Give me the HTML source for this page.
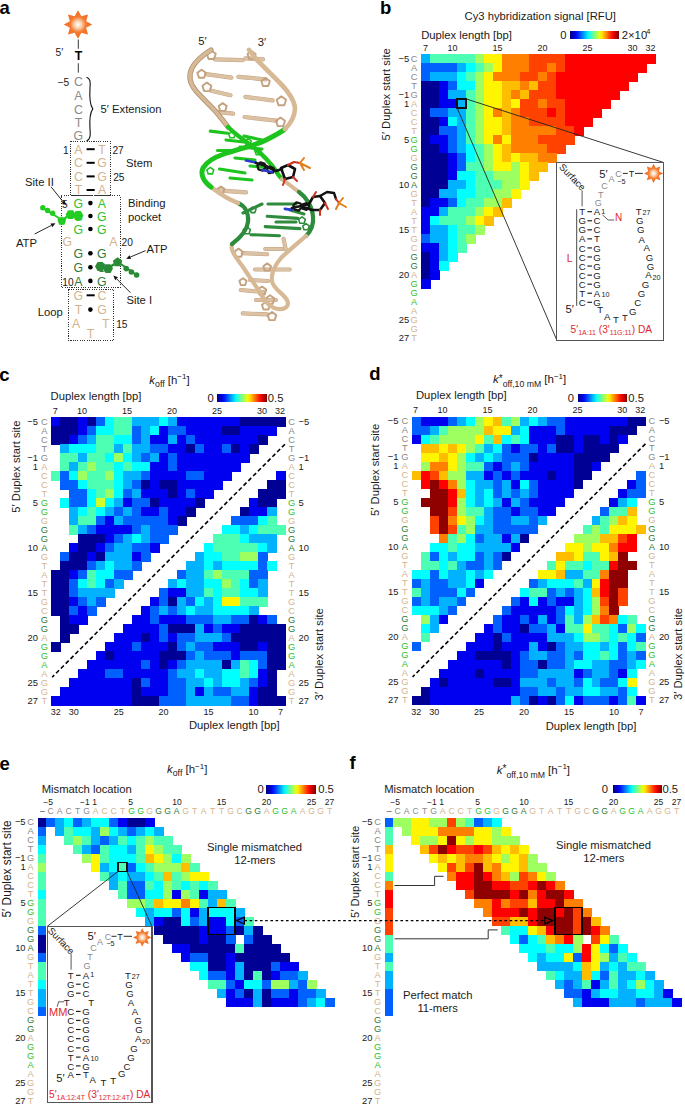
<!DOCTYPE html><html><head><meta charset="utf-8"><style>html,body{margin:0;padding:0;background:#fff;}svg{display:block;} svg rect{shape-rendering:crispEdges;}</style></head><body><svg width="685" height="1105" viewBox="0 0 685 1105" font-family='"Liberation Sans", sans-serif'>
<defs><linearGradient id="jetg" x1="0" x2="1" y1="0" y2="0"><stop offset="0.00" stop-color="#000080"/><stop offset="0.05" stop-color="#0000b2"/><stop offset="0.10" stop-color="#0000e6"/><stop offset="0.15" stop-color="#001aff"/><stop offset="0.20" stop-color="#004dff"/><stop offset="0.25" stop-color="#0080ff"/><stop offset="0.30" stop-color="#00b2ff"/><stop offset="0.35" stop-color="#00e5ff"/><stop offset="0.40" stop-color="#1affe5"/><stop offset="0.45" stop-color="#4dffb2"/><stop offset="0.50" stop-color="#80ff80"/><stop offset="0.55" stop-color="#b3ff4c"/><stop offset="0.60" stop-color="#e5ff1a"/><stop offset="0.65" stop-color="#ffe500"/><stop offset="0.70" stop-color="#ffb300"/><stop offset="0.75" stop-color="#ff8000"/><stop offset="0.80" stop-color="#ff4c00"/><stop offset="0.85" stop-color="#ff1a00"/><stop offset="0.90" stop-color="#e50000"/><stop offset="0.95" stop-color="#b30000"/><stop offset="1.00" stop-color="#800000"/></linearGradient><radialGradient id="starg" cx="0.5" cy="0.5" r="0.5"><stop offset="0" stop-color="#ffffff"/><stop offset="0.25" stop-color="#fbd3b0"/><stop offset="0.55" stop-color="#f47a30"/><stop offset="1" stop-color="#f26a1b"/></radialGradient></defs>
<rect width="685" height="1105" fill="#ffffff"/>
<text x="-0.60" y="14.00" font-size="18.5" fill="#000" text-anchor="start" font-weight="bold" font-style="normal" >a</text>
<text x="380.00" y="14.40" font-size="18.5" fill="#000" text-anchor="start" font-weight="bold" font-style="normal" >b</text>
<text x="-0.80" y="380.50" font-size="18.5" fill="#000" text-anchor="start" font-weight="bold" font-style="normal" >c</text>
<text x="369.20" y="380.40" font-size="18.5" fill="#000" text-anchor="start" font-weight="bold" font-style="normal" >d</text>
<text x="-0.60" y="770.00" font-size="18.5" fill="#000" text-anchor="start" font-weight="bold" font-style="normal" >e</text>
<text x="349.60" y="768.90" font-size="18.5" fill="#000" text-anchor="start" font-weight="bold" font-style="normal" >f</text>
<rect x="421.10" y="53.90" width="9.60" height="9.60" fill="#00b2ff" />
<rect x="430.10" y="53.90" width="9.60" height="9.60" fill="#4dffb2" />
<rect x="439.10" y="53.90" width="9.60" height="9.60" fill="#4dffb2" />
<rect x="448.10" y="53.90" width="9.60" height="9.60" fill="#4dffb2" />
<rect x="457.10" y="53.90" width="9.60" height="9.60" fill="#4dffb2" />
<rect x="466.10" y="53.90" width="9.60" height="9.60" fill="#4dffb2" />
<rect x="475.10" y="53.90" width="9.60" height="9.60" fill="#9eff61" />
<rect x="484.10" y="53.90" width="9.60" height="9.60" fill="#fff500" />
<rect x="493.10" y="53.90" width="9.60" height="9.60" fill="#fff500" />
<rect x="502.10" y="53.90" width="9.60" height="9.60" fill="#ff8000" />
<rect x="511.10" y="53.90" width="9.60" height="9.60" fill="#ff8000" />
<rect x="520.10" y="53.90" width="9.60" height="9.60" fill="#ff8000" />
<rect x="529.10" y="53.90" width="9.60" height="9.60" fill="#ff4200" />
<rect x="538.10" y="53.90" width="9.60" height="9.60" fill="#ff4200" />
<rect x="547.10" y="53.90" width="9.60" height="9.60" fill="#ff4200" />
<rect x="556.10" y="53.90" width="9.60" height="9.60" fill="#ff4200" />
<rect x="565.10" y="53.90" width="9.60" height="9.60" fill="#ff0000" />
<rect x="574.10" y="53.90" width="9.60" height="9.60" fill="#ff0000" />
<rect x="583.10" y="53.90" width="9.60" height="9.60" fill="#ff0000" />
<rect x="592.10" y="53.90" width="9.60" height="9.60" fill="#ff0000" />
<rect x="601.10" y="53.90" width="9.60" height="9.60" fill="#ff0000" />
<rect x="610.10" y="53.90" width="9.60" height="9.60" fill="#ff0000" />
<rect x="619.10" y="53.90" width="9.60" height="9.60" fill="#ff0000" />
<rect x="628.10" y="53.90" width="9.60" height="9.60" fill="#ff0000" />
<rect x="637.10" y="53.90" width="9.60" height="9.60" fill="#ff0000" />
<rect x="646.10" y="53.90" width="9.60" height="9.60" fill="#ff0000" />
<rect x="421.10" y="62.90" width="9.60" height="9.60" fill="#0061ff" />
<rect x="430.10" y="62.90" width="9.60" height="9.60" fill="#0061ff" />
<rect x="439.10" y="62.90" width="9.60" height="9.60" fill="#0061ff" />
<rect x="448.10" y="62.90" width="9.60" height="9.60" fill="#0061ff" />
<rect x="457.10" y="62.90" width="9.60" height="9.60" fill="#00b2ff" />
<rect x="466.10" y="62.90" width="9.60" height="9.60" fill="#00ffff" />
<rect x="475.10" y="62.90" width="9.60" height="9.60" fill="#4dffb2" />
<rect x="484.10" y="62.90" width="9.60" height="9.60" fill="#9eff61" />
<rect x="493.10" y="62.90" width="9.60" height="9.60" fill="#fff500" />
<rect x="502.10" y="62.90" width="9.60" height="9.60" fill="#ff8000" />
<rect x="511.10" y="62.90" width="9.60" height="9.60" fill="#ff8000" />
<rect x="520.10" y="62.90" width="9.60" height="9.60" fill="#ff8000" />
<rect x="529.10" y="62.90" width="9.60" height="9.60" fill="#ff4200" />
<rect x="538.10" y="62.90" width="9.60" height="9.60" fill="#ff4200" />
<rect x="547.10" y="62.90" width="9.60" height="9.60" fill="#ff8000" />
<rect x="556.10" y="62.90" width="9.60" height="9.60" fill="#ff4200" />
<rect x="565.10" y="62.90" width="9.60" height="9.60" fill="#ff0000" />
<rect x="574.10" y="62.90" width="9.60" height="9.60" fill="#ff0000" />
<rect x="583.10" y="62.90" width="9.60" height="9.60" fill="#ff0000" />
<rect x="592.10" y="62.90" width="9.60" height="9.60" fill="#ff0000" />
<rect x="601.10" y="62.90" width="9.60" height="9.60" fill="#ff0000" />
<rect x="610.10" y="62.90" width="9.60" height="9.60" fill="#ff0000" />
<rect x="619.10" y="62.90" width="9.60" height="9.60" fill="#ff0000" />
<rect x="628.10" y="62.90" width="9.60" height="9.60" fill="#ff0000" />
<rect x="637.10" y="62.90" width="9.60" height="9.60" fill="#ff0000" />
<rect x="421.10" y="71.90" width="9.60" height="9.60" fill="#0061ff" />
<rect x="430.10" y="71.90" width="9.60" height="9.60" fill="#00b2ff" />
<rect x="439.10" y="71.90" width="9.60" height="9.60" fill="#00b2ff" />
<rect x="448.10" y="71.90" width="9.60" height="9.60" fill="#00b2ff" />
<rect x="457.10" y="71.90" width="9.60" height="9.60" fill="#00ffff" />
<rect x="466.10" y="71.90" width="9.60" height="9.60" fill="#4dffb2" />
<rect x="475.10" y="71.90" width="9.60" height="9.60" fill="#9eff61" />
<rect x="484.10" y="71.90" width="9.60" height="9.60" fill="#fff500" />
<rect x="493.10" y="71.90" width="9.60" height="9.60" fill="#ff8000" />
<rect x="502.10" y="71.90" width="9.60" height="9.60" fill="#ff8000" />
<rect x="511.10" y="71.90" width="9.60" height="9.60" fill="#ff8000" />
<rect x="520.10" y="71.90" width="9.60" height="9.60" fill="#ff4200" />
<rect x="529.10" y="71.90" width="9.60" height="9.60" fill="#ff4200" />
<rect x="538.10" y="71.90" width="9.60" height="9.60" fill="#ff8000" />
<rect x="547.10" y="71.90" width="9.60" height="9.60" fill="#ff4200" />
<rect x="556.10" y="71.90" width="9.60" height="9.60" fill="#ff0000" />
<rect x="565.10" y="71.90" width="9.60" height="9.60" fill="#ff0000" />
<rect x="574.10" y="71.90" width="9.60" height="9.60" fill="#ff0000" />
<rect x="583.10" y="71.90" width="9.60" height="9.60" fill="#ff0000" />
<rect x="592.10" y="71.90" width="9.60" height="9.60" fill="#ff0000" />
<rect x="601.10" y="71.90" width="9.60" height="9.60" fill="#ff0000" />
<rect x="610.10" y="71.90" width="9.60" height="9.60" fill="#ff0000" />
<rect x="619.10" y="71.90" width="9.60" height="9.60" fill="#ff0000" />
<rect x="628.10" y="71.90" width="9.60" height="9.60" fill="#ff0000" />
<rect x="421.10" y="80.90" width="9.60" height="9.60" fill="#000094" />
<rect x="430.10" y="80.90" width="9.60" height="9.60" fill="#000094" />
<rect x="439.10" y="80.90" width="9.60" height="9.60" fill="#0000f0" />
<rect x="448.10" y="80.90" width="9.60" height="9.60" fill="#0061ff" />
<rect x="457.10" y="80.90" width="9.60" height="9.60" fill="#00ffff" />
<rect x="466.10" y="80.90" width="9.60" height="9.60" fill="#00ffff" />
<rect x="475.10" y="80.90" width="9.60" height="9.60" fill="#9eff61" />
<rect x="484.10" y="80.90" width="9.60" height="9.60" fill="#fff500" />
<rect x="493.10" y="80.90" width="9.60" height="9.60" fill="#fff500" />
<rect x="502.10" y="80.90" width="9.60" height="9.60" fill="#ffbd00" />
<rect x="511.10" y="80.90" width="9.60" height="9.60" fill="#ffbd00" />
<rect x="520.10" y="80.90" width="9.60" height="9.60" fill="#ff8000" />
<rect x="529.10" y="80.90" width="9.60" height="9.60" fill="#ffbd00" />
<rect x="538.10" y="80.90" width="9.60" height="9.60" fill="#ff4200" />
<rect x="547.10" y="80.90" width="9.60" height="9.60" fill="#ff4200" />
<rect x="556.10" y="80.90" width="9.60" height="9.60" fill="#ff0000" />
<rect x="565.10" y="80.90" width="9.60" height="9.60" fill="#ff0000" />
<rect x="574.10" y="80.90" width="9.60" height="9.60" fill="#ff0000" />
<rect x="583.10" y="80.90" width="9.60" height="9.60" fill="#ff0000" />
<rect x="592.10" y="80.90" width="9.60" height="9.60" fill="#ff0000" />
<rect x="601.10" y="80.90" width="9.60" height="9.60" fill="#ff0000" />
<rect x="610.10" y="80.90" width="9.60" height="9.60" fill="#ff0000" />
<rect x="619.10" y="80.90" width="9.60" height="9.60" fill="#ff0000" />
<rect x="421.10" y="89.90" width="9.60" height="9.60" fill="#000094" />
<rect x="430.10" y="89.90" width="9.60" height="9.60" fill="#000094" />
<rect x="439.10" y="89.90" width="9.60" height="9.60" fill="#0000f0" />
<rect x="448.10" y="89.90" width="9.60" height="9.60" fill="#00b2ff" />
<rect x="457.10" y="89.90" width="9.60" height="9.60" fill="#00b2ff" />
<rect x="466.10" y="89.90" width="9.60" height="9.60" fill="#4dffb2" />
<rect x="475.10" y="89.90" width="9.60" height="9.60" fill="#9eff61" />
<rect x="484.10" y="89.90" width="9.60" height="9.60" fill="#fff500" />
<rect x="493.10" y="89.90" width="9.60" height="9.60" fill="#fff500" />
<rect x="502.10" y="89.90" width="9.60" height="9.60" fill="#ffbd00" />
<rect x="511.10" y="89.90" width="9.60" height="9.60" fill="#ff8000" />
<rect x="520.10" y="89.90" width="9.60" height="9.60" fill="#ffbd00" />
<rect x="529.10" y="89.90" width="9.60" height="9.60" fill="#ff4200" />
<rect x="538.10" y="89.90" width="9.60" height="9.60" fill="#ff4200" />
<rect x="547.10" y="89.90" width="9.60" height="9.60" fill="#ff4200" />
<rect x="556.10" y="89.90" width="9.60" height="9.60" fill="#ff0000" />
<rect x="565.10" y="89.90" width="9.60" height="9.60" fill="#ff0000" />
<rect x="574.10" y="89.90" width="9.60" height="9.60" fill="#ff0000" />
<rect x="583.10" y="89.90" width="9.60" height="9.60" fill="#ff0000" />
<rect x="592.10" y="89.90" width="9.60" height="9.60" fill="#ff0000" />
<rect x="601.10" y="89.90" width="9.60" height="9.60" fill="#ff0000" />
<rect x="610.10" y="89.90" width="9.60" height="9.60" fill="#ff0000" />
<rect x="421.10" y="98.90" width="9.60" height="9.60" fill="#000094" />
<rect x="430.10" y="98.90" width="9.60" height="9.60" fill="#000094" />
<rect x="439.10" y="98.90" width="9.60" height="9.60" fill="#0000f0" />
<rect x="448.10" y="98.90" width="9.60" height="9.60" fill="#0000f0" />
<rect x="457.10" y="98.90" width="9.60" height="9.60" fill="#00b2ff" />
<rect x="466.10" y="98.90" width="9.60" height="9.60" fill="#4dffb2" />
<rect x="475.10" y="98.90" width="9.60" height="9.60" fill="#9eff61" />
<rect x="484.10" y="98.90" width="9.60" height="9.60" fill="#fff500" />
<rect x="493.10" y="98.90" width="9.60" height="9.60" fill="#fff500" />
<rect x="502.10" y="98.90" width="9.60" height="9.60" fill="#ffbd00" />
<rect x="511.10" y="98.90" width="9.60" height="9.60" fill="#fff500" />
<rect x="520.10" y="98.90" width="9.60" height="9.60" fill="#ff4200" />
<rect x="529.10" y="98.90" width="9.60" height="9.60" fill="#ff4200" />
<rect x="538.10" y="98.90" width="9.60" height="9.60" fill="#ff8000" />
<rect x="547.10" y="98.90" width="9.60" height="9.60" fill="#ff4200" />
<rect x="556.10" y="98.90" width="9.60" height="9.60" fill="#ff4200" />
<rect x="565.10" y="98.90" width="9.60" height="9.60" fill="#ff0000" />
<rect x="574.10" y="98.90" width="9.60" height="9.60" fill="#ff0000" />
<rect x="583.10" y="98.90" width="9.60" height="9.60" fill="#ff0000" />
<rect x="592.10" y="98.90" width="9.60" height="9.60" fill="#ff0000" />
<rect x="601.10" y="98.90" width="9.60" height="9.60" fill="#ff0000" />
<rect x="421.10" y="107.90" width="9.60" height="9.60" fill="#000094" />
<rect x="430.10" y="107.90" width="9.60" height="9.60" fill="#0061ff" />
<rect x="439.10" y="107.90" width="9.60" height="9.60" fill="#0061ff" />
<rect x="448.10" y="107.90" width="9.60" height="9.60" fill="#00b2ff" />
<rect x="457.10" y="107.90" width="9.60" height="9.60" fill="#00b2ff" />
<rect x="466.10" y="107.90" width="9.60" height="9.60" fill="#4dffb2" />
<rect x="475.10" y="107.90" width="9.60" height="9.60" fill="#9eff61" />
<rect x="484.10" y="107.90" width="9.60" height="9.60" fill="#fff500" />
<rect x="493.10" y="107.90" width="9.60" height="9.60" fill="#ff8000" />
<rect x="502.10" y="107.90" width="9.60" height="9.60" fill="#ffbd00" />
<rect x="511.10" y="107.90" width="9.60" height="9.60" fill="#ff8000" />
<rect x="520.10" y="107.90" width="9.60" height="9.60" fill="#ff4200" />
<rect x="529.10" y="107.90" width="9.60" height="9.60" fill="#ff4200" />
<rect x="538.10" y="107.90" width="9.60" height="9.60" fill="#ff4200" />
<rect x="547.10" y="107.90" width="9.60" height="9.60" fill="#ff0000" />
<rect x="556.10" y="107.90" width="9.60" height="9.60" fill="#ff4200" />
<rect x="565.10" y="107.90" width="9.60" height="9.60" fill="#ff0000" />
<rect x="574.10" y="107.90" width="9.60" height="9.60" fill="#ff0000" />
<rect x="583.10" y="107.90" width="9.60" height="9.60" fill="#ff0000" />
<rect x="592.10" y="107.90" width="9.60" height="9.60" fill="#ff0000" />
<rect x="421.10" y="116.90" width="9.60" height="9.60" fill="#000094" />
<rect x="430.10" y="116.90" width="9.60" height="9.60" fill="#000094" />
<rect x="439.10" y="116.90" width="9.60" height="9.60" fill="#0000f0" />
<rect x="448.10" y="116.90" width="9.60" height="9.60" fill="#00ffff" />
<rect x="457.10" y="116.90" width="9.60" height="9.60" fill="#00b2ff" />
<rect x="466.10" y="116.90" width="9.60" height="9.60" fill="#4dffb2" />
<rect x="475.10" y="116.90" width="9.60" height="9.60" fill="#9eff61" />
<rect x="484.10" y="116.90" width="9.60" height="9.60" fill="#fff500" />
<rect x="493.10" y="116.90" width="9.60" height="9.60" fill="#fff500" />
<rect x="502.10" y="116.90" width="9.60" height="9.60" fill="#ffbd00" />
<rect x="511.10" y="116.90" width="9.60" height="9.60" fill="#ff8000" />
<rect x="520.10" y="116.90" width="9.60" height="9.60" fill="#ff8000" />
<rect x="529.10" y="116.90" width="9.60" height="9.60" fill="#ff4200" />
<rect x="538.10" y="116.90" width="9.60" height="9.60" fill="#ff4200" />
<rect x="547.10" y="116.90" width="9.60" height="9.60" fill="#ff4200" />
<rect x="556.10" y="116.90" width="9.60" height="9.60" fill="#ff4200" />
<rect x="565.10" y="116.90" width="9.60" height="9.60" fill="#ff0000" />
<rect x="574.10" y="116.90" width="9.60" height="9.60" fill="#ff0000" />
<rect x="583.10" y="116.90" width="9.60" height="9.60" fill="#ff0000" />
<rect x="421.10" y="125.90" width="9.60" height="9.60" fill="#000094" />
<rect x="430.10" y="125.90" width="9.60" height="9.60" fill="#000094" />
<rect x="439.10" y="125.90" width="9.60" height="9.60" fill="#0061ff" />
<rect x="448.10" y="125.90" width="9.60" height="9.60" fill="#0061ff" />
<rect x="457.10" y="125.90" width="9.60" height="9.60" fill="#00b2ff" />
<rect x="466.10" y="125.90" width="9.60" height="9.60" fill="#4dffb2" />
<rect x="475.10" y="125.90" width="9.60" height="9.60" fill="#9eff61" />
<rect x="484.10" y="125.90" width="9.60" height="9.60" fill="#fff500" />
<rect x="493.10" y="125.90" width="9.60" height="9.60" fill="#fff500" />
<rect x="502.10" y="125.90" width="9.60" height="9.60" fill="#ffbd00" />
<rect x="511.10" y="125.90" width="9.60" height="9.60" fill="#ff8000" />
<rect x="520.10" y="125.90" width="9.60" height="9.60" fill="#ff8000" />
<rect x="529.10" y="125.90" width="9.60" height="9.60" fill="#ff8000" />
<rect x="538.10" y="125.90" width="9.60" height="9.60" fill="#ff8000" />
<rect x="547.10" y="125.90" width="9.60" height="9.60" fill="#ff8000" />
<rect x="556.10" y="125.90" width="9.60" height="9.60" fill="#ff4200" />
<rect x="565.10" y="125.90" width="9.60" height="9.60" fill="#ff4200" />
<rect x="574.10" y="125.90" width="9.60" height="9.60" fill="#ff0000" />
<rect x="421.10" y="134.90" width="9.60" height="9.60" fill="#000094" />
<rect x="430.10" y="134.90" width="9.60" height="9.60" fill="#0000f0" />
<rect x="439.10" y="134.90" width="9.60" height="9.60" fill="#0000f0" />
<rect x="448.10" y="134.90" width="9.60" height="9.60" fill="#0061ff" />
<rect x="457.10" y="134.90" width="9.60" height="9.60" fill="#00b2ff" />
<rect x="466.10" y="134.90" width="9.60" height="9.60" fill="#4dffb2" />
<rect x="475.10" y="134.90" width="9.60" height="9.60" fill="#9eff61" />
<rect x="484.10" y="134.90" width="9.60" height="9.60" fill="#fff500" />
<rect x="493.10" y="134.90" width="9.60" height="9.60" fill="#ff8000" />
<rect x="502.10" y="134.90" width="9.60" height="9.60" fill="#fff500" />
<rect x="511.10" y="134.90" width="9.60" height="9.60" fill="#ff8000" />
<rect x="520.10" y="134.90" width="9.60" height="9.60" fill="#ff8000" />
<rect x="529.10" y="134.90" width="9.60" height="9.60" fill="#ff8000" />
<rect x="538.10" y="134.90" width="9.60" height="9.60" fill="#ff4200" />
<rect x="547.10" y="134.90" width="9.60" height="9.60" fill="#ff4200" />
<rect x="556.10" y="134.90" width="9.60" height="9.60" fill="#ff4200" />
<rect x="565.10" y="134.90" width="9.60" height="9.60" fill="#ff4200" />
<rect x="421.10" y="143.90" width="9.60" height="9.60" fill="#000094" />
<rect x="430.10" y="143.90" width="9.60" height="9.60" fill="#000094" />
<rect x="439.10" y="143.90" width="9.60" height="9.60" fill="#0000f0" />
<rect x="448.10" y="143.90" width="9.60" height="9.60" fill="#0061ff" />
<rect x="457.10" y="143.90" width="9.60" height="9.60" fill="#00b2ff" />
<rect x="466.10" y="143.90" width="9.60" height="9.60" fill="#00ffff" />
<rect x="475.10" y="143.90" width="9.60" height="9.60" fill="#4dffb2" />
<rect x="484.10" y="143.90" width="9.60" height="9.60" fill="#9eff61" />
<rect x="493.10" y="143.90" width="9.60" height="9.60" fill="#fff500" />
<rect x="502.10" y="143.90" width="9.60" height="9.60" fill="#ffbd00" />
<rect x="511.10" y="143.90" width="9.60" height="9.60" fill="#ff8000" />
<rect x="520.10" y="143.90" width="9.60" height="9.60" fill="#ff8000" />
<rect x="529.10" y="143.90" width="9.60" height="9.60" fill="#ff8000" />
<rect x="538.10" y="143.90" width="9.60" height="9.60" fill="#ff8000" />
<rect x="547.10" y="143.90" width="9.60" height="9.60" fill="#ff4200" />
<rect x="556.10" y="143.90" width="9.60" height="9.60" fill="#ff4200" />
<rect x="421.10" y="152.90" width="9.60" height="9.60" fill="#000094" />
<rect x="430.10" y="152.90" width="9.60" height="9.60" fill="#000094" />
<rect x="439.10" y="152.90" width="9.60" height="9.60" fill="#000094" />
<rect x="448.10" y="152.90" width="9.60" height="9.60" fill="#0000f0" />
<rect x="457.10" y="152.90" width="9.60" height="9.60" fill="#0061ff" />
<rect x="466.10" y="152.90" width="9.60" height="9.60" fill="#00ffff" />
<rect x="475.10" y="152.90" width="9.60" height="9.60" fill="#4dffb2" />
<rect x="484.10" y="152.90" width="9.60" height="9.60" fill="#9eff61" />
<rect x="493.10" y="152.90" width="9.60" height="9.60" fill="#fff500" />
<rect x="502.10" y="152.90" width="9.60" height="9.60" fill="#ffbd00" />
<rect x="511.10" y="152.90" width="9.60" height="9.60" fill="#fff500" />
<rect x="520.10" y="152.90" width="9.60" height="9.60" fill="#ffbd00" />
<rect x="529.10" y="152.90" width="9.60" height="9.60" fill="#ffbd00" />
<rect x="538.10" y="152.90" width="9.60" height="9.60" fill="#ff8000" />
<rect x="547.10" y="152.90" width="9.60" height="9.60" fill="#ff8000" />
<rect x="421.10" y="161.90" width="9.60" height="9.60" fill="#000094" />
<rect x="430.10" y="161.90" width="9.60" height="9.60" fill="#000094" />
<rect x="439.10" y="161.90" width="9.60" height="9.60" fill="#000094" />
<rect x="448.10" y="161.90" width="9.60" height="9.60" fill="#0000f0" />
<rect x="457.10" y="161.90" width="9.60" height="9.60" fill="#0061ff" />
<rect x="466.10" y="161.90" width="9.60" height="9.60" fill="#4dffb2" />
<rect x="475.10" y="161.90" width="9.60" height="9.60" fill="#4dffb2" />
<rect x="484.10" y="161.90" width="9.60" height="9.60" fill="#9eff61" />
<rect x="493.10" y="161.90" width="9.60" height="9.60" fill="#fff500" />
<rect x="502.10" y="161.90" width="9.60" height="9.60" fill="#fff500" />
<rect x="511.10" y="161.90" width="9.60" height="9.60" fill="#9eff61" />
<rect x="520.10" y="161.90" width="9.60" height="9.60" fill="#fff500" />
<rect x="529.10" y="161.90" width="9.60" height="9.60" fill="#ffbd00" />
<rect x="538.10" y="161.90" width="9.60" height="9.60" fill="#ffbd00" />
<rect x="421.10" y="170.90" width="9.60" height="9.60" fill="#000094" />
<rect x="430.10" y="170.90" width="9.60" height="9.60" fill="#000094" />
<rect x="439.10" y="170.90" width="9.60" height="9.60" fill="#000094" />
<rect x="448.10" y="170.90" width="9.60" height="9.60" fill="#0000f0" />
<rect x="457.10" y="170.90" width="9.60" height="9.60" fill="#00ffff" />
<rect x="466.10" y="170.90" width="9.60" height="9.60" fill="#00ffff" />
<rect x="475.10" y="170.90" width="9.60" height="9.60" fill="#4dffb2" />
<rect x="484.10" y="170.90" width="9.60" height="9.60" fill="#4dffb2" />
<rect x="493.10" y="170.90" width="9.60" height="9.60" fill="#9eff61" />
<rect x="502.10" y="170.90" width="9.60" height="9.60" fill="#9eff61" />
<rect x="511.10" y="170.90" width="9.60" height="9.60" fill="#9eff61" />
<rect x="520.10" y="170.90" width="9.60" height="9.60" fill="#fff500" />
<rect x="529.10" y="170.90" width="9.60" height="9.60" fill="#ffbd00" />
<rect x="421.10" y="179.90" width="9.60" height="9.60" fill="#000094" />
<rect x="430.10" y="179.90" width="9.60" height="9.60" fill="#000094" />
<rect x="439.10" y="179.90" width="9.60" height="9.60" fill="#000094" />
<rect x="448.10" y="179.90" width="9.60" height="9.60" fill="#00b2ff" />
<rect x="457.10" y="179.90" width="9.60" height="9.60" fill="#00b2ff" />
<rect x="466.10" y="179.90" width="9.60" height="9.60" fill="#00ffff" />
<rect x="475.10" y="179.90" width="9.60" height="9.60" fill="#4dffb2" />
<rect x="484.10" y="179.90" width="9.60" height="9.60" fill="#4dffb2" />
<rect x="493.10" y="179.90" width="9.60" height="9.60" fill="#4dffb2" />
<rect x="502.10" y="179.90" width="9.60" height="9.60" fill="#9eff61" />
<rect x="511.10" y="179.90" width="9.60" height="9.60" fill="#9eff61" />
<rect x="520.10" y="179.90" width="9.60" height="9.60" fill="#fff500" />
<rect x="421.10" y="188.90" width="9.60" height="9.60" fill="#000094" />
<rect x="430.10" y="188.90" width="9.60" height="9.60" fill="#000094" />
<rect x="439.10" y="188.90" width="9.60" height="9.60" fill="#00b2ff" />
<rect x="448.10" y="188.90" width="9.60" height="9.60" fill="#00b2ff" />
<rect x="457.10" y="188.90" width="9.60" height="9.60" fill="#00ffff" />
<rect x="466.10" y="188.90" width="9.60" height="9.60" fill="#00ffff" />
<rect x="475.10" y="188.90" width="9.60" height="9.60" fill="#4dffb2" />
<rect x="484.10" y="188.90" width="9.60" height="9.60" fill="#4dffb2" />
<rect x="493.10" y="188.90" width="9.60" height="9.60" fill="#9eff61" />
<rect x="502.10" y="188.90" width="9.60" height="9.60" fill="#9eff61" />
<rect x="511.10" y="188.90" width="9.60" height="9.60" fill="#fff500" />
<rect x="421.10" y="197.90" width="9.60" height="9.60" fill="#000094" />
<rect x="430.10" y="197.90" width="9.60" height="9.60" fill="#0000f0" />
<rect x="439.10" y="197.90" width="9.60" height="9.60" fill="#0000f0" />
<rect x="448.10" y="197.90" width="9.60" height="9.60" fill="#0061ff" />
<rect x="457.10" y="197.90" width="9.60" height="9.60" fill="#00ffff" />
<rect x="466.10" y="197.90" width="9.60" height="9.60" fill="#4dffb2" />
<rect x="475.10" y="197.90" width="9.60" height="9.60" fill="#4dffb2" />
<rect x="484.10" y="197.90" width="9.60" height="9.60" fill="#9eff61" />
<rect x="493.10" y="197.90" width="9.60" height="9.60" fill="#9eff61" />
<rect x="502.10" y="197.90" width="9.60" height="9.60" fill="#ffbd00" />
<rect x="421.10" y="206.90" width="9.60" height="9.60" fill="#0000f0" />
<rect x="430.10" y="206.90" width="9.60" height="9.60" fill="#0000f0" />
<rect x="439.10" y="206.90" width="9.60" height="9.60" fill="#00b2ff" />
<rect x="448.10" y="206.90" width="9.60" height="9.60" fill="#4dffb2" />
<rect x="457.10" y="206.90" width="9.60" height="9.60" fill="#4dffb2" />
<rect x="466.10" y="206.90" width="9.60" height="9.60" fill="#4dffb2" />
<rect x="475.10" y="206.90" width="9.60" height="9.60" fill="#9eff61" />
<rect x="484.10" y="206.90" width="9.60" height="9.60" fill="#fff500" />
<rect x="493.10" y="206.90" width="9.60" height="9.60" fill="#ffbd00" />
<rect x="421.10" y="215.90" width="9.60" height="9.60" fill="#0000f0" />
<rect x="430.10" y="215.90" width="9.60" height="9.60" fill="#00ffff" />
<rect x="439.10" y="215.90" width="9.60" height="9.60" fill="#4dffb2" />
<rect x="448.10" y="215.90" width="9.60" height="9.60" fill="#4dffb2" />
<rect x="457.10" y="215.90" width="9.60" height="9.60" fill="#4dffb2" />
<rect x="466.10" y="215.90" width="9.60" height="9.60" fill="#9eff61" />
<rect x="475.10" y="215.90" width="9.60" height="9.60" fill="#fff500" />
<rect x="484.10" y="215.90" width="9.60" height="9.60" fill="#ffbd00" />
<rect x="421.10" y="224.90" width="9.60" height="9.60" fill="#0000f0" />
<rect x="430.10" y="224.90" width="9.60" height="9.60" fill="#00b2ff" />
<rect x="439.10" y="224.90" width="9.60" height="9.60" fill="#00b2ff" />
<rect x="448.10" y="224.90" width="9.60" height="9.60" fill="#00ffff" />
<rect x="457.10" y="224.90" width="9.60" height="9.60" fill="#4dffb2" />
<rect x="466.10" y="224.90" width="9.60" height="9.60" fill="#4dffb2" />
<rect x="475.10" y="224.90" width="9.60" height="9.60" fill="#9eff61" />
<rect x="421.10" y="233.90" width="9.60" height="9.60" fill="#0061ff" />
<rect x="430.10" y="233.90" width="9.60" height="9.60" fill="#00b2ff" />
<rect x="439.10" y="233.90" width="9.60" height="9.60" fill="#00b2ff" />
<rect x="448.10" y="233.90" width="9.60" height="9.60" fill="#00ffff" />
<rect x="457.10" y="233.90" width="9.60" height="9.60" fill="#4dffb2" />
<rect x="466.10" y="233.90" width="9.60" height="9.60" fill="#9eff61" />
<rect x="421.10" y="242.90" width="9.60" height="9.60" fill="#0000f0" />
<rect x="430.10" y="242.90" width="9.60" height="9.60" fill="#0000f0" />
<rect x="439.10" y="242.90" width="9.60" height="9.60" fill="#00b2ff" />
<rect x="448.10" y="242.90" width="9.60" height="9.60" fill="#00ffff" />
<rect x="457.10" y="242.90" width="9.60" height="9.60" fill="#4dffb2" />
<rect x="421.10" y="251.90" width="9.60" height="9.60" fill="#000094" />
<rect x="430.10" y="251.90" width="9.60" height="9.60" fill="#0000f0" />
<rect x="439.10" y="251.90" width="9.60" height="9.60" fill="#00b2ff" />
<rect x="448.10" y="251.90" width="9.60" height="9.60" fill="#00ffff" />
<rect x="421.10" y="260.90" width="9.60" height="9.60" fill="#000094" />
<rect x="430.10" y="260.90" width="9.60" height="9.60" fill="#0000f0" />
<rect x="439.10" y="260.90" width="9.60" height="9.60" fill="#00ffff" />
<rect x="421.10" y="269.90" width="9.60" height="9.60" fill="#000094" />
<rect x="430.10" y="269.90" width="9.60" height="9.60" fill="#0000f0" />
<rect x="421.10" y="278.90" width="9.60" height="9.60" fill="#0000f0" />
<text x="464.60" y="20.00" font-size="11.25" fill="#1a1a1a" text-anchor="start" font-weight="normal" font-style="normal" >Cy3 hybridization signal [RFU]</text>
<text x="421.20" y="38.50" font-size="11.25" fill="#1a1a1a" text-anchor="start" font-weight="normal" font-style="normal" >Duplex length [bp]</text>
<rect x="570.20" y="31.00" width="48.60" height="8.20" fill="url(#jetg)" />
<text x="566.40" y="39.20" font-size="11.25" fill="#1a1a1a" text-anchor="end" font-weight="normal" font-style="normal" >0</text>
<text x="621.80" y="39.20" font-size="11.25" fill="#1a1a1a" text-anchor="start" font-weight="normal" font-style="normal" >2×10</text>
<text x="646.20" y="34.00" font-size="7.5" fill="#1a1a1a" text-anchor="start" font-weight="normal" font-style="normal" >4</text>
<text x="425.60" y="51.30" font-size="9.0" fill="#1a1a1a" text-anchor="middle" font-weight="normal" font-style="normal" >7</text>
<text x="452.60" y="51.30" font-size="9.0" fill="#1a1a1a" text-anchor="middle" font-weight="normal" font-style="normal" >10</text>
<text x="497.60" y="51.30" font-size="9.0" fill="#1a1a1a" text-anchor="middle" font-weight="normal" font-style="normal" >15</text>
<text x="542.60" y="51.30" font-size="9.0" fill="#1a1a1a" text-anchor="middle" font-weight="normal" font-style="normal" >20</text>
<text x="587.60" y="51.30" font-size="9.0" fill="#1a1a1a" text-anchor="middle" font-weight="normal" font-style="normal" >25</text>
<text x="632.60" y="51.30" font-size="9.0" fill="#1a1a1a" text-anchor="middle" font-weight="normal" font-style="normal" >30</text>
<text x="650.60" y="51.30" font-size="9.0" fill="#1a1a1a" text-anchor="middle" font-weight="normal" font-style="normal" >32</text>
<text x="414.00" y="61.70" font-size="9.3" fill="#8a8a8a" text-anchor="middle" font-weight="normal" font-style="normal" >C</text>
<text x="409.20" y="61.70" font-size="9.4" fill="#1a1a1a" text-anchor="end" font-weight="normal" font-style="normal" >−5</text>
<text x="414.00" y="70.70" font-size="9.3" fill="#8a8a8a" text-anchor="middle" font-weight="normal" font-style="normal" >A</text>
<text x="414.00" y="79.70" font-size="9.3" fill="#8a8a8a" text-anchor="middle" font-weight="normal" font-style="normal" >C</text>
<text x="414.00" y="88.70" font-size="9.3" fill="#8a8a8a" text-anchor="middle" font-weight="normal" font-style="normal" >T</text>
<text x="414.00" y="97.70" font-size="9.3" fill="#8a8a8a" text-anchor="middle" font-weight="normal" font-style="normal" >G</text>
<text x="409.20" y="97.70" font-size="9.4" fill="#1a1a1a" text-anchor="end" font-weight="normal" font-style="normal" >−1</text>
<text x="414.00" y="106.70" font-size="9.3" fill="#d2b48f" text-anchor="middle" font-weight="normal" font-style="normal" >A</text>
<text x="409.20" y="106.70" font-size="9.4" fill="#1a1a1a" text-anchor="end" font-weight="normal" font-style="normal" >1</text>
<text x="414.00" y="115.70" font-size="9.3" fill="#d2b48f" text-anchor="middle" font-weight="normal" font-style="normal" >C</text>
<text x="414.00" y="124.70" font-size="9.3" fill="#d2b48f" text-anchor="middle" font-weight="normal" font-style="normal" >C</text>
<text x="414.00" y="133.70" font-size="9.3" fill="#d2b48f" text-anchor="middle" font-weight="normal" font-style="normal" >T</text>
<text x="414.00" y="142.70" font-size="9.3" fill="#2ebf2e" text-anchor="middle" font-weight="normal" font-style="normal" >G</text>
<text x="409.20" y="142.70" font-size="9.4" fill="#1a1a1a" text-anchor="end" font-weight="normal" font-style="normal" >5</text>
<text x="414.00" y="151.70" font-size="9.3" fill="#2ebf2e" text-anchor="middle" font-weight="normal" font-style="normal" >G</text>
<text x="414.00" y="160.70" font-size="9.3" fill="#d2b48f" text-anchor="middle" font-weight="normal" font-style="normal" >G</text>
<text x="414.00" y="169.70" font-size="9.3" fill="#2e7a38" text-anchor="middle" font-weight="normal" font-style="normal" >G</text>
<text x="414.00" y="178.70" font-size="9.3" fill="#2e7a38" text-anchor="middle" font-weight="normal" font-style="normal" >G</text>
<text x="414.00" y="187.70" font-size="9.3" fill="#2e7a38" text-anchor="middle" font-weight="normal" font-style="normal" >A</text>
<text x="409.20" y="187.70" font-size="9.4" fill="#1a1a1a" text-anchor="end" font-weight="normal" font-style="normal" >10</text>
<text x="414.00" y="196.70" font-size="9.3" fill="#d2b48f" text-anchor="middle" font-weight="normal" font-style="normal" >G</text>
<text x="414.00" y="205.70" font-size="9.3" fill="#d2b48f" text-anchor="middle" font-weight="normal" font-style="normal" >T</text>
<text x="414.00" y="214.70" font-size="9.3" fill="#d2b48f" text-anchor="middle" font-weight="normal" font-style="normal" >A</text>
<text x="414.00" y="223.70" font-size="9.3" fill="#d2b48f" text-anchor="middle" font-weight="normal" font-style="normal" >T</text>
<text x="414.00" y="232.70" font-size="9.3" fill="#d2b48f" text-anchor="middle" font-weight="normal" font-style="normal" >T</text>
<text x="409.20" y="232.70" font-size="9.4" fill="#1a1a1a" text-anchor="end" font-weight="normal" font-style="normal" >15</text>
<text x="414.00" y="241.70" font-size="9.3" fill="#d2b48f" text-anchor="middle" font-weight="normal" font-style="normal" >G</text>
<text x="414.00" y="250.70" font-size="9.3" fill="#d2b48f" text-anchor="middle" font-weight="normal" font-style="normal" >C</text>
<text x="414.00" y="259.70" font-size="9.3" fill="#2e7a38" text-anchor="middle" font-weight="normal" font-style="normal" >G</text>
<text x="414.00" y="268.70" font-size="9.3" fill="#2e7a38" text-anchor="middle" font-weight="normal" font-style="normal" >G</text>
<text x="414.00" y="277.70" font-size="9.3" fill="#d2b48f" text-anchor="middle" font-weight="normal" font-style="normal" >A</text>
<text x="409.20" y="277.70" font-size="9.4" fill="#1a1a1a" text-anchor="end" font-weight="normal" font-style="normal" >20</text>
<text x="414.00" y="286.70" font-size="9.3" fill="#2ebf2e" text-anchor="middle" font-weight="normal" font-style="normal" >G</text>
<text x="414.00" y="295.70" font-size="9.3" fill="#2ebf2e" text-anchor="middle" font-weight="normal" font-style="normal" >G</text>
<text x="414.00" y="304.70" font-size="9.3" fill="#2ebf2e" text-anchor="middle" font-weight="normal" font-style="normal" >A</text>
<text x="414.00" y="313.70" font-size="9.3" fill="#d2b48f" text-anchor="middle" font-weight="normal" font-style="normal" >A</text>
<text x="414.00" y="322.70" font-size="9.3" fill="#d2b48f" text-anchor="middle" font-weight="normal" font-style="normal" >G</text>
<text x="409.20" y="322.70" font-size="9.4" fill="#1a1a1a" text-anchor="end" font-weight="normal" font-style="normal" >25</text>
<text x="414.00" y="331.70" font-size="9.3" fill="#d2b48f" text-anchor="middle" font-weight="normal" font-style="normal" >G</text>
<text x="414.00" y="340.70" font-size="9.3" fill="#d2b48f" text-anchor="middle" font-weight="normal" font-style="normal" >T</text>
<text x="409.20" y="340.70" font-size="9.4" fill="#1a1a1a" text-anchor="end" font-weight="normal" font-style="normal" >27</text>
<text x="0" y="0" font-size="11.25" fill="#1a1a1a" text-anchor="middle" transform="translate(386.30,94.30) rotate(-90)" dominant-baseline="central">5′ Duplex start site</text>
<rect x="51.25" y="416.90" width="9.59" height="9.60" fill="#0000f0" />
<rect x="60.24" y="416.90" width="9.59" height="9.60" fill="#000094" />
<rect x="69.23" y="416.90" width="9.59" height="9.60" fill="#000094" />
<rect x="78.22" y="416.90" width="9.59" height="9.60" fill="#0000f0" />
<rect x="87.21" y="416.90" width="9.59" height="9.60" fill="#000094" />
<rect x="96.20" y="416.90" width="9.59" height="9.60" fill="#0061ff" />
<rect x="105.19" y="416.90" width="9.59" height="9.60" fill="#00ffff" />
<rect x="114.18" y="416.90" width="9.59" height="9.60" fill="#4dffb2" />
<rect x="123.17" y="416.90" width="9.59" height="9.60" fill="#4dffb2" />
<rect x="132.16" y="416.90" width="9.59" height="9.60" fill="#00b2ff" />
<rect x="141.15" y="416.90" width="9.59" height="9.60" fill="#00b2ff" />
<rect x="150.14" y="416.90" width="9.59" height="9.60" fill="#00b2ff" />
<rect x="159.13" y="416.90" width="9.59" height="9.60" fill="#00ffff" />
<rect x="168.12" y="416.90" width="9.59" height="9.60" fill="#00b2ff" />
<rect x="177.11" y="416.90" width="9.59" height="9.60" fill="#0000f0" />
<rect x="186.10" y="416.90" width="9.59" height="9.60" fill="#0000f0" />
<rect x="195.09" y="416.90" width="9.59" height="9.60" fill="#0000f0" />
<rect x="204.08" y="416.90" width="9.59" height="9.60" fill="#0000f0" />
<rect x="213.07" y="416.90" width="9.59" height="9.60" fill="#0000f0" />
<rect x="222.06" y="416.90" width="9.59" height="9.60" fill="#0000f0" />
<rect x="231.05" y="416.90" width="9.59" height="9.60" fill="#0000f0" />
<rect x="240.04" y="416.90" width="9.59" height="9.60" fill="#000094" />
<rect x="249.03" y="416.90" width="9.59" height="9.60" fill="#000094" />
<rect x="258.02" y="416.90" width="9.59" height="9.60" fill="#000094" />
<rect x="267.01" y="416.90" width="9.59" height="9.60" fill="#000094" />
<rect x="276.00" y="416.90" width="9.59" height="9.60" fill="#000094" />
<rect x="51.25" y="425.90" width="9.59" height="9.60" fill="#000094" />
<rect x="60.24" y="425.90" width="9.59" height="9.60" fill="#000094" />
<rect x="69.23" y="425.90" width="9.59" height="9.60" fill="#000094" />
<rect x="78.22" y="425.90" width="9.59" height="9.60" fill="#0000f0" />
<rect x="87.21" y="425.90" width="9.59" height="9.60" fill="#0061ff" />
<rect x="96.20" y="425.90" width="9.59" height="9.60" fill="#00ffff" />
<rect x="105.19" y="425.90" width="9.59" height="9.60" fill="#00ffff" />
<rect x="114.18" y="425.90" width="9.59" height="9.60" fill="#4dffb2" />
<rect x="123.17" y="425.90" width="9.59" height="9.60" fill="#4dffb2" />
<rect x="132.16" y="425.90" width="9.59" height="9.60" fill="#0061ff" />
<rect x="141.15" y="425.90" width="9.59" height="9.60" fill="#00b2ff" />
<rect x="150.14" y="425.90" width="9.59" height="9.60" fill="#00ffff" />
<rect x="159.13" y="425.90" width="9.59" height="9.60" fill="#0000f0" />
<rect x="168.12" y="425.90" width="9.59" height="9.60" fill="#0061ff" />
<rect x="177.11" y="425.90" width="9.59" height="9.60" fill="#0061ff" />
<rect x="186.10" y="425.90" width="9.59" height="9.60" fill="#0000f0" />
<rect x="195.09" y="425.90" width="9.59" height="9.60" fill="#0000f0" />
<rect x="204.08" y="425.90" width="9.59" height="9.60" fill="#0000f0" />
<rect x="213.07" y="425.90" width="9.59" height="9.60" fill="#0000f0" />
<rect x="222.06" y="425.90" width="9.59" height="9.60" fill="#000094" />
<rect x="231.05" y="425.90" width="9.59" height="9.60" fill="#000094" />
<rect x="240.04" y="425.90" width="9.59" height="9.60" fill="#0000f0" />
<rect x="249.03" y="425.90" width="9.59" height="9.60" fill="#0000f0" />
<rect x="258.02" y="425.90" width="9.59" height="9.60" fill="#0000f0" />
<rect x="267.01" y="425.90" width="9.59" height="9.60" fill="#0000f0" />
<rect x="51.25" y="434.90" width="9.59" height="9.60" fill="#000094" />
<rect x="60.24" y="434.90" width="9.59" height="9.60" fill="#000094" />
<rect x="69.23" y="434.90" width="9.59" height="9.60" fill="#0000f0" />
<rect x="78.22" y="434.90" width="9.59" height="9.60" fill="#0061ff" />
<rect x="87.21" y="434.90" width="9.59" height="9.60" fill="#00b2ff" />
<rect x="96.20" y="434.90" width="9.59" height="9.60" fill="#4dffb2" />
<rect x="105.19" y="434.90" width="9.59" height="9.60" fill="#4dffb2" />
<rect x="114.18" y="434.90" width="9.59" height="9.60" fill="#00ffff" />
<rect x="123.17" y="434.90" width="9.59" height="9.60" fill="#00ffff" />
<rect x="132.16" y="434.90" width="9.59" height="9.60" fill="#0061ff" />
<rect x="141.15" y="434.90" width="9.59" height="9.60" fill="#00b2ff" />
<rect x="150.14" y="434.90" width="9.59" height="9.60" fill="#0000f0" />
<rect x="159.13" y="434.90" width="9.59" height="9.60" fill="#0000f0" />
<rect x="168.12" y="434.90" width="9.59" height="9.60" fill="#00b2ff" />
<rect x="177.11" y="434.90" width="9.59" height="9.60" fill="#0000f0" />
<rect x="186.10" y="434.90" width="9.59" height="9.60" fill="#0061ff" />
<rect x="195.09" y="434.90" width="9.59" height="9.60" fill="#0000f0" />
<rect x="204.08" y="434.90" width="9.59" height="9.60" fill="#0000f0" />
<rect x="213.07" y="434.90" width="9.59" height="9.60" fill="#0000f0" />
<rect x="222.06" y="434.90" width="9.59" height="9.60" fill="#0000f0" />
<rect x="231.05" y="434.90" width="9.59" height="9.60" fill="#0000f0" />
<rect x="240.04" y="434.90" width="9.59" height="9.60" fill="#0000f0" />
<rect x="249.03" y="434.90" width="9.59" height="9.60" fill="#0000f0" />
<rect x="258.02" y="434.90" width="9.59" height="9.60" fill="#000094" />
<rect x="60.24" y="443.90" width="9.59" height="9.60" fill="#00b2ff" />
<rect x="69.23" y="443.90" width="9.59" height="9.60" fill="#00ffff" />
<rect x="78.22" y="443.90" width="9.59" height="9.60" fill="#00ffff" />
<rect x="87.21" y="443.90" width="9.59" height="9.60" fill="#00ffff" />
<rect x="96.20" y="443.90" width="9.59" height="9.60" fill="#4dffb2" />
<rect x="105.19" y="443.90" width="9.59" height="9.60" fill="#4dffb2" />
<rect x="114.18" y="443.90" width="9.59" height="9.60" fill="#00b2ff" />
<rect x="123.17" y="443.90" width="9.59" height="9.60" fill="#4dffb2" />
<rect x="132.16" y="443.90" width="9.59" height="9.60" fill="#00b2ff" />
<rect x="141.15" y="443.90" width="9.59" height="9.60" fill="#00b2ff" />
<rect x="150.14" y="443.90" width="9.59" height="9.60" fill="#0061ff" />
<rect x="159.13" y="443.90" width="9.59" height="9.60" fill="#0061ff" />
<rect x="168.12" y="443.90" width="9.59" height="9.60" fill="#0000f0" />
<rect x="177.11" y="443.90" width="9.59" height="9.60" fill="#0000f0" />
<rect x="186.10" y="443.90" width="9.59" height="9.60" fill="#000094" />
<rect x="195.09" y="443.90" width="9.59" height="9.60" fill="#0061ff" />
<rect x="204.08" y="443.90" width="9.59" height="9.60" fill="#0000f0" />
<rect x="213.07" y="443.90" width="9.59" height="9.60" fill="#0000f0" />
<rect x="222.06" y="443.90" width="9.59" height="9.60" fill="#0061ff" />
<rect x="231.05" y="443.90" width="9.59" height="9.60" fill="#000094" />
<rect x="240.04" y="443.90" width="9.59" height="9.60" fill="#0000f0" />
<rect x="249.03" y="443.90" width="9.59" height="9.60" fill="#000094" />
<rect x="60.24" y="452.90" width="9.59" height="9.60" fill="#4dffb2" />
<rect x="69.23" y="452.90" width="9.59" height="9.60" fill="#4dffb2" />
<rect x="78.22" y="452.90" width="9.59" height="9.60" fill="#00b2ff" />
<rect x="87.21" y="452.90" width="9.59" height="9.60" fill="#4dffb2" />
<rect x="96.20" y="452.90" width="9.59" height="9.60" fill="#4dffb2" />
<rect x="105.19" y="452.90" width="9.59" height="9.60" fill="#00ffff" />
<rect x="114.18" y="452.90" width="9.59" height="9.60" fill="#9eff61" />
<rect x="123.17" y="452.90" width="9.59" height="9.60" fill="#00ffff" />
<rect x="132.16" y="452.90" width="9.59" height="9.60" fill="#00b2ff" />
<rect x="141.15" y="452.90" width="9.59" height="9.60" fill="#0061ff" />
<rect x="150.14" y="452.90" width="9.59" height="9.60" fill="#00b2ff" />
<rect x="159.13" y="452.90" width="9.59" height="9.60" fill="#0000f0" />
<rect x="168.12" y="452.90" width="9.59" height="9.60" fill="#0061ff" />
<rect x="177.11" y="452.90" width="9.59" height="9.60" fill="#0000f0" />
<rect x="186.10" y="452.90" width="9.59" height="9.60" fill="#0000f0" />
<rect x="195.09" y="452.90" width="9.59" height="9.60" fill="#0000f0" />
<rect x="204.08" y="452.90" width="9.59" height="9.60" fill="#0000f0" />
<rect x="213.07" y="452.90" width="9.59" height="9.60" fill="#0000f0" />
<rect x="222.06" y="452.90" width="9.59" height="9.60" fill="#0000f0" />
<rect x="231.05" y="452.90" width="9.59" height="9.60" fill="#0000f0" />
<rect x="240.04" y="452.90" width="9.59" height="9.60" fill="#0000f0" />
<rect x="60.24" y="461.90" width="9.59" height="9.60" fill="#4dffb2" />
<rect x="69.23" y="461.90" width="9.59" height="9.60" fill="#00b2ff" />
<rect x="78.22" y="461.90" width="9.59" height="9.60" fill="#4dffb2" />
<rect x="87.21" y="461.90" width="9.59" height="9.60" fill="#9eff61" />
<rect x="96.20" y="461.90" width="9.59" height="9.60" fill="#4dffb2" />
<rect x="105.19" y="461.90" width="9.59" height="9.60" fill="#4dffb2" />
<rect x="114.18" y="461.90" width="9.59" height="9.60" fill="#00ffff" />
<rect x="123.17" y="461.90" width="9.59" height="9.60" fill="#4dffb2" />
<rect x="132.16" y="461.90" width="9.59" height="9.60" fill="#00ffff" />
<rect x="141.15" y="461.90" width="9.59" height="9.60" fill="#00ffff" />
<rect x="150.14" y="461.90" width="9.59" height="9.60" fill="#0000f0" />
<rect x="159.13" y="461.90" width="9.59" height="9.60" fill="#0000f0" />
<rect x="168.12" y="461.90" width="9.59" height="9.60" fill="#0061ff" />
<rect x="177.11" y="461.90" width="9.59" height="9.60" fill="#0000f0" />
<rect x="186.10" y="461.90" width="9.59" height="9.60" fill="#0000f0" />
<rect x="195.09" y="461.90" width="9.59" height="9.60" fill="#0000f0" />
<rect x="204.08" y="461.90" width="9.59" height="9.60" fill="#0000f0" />
<rect x="213.07" y="461.90" width="9.59" height="9.60" fill="#0000f0" />
<rect x="222.06" y="461.90" width="9.59" height="9.60" fill="#0000f0" />
<rect x="231.05" y="461.90" width="9.59" height="9.60" fill="#0000f0" />
<rect x="51.25" y="470.90" width="9.59" height="9.60" fill="#4dffb2" />
<rect x="60.24" y="470.90" width="9.59" height="9.60" fill="#0061ff" />
<rect x="69.23" y="470.90" width="9.59" height="9.60" fill="#00ffff" />
<rect x="78.22" y="470.90" width="9.59" height="9.60" fill="#9eff61" />
<rect x="87.21" y="470.90" width="9.59" height="9.60" fill="#4dffb2" />
<rect x="96.20" y="470.90" width="9.59" height="9.60" fill="#4dffb2" />
<rect x="105.19" y="470.90" width="9.59" height="9.60" fill="#9eff61" />
<rect x="114.18" y="470.90" width="9.59" height="9.60" fill="#00ffff" />
<rect x="123.17" y="470.90" width="9.59" height="9.60" fill="#00b2ff" />
<rect x="132.16" y="470.90" width="9.59" height="9.60" fill="#00b2ff" />
<rect x="141.15" y="470.90" width="9.59" height="9.60" fill="#0061ff" />
<rect x="150.14" y="470.90" width="9.59" height="9.60" fill="#0000f0" />
<rect x="159.13" y="470.90" width="9.59" height="9.60" fill="#0000f0" />
<rect x="168.12" y="470.90" width="9.59" height="9.60" fill="#0000f0" />
<rect x="177.11" y="470.90" width="9.59" height="9.60" fill="#0000f0" />
<rect x="186.10" y="470.90" width="9.59" height="9.60" fill="#0061ff" />
<rect x="195.09" y="470.90" width="9.59" height="9.60" fill="#0061ff" />
<rect x="204.08" y="470.90" width="9.59" height="9.60" fill="#0000f0" />
<rect x="213.07" y="470.90" width="9.59" height="9.60" fill="#0000f0" />
<rect x="222.06" y="470.90" width="9.59" height="9.60" fill="#0000f0" />
<rect x="276.00" y="470.90" width="9.59" height="9.60" fill="#0000f0" />
<rect x="60.24" y="479.90" width="9.59" height="9.60" fill="#0061ff" />
<rect x="69.23" y="479.90" width="9.59" height="9.60" fill="#0061ff" />
<rect x="78.22" y="479.90" width="9.59" height="9.60" fill="#00ffff" />
<rect x="87.21" y="479.90" width="9.59" height="9.60" fill="#4dffb2" />
<rect x="96.20" y="479.90" width="9.59" height="9.60" fill="#4dffb2" />
<rect x="105.19" y="479.90" width="9.59" height="9.60" fill="#4dffb2" />
<rect x="114.18" y="479.90" width="9.59" height="9.60" fill="#00ffff" />
<rect x="123.17" y="479.90" width="9.59" height="9.60" fill="#00b2ff" />
<rect x="132.16" y="479.90" width="9.59" height="9.60" fill="#0061ff" />
<rect x="141.15" y="479.90" width="9.59" height="9.60" fill="#000094" />
<rect x="150.14" y="479.90" width="9.59" height="9.60" fill="#0000f0" />
<rect x="159.13" y="479.90" width="9.59" height="9.60" fill="#000094" />
<rect x="168.12" y="479.90" width="9.59" height="9.60" fill="#000094" />
<rect x="177.11" y="479.90" width="9.59" height="9.60" fill="#0000f0" />
<rect x="186.10" y="479.90" width="9.59" height="9.60" fill="#0000f0" />
<rect x="195.09" y="479.90" width="9.59" height="9.60" fill="#0000f0" />
<rect x="204.08" y="479.90" width="9.59" height="9.60" fill="#0000f0" />
<rect x="213.07" y="479.90" width="9.59" height="9.60" fill="#0000f0" />
<rect x="267.01" y="479.90" width="9.59" height="9.60" fill="#000094" />
<rect x="276.00" y="479.90" width="9.59" height="9.60" fill="#000094" />
<rect x="69.23" y="488.90" width="9.59" height="9.60" fill="#0061ff" />
<rect x="78.22" y="488.90" width="9.59" height="9.60" fill="#0061ff" />
<rect x="87.21" y="488.90" width="9.59" height="9.60" fill="#00ffff" />
<rect x="96.20" y="488.90" width="9.59" height="9.60" fill="#4dffb2" />
<rect x="105.19" y="488.90" width="9.59" height="9.60" fill="#9eff61" />
<rect x="114.18" y="488.90" width="9.59" height="9.60" fill="#00ffff" />
<rect x="123.17" y="488.90" width="9.59" height="9.60" fill="#0061ff" />
<rect x="132.16" y="488.90" width="9.59" height="9.60" fill="#00b2ff" />
<rect x="141.15" y="488.90" width="9.59" height="9.60" fill="#0000f0" />
<rect x="150.14" y="488.90" width="9.59" height="9.60" fill="#0000f0" />
<rect x="159.13" y="488.90" width="9.59" height="9.60" fill="#0000f0" />
<rect x="168.12" y="488.90" width="9.59" height="9.60" fill="#000094" />
<rect x="177.11" y="488.90" width="9.59" height="9.60" fill="#0000f0" />
<rect x="186.10" y="488.90" width="9.59" height="9.60" fill="#0061ff" />
<rect x="195.09" y="488.90" width="9.59" height="9.60" fill="#0000f0" />
<rect x="204.08" y="488.90" width="9.59" height="9.60" fill="#0000f0" />
<rect x="258.02" y="488.90" width="9.59" height="9.60" fill="#000094" />
<rect x="267.01" y="488.90" width="9.59" height="9.60" fill="#000094" />
<rect x="276.00" y="488.90" width="9.59" height="9.60" fill="#000094" />
<rect x="60.24" y="497.90" width="9.59" height="9.60" fill="#00ffff" />
<rect x="69.23" y="497.90" width="9.59" height="9.60" fill="#0061ff" />
<rect x="78.22" y="497.90" width="9.59" height="9.60" fill="#0061ff" />
<rect x="87.21" y="497.90" width="9.59" height="9.60" fill="#00ffff" />
<rect x="96.20" y="497.90" width="9.59" height="9.60" fill="#d1ff2e" />
<rect x="105.19" y="497.90" width="9.59" height="9.60" fill="#00ffff" />
<rect x="114.18" y="497.90" width="9.59" height="9.60" fill="#00b2ff" />
<rect x="123.17" y="497.90" width="9.59" height="9.60" fill="#0000f0" />
<rect x="132.16" y="497.90" width="9.59" height="9.60" fill="#0061ff" />
<rect x="141.15" y="497.90" width="9.59" height="9.60" fill="#0061ff" />
<rect x="150.14" y="497.90" width="9.59" height="9.60" fill="#000094" />
<rect x="159.13" y="497.90" width="9.59" height="9.60" fill="#0000f0" />
<rect x="168.12" y="497.90" width="9.59" height="9.60" fill="#0000f0" />
<rect x="177.11" y="497.90" width="9.59" height="9.60" fill="#0000f0" />
<rect x="186.10" y="497.90" width="9.59" height="9.60" fill="#0000f0" />
<rect x="195.09" y="497.90" width="9.59" height="9.60" fill="#000094" />
<rect x="249.03" y="497.90" width="9.59" height="9.60" fill="#0000f0" />
<rect x="258.02" y="497.90" width="9.59" height="9.60" fill="#000094" />
<rect x="267.01" y="497.90" width="9.59" height="9.60" fill="#000094" />
<rect x="69.23" y="506.90" width="9.59" height="9.60" fill="#00b2ff" />
<rect x="78.22" y="506.90" width="9.59" height="9.60" fill="#00ffff" />
<rect x="87.21" y="506.90" width="9.59" height="9.60" fill="#4dffb2" />
<rect x="96.20" y="506.90" width="9.59" height="9.60" fill="#00ffff" />
<rect x="105.19" y="506.90" width="9.59" height="9.60" fill="#00b2ff" />
<rect x="114.18" y="506.90" width="9.59" height="9.60" fill="#0061ff" />
<rect x="123.17" y="506.90" width="9.59" height="9.60" fill="#00b2ff" />
<rect x="132.16" y="506.90" width="9.59" height="9.60" fill="#0061ff" />
<rect x="141.15" y="506.90" width="9.59" height="9.60" fill="#0000f0" />
<rect x="150.14" y="506.90" width="9.59" height="9.60" fill="#0000f0" />
<rect x="159.13" y="506.90" width="9.59" height="9.60" fill="#0061ff" />
<rect x="168.12" y="506.90" width="9.59" height="9.60" fill="#0000f0" />
<rect x="177.11" y="506.90" width="9.59" height="9.60" fill="#0000f0" />
<rect x="186.10" y="506.90" width="9.59" height="9.60" fill="#000094" />
<rect x="240.04" y="506.90" width="9.59" height="9.60" fill="#000094" />
<rect x="249.03" y="506.90" width="9.59" height="9.60" fill="#0000f0" />
<rect x="258.02" y="506.90" width="9.59" height="9.60" fill="#0000f0" />
<rect x="267.01" y="506.90" width="9.59" height="9.60" fill="#00b2ff" />
<rect x="69.23" y="515.90" width="9.59" height="9.60" fill="#00b2ff" />
<rect x="78.22" y="515.90" width="9.59" height="9.60" fill="#4dffb2" />
<rect x="87.21" y="515.90" width="9.59" height="9.60" fill="#4dffb2" />
<rect x="96.20" y="515.90" width="9.59" height="9.60" fill="#0061ff" />
<rect x="105.19" y="515.90" width="9.59" height="9.60" fill="#0000f0" />
<rect x="114.18" y="515.90" width="9.59" height="9.60" fill="#00b2ff" />
<rect x="123.17" y="515.90" width="9.59" height="9.60" fill="#0061ff" />
<rect x="132.16" y="515.90" width="9.59" height="9.60" fill="#0061ff" />
<rect x="141.15" y="515.90" width="9.59" height="9.60" fill="#0061ff" />
<rect x="150.14" y="515.90" width="9.59" height="9.60" fill="#0061ff" />
<rect x="159.13" y="515.90" width="9.59" height="9.60" fill="#0061ff" />
<rect x="168.12" y="515.90" width="9.59" height="9.60" fill="#0000f0" />
<rect x="177.11" y="515.90" width="9.59" height="9.60" fill="#000094" />
<rect x="231.05" y="515.90" width="9.59" height="9.60" fill="#0061ff" />
<rect x="240.04" y="515.90" width="9.59" height="9.60" fill="#0061ff" />
<rect x="249.03" y="515.90" width="9.59" height="9.60" fill="#0061ff" />
<rect x="258.02" y="515.90" width="9.59" height="9.60" fill="#00ffff" />
<rect x="267.01" y="515.90" width="9.59" height="9.60" fill="#4dffb2" />
<rect x="69.23" y="524.90" width="9.59" height="9.60" fill="#4dffb2" />
<rect x="78.22" y="524.90" width="9.59" height="9.60" fill="#00b2ff" />
<rect x="87.21" y="524.90" width="9.59" height="9.60" fill="#0061ff" />
<rect x="96.20" y="524.90" width="9.59" height="9.60" fill="#0000f0" />
<rect x="105.19" y="524.90" width="9.59" height="9.60" fill="#0000f0" />
<rect x="114.18" y="524.90" width="9.59" height="9.60" fill="#0000f0" />
<rect x="123.17" y="524.90" width="9.59" height="9.60" fill="#0000f0" />
<rect x="132.16" y="524.90" width="9.59" height="9.60" fill="#0061ff" />
<rect x="141.15" y="524.90" width="9.59" height="9.60" fill="#00b2ff" />
<rect x="150.14" y="524.90" width="9.59" height="9.60" fill="#0061ff" />
<rect x="159.13" y="524.90" width="9.59" height="9.60" fill="#0061ff" />
<rect x="168.12" y="524.90" width="9.59" height="9.60" fill="#0061ff" />
<rect x="222.06" y="524.90" width="9.59" height="9.60" fill="#00ffff" />
<rect x="231.05" y="524.90" width="9.59" height="9.60" fill="#00ffff" />
<rect x="240.04" y="524.90" width="9.59" height="9.60" fill="#00b2ff" />
<rect x="249.03" y="524.90" width="9.59" height="9.60" fill="#00ffff" />
<rect x="258.02" y="524.90" width="9.59" height="9.60" fill="#4dffb2" />
<rect x="267.01" y="524.90" width="9.59" height="9.60" fill="#4dffb2" />
<rect x="276.00" y="524.90" width="9.59" height="9.60" fill="#4dffb2" />
<rect x="78.22" y="533.90" width="9.59" height="9.60" fill="#000094" />
<rect x="87.21" y="533.90" width="9.59" height="9.60" fill="#000094" />
<rect x="96.20" y="533.90" width="9.59" height="9.60" fill="#000094" />
<rect x="105.19" y="533.90" width="9.59" height="9.60" fill="#0000f0" />
<rect x="114.18" y="533.90" width="9.59" height="9.60" fill="#0061ff" />
<rect x="123.17" y="533.90" width="9.59" height="9.60" fill="#00b2ff" />
<rect x="132.16" y="533.90" width="9.59" height="9.60" fill="#00ffff" />
<rect x="141.15" y="533.90" width="9.59" height="9.60" fill="#00b2ff" />
<rect x="150.14" y="533.90" width="9.59" height="9.60" fill="#0061ff" />
<rect x="159.13" y="533.90" width="9.59" height="9.60" fill="#0061ff" />
<rect x="213.07" y="533.90" width="9.59" height="9.60" fill="#4dffb2" />
<rect x="222.06" y="533.90" width="9.59" height="9.60" fill="#4dffb2" />
<rect x="231.05" y="533.90" width="9.59" height="9.60" fill="#4dffb2" />
<rect x="240.04" y="533.90" width="9.59" height="9.60" fill="#00ffff" />
<rect x="249.03" y="533.90" width="9.59" height="9.60" fill="#00b2ff" />
<rect x="258.02" y="533.90" width="9.59" height="9.60" fill="#00b2ff" />
<rect x="267.01" y="533.90" width="9.59" height="9.60" fill="#00b2ff" />
<rect x="69.23" y="542.90" width="9.59" height="9.60" fill="#0000f0" />
<rect x="78.22" y="542.90" width="9.59" height="9.60" fill="#000094" />
<rect x="87.21" y="542.90" width="9.59" height="9.60" fill="#000094" />
<rect x="96.20" y="542.90" width="9.59" height="9.60" fill="#0000f0" />
<rect x="105.19" y="542.90" width="9.59" height="9.60" fill="#0061ff" />
<rect x="114.18" y="542.90" width="9.59" height="9.60" fill="#00b2ff" />
<rect x="123.17" y="542.90" width="9.59" height="9.60" fill="#00b2ff" />
<rect x="132.16" y="542.90" width="9.59" height="9.60" fill="#0061ff" />
<rect x="141.15" y="542.90" width="9.59" height="9.60" fill="#0061ff" />
<rect x="150.14" y="542.90" width="9.59" height="9.60" fill="#0000f0" />
<rect x="204.08" y="542.90" width="9.59" height="9.60" fill="#00ffff" />
<rect x="213.07" y="542.90" width="9.59" height="9.60" fill="#4dffb2" />
<rect x="222.06" y="542.90" width="9.59" height="9.60" fill="#4dffb2" />
<rect x="231.05" y="542.90" width="9.59" height="9.60" fill="#4dffb2" />
<rect x="240.04" y="542.90" width="9.59" height="9.60" fill="#4dffb2" />
<rect x="249.03" y="542.90" width="9.59" height="9.60" fill="#4dffb2" />
<rect x="258.02" y="542.90" width="9.59" height="9.60" fill="#00ffff" />
<rect x="267.01" y="542.90" width="9.59" height="9.60" fill="#00b2ff" />
<rect x="60.24" y="551.90" width="9.59" height="9.60" fill="#0061ff" />
<rect x="69.23" y="551.90" width="9.59" height="9.60" fill="#000094" />
<rect x="78.22" y="551.90" width="9.59" height="9.60" fill="#000094" />
<rect x="87.21" y="551.90" width="9.59" height="9.60" fill="#0000f0" />
<rect x="96.20" y="551.90" width="9.59" height="9.60" fill="#000094" />
<rect x="105.19" y="551.90" width="9.59" height="9.60" fill="#00b2ff" />
<rect x="114.18" y="551.90" width="9.59" height="9.60" fill="#00b2ff" />
<rect x="123.17" y="551.90" width="9.59" height="9.60" fill="#00b2ff" />
<rect x="132.16" y="551.90" width="9.59" height="9.60" fill="#0000f0" />
<rect x="141.15" y="551.90" width="9.59" height="9.60" fill="#0061ff" />
<rect x="195.09" y="551.90" width="9.59" height="9.60" fill="#00b2ff" />
<rect x="204.08" y="551.90" width="9.59" height="9.60" fill="#00ffff" />
<rect x="213.07" y="551.90" width="9.59" height="9.60" fill="#00ffff" />
<rect x="222.06" y="551.90" width="9.59" height="9.60" fill="#4dffb2" />
<rect x="231.05" y="551.90" width="9.59" height="9.60" fill="#4dffb2" />
<rect x="240.04" y="551.90" width="9.59" height="9.60" fill="#9eff61" />
<rect x="249.03" y="551.90" width="9.59" height="9.60" fill="#9eff61" />
<rect x="258.02" y="551.90" width="9.59" height="9.60" fill="#0061ff" />
<rect x="60.24" y="560.90" width="9.59" height="9.60" fill="#000094" />
<rect x="69.23" y="560.90" width="9.59" height="9.60" fill="#000094" />
<rect x="78.22" y="560.90" width="9.59" height="9.60" fill="#000094" />
<rect x="87.21" y="560.90" width="9.59" height="9.60" fill="#0061ff" />
<rect x="96.20" y="560.90" width="9.59" height="9.60" fill="#00b2ff" />
<rect x="105.19" y="560.90" width="9.59" height="9.60" fill="#00ffff" />
<rect x="114.18" y="560.90" width="9.59" height="9.60" fill="#00b2ff" />
<rect x="123.17" y="560.90" width="9.59" height="9.60" fill="#00b2ff" />
<rect x="132.16" y="560.90" width="9.59" height="9.60" fill="#0061ff" />
<rect x="186.10" y="560.90" width="9.59" height="9.60" fill="#00b2ff" />
<rect x="195.09" y="560.90" width="9.59" height="9.60" fill="#00b2ff" />
<rect x="204.08" y="560.90" width="9.59" height="9.60" fill="#00ffff" />
<rect x="213.07" y="560.90" width="9.59" height="9.60" fill="#00b2ff" />
<rect x="222.06" y="560.90" width="9.59" height="9.60" fill="#00ffff" />
<rect x="231.05" y="560.90" width="9.59" height="9.60" fill="#00ffff" />
<rect x="240.04" y="560.90" width="9.59" height="9.60" fill="#00ffff" />
<rect x="249.03" y="560.90" width="9.59" height="9.60" fill="#00ffff" />
<rect x="258.02" y="560.90" width="9.59" height="9.60" fill="#0061ff" />
<rect x="267.01" y="560.90" width="9.59" height="9.60" fill="#00ffff" />
<rect x="51.25" y="569.90" width="9.59" height="9.60" fill="#000094" />
<rect x="60.24" y="569.90" width="9.59" height="9.60" fill="#000094" />
<rect x="69.23" y="569.90" width="9.59" height="9.60" fill="#0000f0" />
<rect x="78.22" y="569.90" width="9.59" height="9.60" fill="#0061ff" />
<rect x="87.21" y="569.90" width="9.59" height="9.60" fill="#4dffb2" />
<rect x="96.20" y="569.90" width="9.59" height="9.60" fill="#00ffff" />
<rect x="105.19" y="569.90" width="9.59" height="9.60" fill="#00ffff" />
<rect x="114.18" y="569.90" width="9.59" height="9.60" fill="#0061ff" />
<rect x="123.17" y="569.90" width="9.59" height="9.60" fill="#0061ff" />
<rect x="177.11" y="569.90" width="9.59" height="9.60" fill="#0061ff" />
<rect x="186.10" y="569.90" width="9.59" height="9.60" fill="#00b2ff" />
<rect x="195.09" y="569.90" width="9.59" height="9.60" fill="#00b2ff" />
<rect x="204.08" y="569.90" width="9.59" height="9.60" fill="#4dffb2" />
<rect x="213.07" y="569.90" width="9.59" height="9.60" fill="#9eff61" />
<rect x="222.06" y="569.90" width="9.59" height="9.60" fill="#4dffb2" />
<rect x="231.05" y="569.90" width="9.59" height="9.60" fill="#4dffb2" />
<rect x="240.04" y="569.90" width="9.59" height="9.60" fill="#4dffb2" />
<rect x="249.03" y="569.90" width="9.59" height="9.60" fill="#0061ff" />
<rect x="258.02" y="569.90" width="9.59" height="9.60" fill="#0061ff" />
<rect x="51.25" y="578.90" width="9.59" height="9.60" fill="#000094" />
<rect x="60.24" y="578.90" width="9.59" height="9.60" fill="#000094" />
<rect x="69.23" y="578.90" width="9.59" height="9.60" fill="#0061ff" />
<rect x="78.22" y="578.90" width="9.59" height="9.60" fill="#00ffff" />
<rect x="87.21" y="578.90" width="9.59" height="9.60" fill="#4dffb2" />
<rect x="96.20" y="578.90" width="9.59" height="9.60" fill="#00ffff" />
<rect x="105.19" y="578.90" width="9.59" height="9.60" fill="#0061ff" />
<rect x="114.18" y="578.90" width="9.59" height="9.60" fill="#00b2ff" />
<rect x="168.12" y="578.90" width="9.59" height="9.60" fill="#00b2ff" />
<rect x="177.11" y="578.90" width="9.59" height="9.60" fill="#00ffff" />
<rect x="186.10" y="578.90" width="9.59" height="9.60" fill="#00b2ff" />
<rect x="195.09" y="578.90" width="9.59" height="9.60" fill="#00b2ff" />
<rect x="204.08" y="578.90" width="9.59" height="9.60" fill="#00ffff" />
<rect x="213.07" y="578.90" width="9.59" height="9.60" fill="#00ffff" />
<rect x="222.06" y="578.90" width="9.59" height="9.60" fill="#9eff61" />
<rect x="231.05" y="578.90" width="9.59" height="9.60" fill="#4dffb2" />
<rect x="240.04" y="578.90" width="9.59" height="9.60" fill="#00ffff" />
<rect x="249.03" y="578.90" width="9.59" height="9.60" fill="#0061ff" />
<rect x="258.02" y="578.90" width="9.59" height="9.60" fill="#00b2ff" />
<rect x="51.25" y="587.90" width="9.59" height="9.60" fill="#000094" />
<rect x="60.24" y="587.90" width="9.59" height="9.60" fill="#000094" />
<rect x="69.23" y="587.90" width="9.59" height="9.60" fill="#0061ff" />
<rect x="78.22" y="587.90" width="9.59" height="9.60" fill="#00b2ff" />
<rect x="87.21" y="587.90" width="9.59" height="9.60" fill="#00b2ff" />
<rect x="96.20" y="587.90" width="9.59" height="9.60" fill="#00b2ff" />
<rect x="105.19" y="587.90" width="9.59" height="9.60" fill="#00b2ff" />
<rect x="159.13" y="587.90" width="9.59" height="9.60" fill="#0061ff" />
<rect x="168.12" y="587.90" width="9.59" height="9.60" fill="#0000f0" />
<rect x="177.11" y="587.90" width="9.59" height="9.60" fill="#0000f0" />
<rect x="186.10" y="587.90" width="9.59" height="9.60" fill="#00b2ff" />
<rect x="195.09" y="587.90" width="9.59" height="9.60" fill="#00b2ff" />
<rect x="204.08" y="587.90" width="9.59" height="9.60" fill="#4dffb2" />
<rect x="213.07" y="587.90" width="9.59" height="9.60" fill="#00ffff" />
<rect x="222.06" y="587.90" width="9.59" height="9.60" fill="#4dffb2" />
<rect x="231.05" y="587.90" width="9.59" height="9.60" fill="#4dffb2" />
<rect x="240.04" y="587.90" width="9.59" height="9.60" fill="#00ffff" />
<rect x="249.03" y="587.90" width="9.59" height="9.60" fill="#00ffff" />
<rect x="258.02" y="587.90" width="9.59" height="9.60" fill="#00b2ff" />
<rect x="51.25" y="596.90" width="9.59" height="9.60" fill="#000094" />
<rect x="60.24" y="596.90" width="9.59" height="9.60" fill="#000094" />
<rect x="69.23" y="596.90" width="9.59" height="9.60" fill="#0000f0" />
<rect x="78.22" y="596.90" width="9.59" height="9.60" fill="#0061ff" />
<rect x="87.21" y="596.90" width="9.59" height="9.60" fill="#00b2ff" />
<rect x="96.20" y="596.90" width="9.59" height="9.60" fill="#0061ff" />
<rect x="150.14" y="596.90" width="9.59" height="9.60" fill="#0000f0" />
<rect x="159.13" y="596.90" width="9.59" height="9.60" fill="#0061ff" />
<rect x="168.12" y="596.90" width="9.59" height="9.60" fill="#000094" />
<rect x="177.11" y="596.90" width="9.59" height="9.60" fill="#00b2ff" />
<rect x="186.10" y="596.90" width="9.59" height="9.60" fill="#0061ff" />
<rect x="195.09" y="596.90" width="9.59" height="9.60" fill="#00ffff" />
<rect x="204.08" y="596.90" width="9.59" height="9.60" fill="#00b2ff" />
<rect x="213.07" y="596.90" width="9.59" height="9.60" fill="#00ffff" />
<rect x="222.06" y="596.90" width="9.59" height="9.60" fill="#fff500" />
<rect x="231.05" y="596.90" width="9.59" height="9.60" fill="#fff500" />
<rect x="240.04" y="596.90" width="9.59" height="9.60" fill="#4dffb2" />
<rect x="249.03" y="596.90" width="9.59" height="9.60" fill="#4dffb2" />
<rect x="258.02" y="596.90" width="9.59" height="9.60" fill="#4dffb2" />
<rect x="51.25" y="605.90" width="9.59" height="9.60" fill="#000094" />
<rect x="60.24" y="605.90" width="9.59" height="9.60" fill="#000094" />
<rect x="69.23" y="605.90" width="9.59" height="9.60" fill="#0061ff" />
<rect x="78.22" y="605.90" width="9.59" height="9.60" fill="#0000f0" />
<rect x="87.21" y="605.90" width="9.59" height="9.60" fill="#0061ff" />
<rect x="141.15" y="605.90" width="9.59" height="9.60" fill="#0000f0" />
<rect x="150.14" y="605.90" width="9.59" height="9.60" fill="#0061ff" />
<rect x="159.13" y="605.90" width="9.59" height="9.60" fill="#00b2ff" />
<rect x="168.12" y="605.90" width="9.59" height="9.60" fill="#0061ff" />
<rect x="177.11" y="605.90" width="9.59" height="9.60" fill="#00b2ff" />
<rect x="186.10" y="605.90" width="9.59" height="9.60" fill="#00ffff" />
<rect x="195.09" y="605.90" width="9.59" height="9.60" fill="#00b2ff" />
<rect x="204.08" y="605.90" width="9.59" height="9.60" fill="#00b2ff" />
<rect x="213.07" y="605.90" width="9.59" height="9.60" fill="#00ffff" />
<rect x="222.06" y="605.90" width="9.59" height="9.60" fill="#00ffff" />
<rect x="231.05" y="605.90" width="9.59" height="9.60" fill="#00ffff" />
<rect x="240.04" y="605.90" width="9.59" height="9.60" fill="#00ffff" />
<rect x="249.03" y="605.90" width="9.59" height="9.60" fill="#00b2ff" />
<rect x="60.24" y="614.90" width="9.59" height="9.60" fill="#000094" />
<rect x="69.23" y="614.90" width="9.59" height="9.60" fill="#0000f0" />
<rect x="78.22" y="614.90" width="9.59" height="9.60" fill="#0000f0" />
<rect x="132.16" y="614.90" width="9.59" height="9.60" fill="#0000f0" />
<rect x="141.15" y="614.90" width="9.59" height="9.60" fill="#0000f0" />
<rect x="150.14" y="614.90" width="9.59" height="9.60" fill="#0061ff" />
<rect x="159.13" y="614.90" width="9.59" height="9.60" fill="#0000f0" />
<rect x="168.12" y="614.90" width="9.59" height="9.60" fill="#0000f0" />
<rect x="177.11" y="614.90" width="9.59" height="9.60" fill="#0000f0" />
<rect x="186.10" y="614.90" width="9.59" height="9.60" fill="#0061ff" />
<rect x="195.09" y="614.90" width="9.59" height="9.60" fill="#0061ff" />
<rect x="204.08" y="614.90" width="9.59" height="9.60" fill="#0061ff" />
<rect x="213.07" y="614.90" width="9.59" height="9.60" fill="#00b2ff" />
<rect x="222.06" y="614.90" width="9.59" height="9.60" fill="#00b2ff" />
<rect x="231.05" y="614.90" width="9.59" height="9.60" fill="#0061ff" />
<rect x="240.04" y="614.90" width="9.59" height="9.60" fill="#0061ff" />
<rect x="249.03" y="614.90" width="9.59" height="9.60" fill="#000094" />
<rect x="258.02" y="614.90" width="9.59" height="9.60" fill="#0000f0" />
<rect x="267.01" y="614.90" width="9.59" height="9.60" fill="#0061ff" />
<rect x="60.24" y="623.90" width="9.59" height="9.60" fill="#000094" />
<rect x="69.23" y="623.90" width="9.59" height="9.60" fill="#000094" />
<rect x="123.17" y="623.90" width="9.59" height="9.60" fill="#0000f0" />
<rect x="132.16" y="623.90" width="9.59" height="9.60" fill="#0000f0" />
<rect x="141.15" y="623.90" width="9.59" height="9.60" fill="#0000f0" />
<rect x="150.14" y="623.90" width="9.59" height="9.60" fill="#0000f0" />
<rect x="159.13" y="623.90" width="9.59" height="9.60" fill="#0061ff" />
<rect x="168.12" y="623.90" width="9.59" height="9.60" fill="#000094" />
<rect x="177.11" y="623.90" width="9.59" height="9.60" fill="#000094" />
<rect x="186.10" y="623.90" width="9.59" height="9.60" fill="#000094" />
<rect x="195.09" y="623.90" width="9.59" height="9.60" fill="#00b2ff" />
<rect x="204.08" y="623.90" width="9.59" height="9.60" fill="#0000f0" />
<rect x="213.07" y="623.90" width="9.59" height="9.60" fill="#0061ff" />
<rect x="222.06" y="623.90" width="9.59" height="9.60" fill="#0000f0" />
<rect x="231.05" y="623.90" width="9.59" height="9.60" fill="#0000f0" />
<rect x="240.04" y="623.90" width="9.59" height="9.60" fill="#000094" />
<rect x="249.03" y="623.90" width="9.59" height="9.60" fill="#000094" />
<rect x="258.02" y="623.90" width="9.59" height="9.60" fill="#000094" />
<rect x="267.01" y="623.90" width="9.59" height="9.60" fill="#000094" />
<rect x="276.00" y="623.90" width="9.59" height="9.60" fill="#000094" />
<rect x="60.24" y="632.90" width="9.59" height="9.60" fill="#000094" />
<rect x="114.18" y="632.90" width="9.59" height="9.60" fill="#0000f0" />
<rect x="123.17" y="632.90" width="9.59" height="9.60" fill="#0000f0" />
<rect x="132.16" y="632.90" width="9.59" height="9.60" fill="#0000f0" />
<rect x="141.15" y="632.90" width="9.59" height="9.60" fill="#000094" />
<rect x="150.14" y="632.90" width="9.59" height="9.60" fill="#0000f0" />
<rect x="159.13" y="632.90" width="9.59" height="9.60" fill="#0061ff" />
<rect x="168.12" y="632.90" width="9.59" height="9.60" fill="#0000f0" />
<rect x="177.11" y="632.90" width="9.59" height="9.60" fill="#0061ff" />
<rect x="186.10" y="632.90" width="9.59" height="9.60" fill="#0061ff" />
<rect x="195.09" y="632.90" width="9.59" height="9.60" fill="#00b2ff" />
<rect x="204.08" y="632.90" width="9.59" height="9.60" fill="#00b2ff" />
<rect x="213.07" y="632.90" width="9.59" height="9.60" fill="#00b2ff" />
<rect x="222.06" y="632.90" width="9.59" height="9.60" fill="#0061ff" />
<rect x="231.05" y="632.90" width="9.59" height="9.60" fill="#000094" />
<rect x="240.04" y="632.90" width="9.59" height="9.60" fill="#000094" />
<rect x="249.03" y="632.90" width="9.59" height="9.60" fill="#000094" />
<rect x="258.02" y="632.90" width="9.59" height="9.60" fill="#000094" />
<rect x="267.01" y="632.90" width="9.59" height="9.60" fill="#000094" />
<rect x="276.00" y="632.90" width="9.59" height="9.60" fill="#000094" />
<rect x="51.25" y="641.90" width="9.59" height="9.60" fill="#000094" />
<rect x="105.19" y="641.90" width="9.59" height="9.60" fill="#0000f0" />
<rect x="114.18" y="641.90" width="9.59" height="9.60" fill="#0000f0" />
<rect x="123.17" y="641.90" width="9.59" height="9.60" fill="#0000f0" />
<rect x="132.16" y="641.90" width="9.59" height="9.60" fill="#0061ff" />
<rect x="141.15" y="641.90" width="9.59" height="9.60" fill="#0000f0" />
<rect x="150.14" y="641.90" width="9.59" height="9.60" fill="#0000f0" />
<rect x="159.13" y="641.90" width="9.59" height="9.60" fill="#0000f0" />
<rect x="168.12" y="641.90" width="9.59" height="9.60" fill="#000094" />
<rect x="177.11" y="641.90" width="9.59" height="9.60" fill="#0061ff" />
<rect x="186.10" y="641.90" width="9.59" height="9.60" fill="#00b2ff" />
<rect x="195.09" y="641.90" width="9.59" height="9.60" fill="#0061ff" />
<rect x="204.08" y="641.90" width="9.59" height="9.60" fill="#0061ff" />
<rect x="213.07" y="641.90" width="9.59" height="9.60" fill="#0000f0" />
<rect x="222.06" y="641.90" width="9.59" height="9.60" fill="#0000f0" />
<rect x="231.05" y="641.90" width="9.59" height="9.60" fill="#0000f0" />
<rect x="240.04" y="641.90" width="9.59" height="9.60" fill="#000094" />
<rect x="249.03" y="641.90" width="9.59" height="9.60" fill="#000094" />
<rect x="258.02" y="641.90" width="9.59" height="9.60" fill="#0000f0" />
<rect x="267.01" y="641.90" width="9.59" height="9.60" fill="#000094" />
<rect x="276.00" y="641.90" width="9.59" height="9.60" fill="#000094" />
<rect x="96.20" y="650.90" width="9.59" height="9.60" fill="#0000f0" />
<rect x="105.19" y="650.90" width="9.59" height="9.60" fill="#000094" />
<rect x="114.18" y="650.90" width="9.59" height="9.60" fill="#0000f0" />
<rect x="123.17" y="650.90" width="9.59" height="9.60" fill="#0000f0" />
<rect x="132.16" y="650.90" width="9.59" height="9.60" fill="#0000f0" />
<rect x="141.15" y="650.90" width="9.59" height="9.60" fill="#0000f0" />
<rect x="150.14" y="650.90" width="9.59" height="9.60" fill="#0000f0" />
<rect x="159.13" y="650.90" width="9.59" height="9.60" fill="#000094" />
<rect x="168.12" y="650.90" width="9.59" height="9.60" fill="#000094" />
<rect x="177.11" y="650.90" width="9.59" height="9.60" fill="#000094" />
<rect x="186.10" y="650.90" width="9.59" height="9.60" fill="#0061ff" />
<rect x="195.09" y="650.90" width="9.59" height="9.60" fill="#00b2ff" />
<rect x="204.08" y="650.90" width="9.59" height="9.60" fill="#0061ff" />
<rect x="213.07" y="650.90" width="9.59" height="9.60" fill="#0061ff" />
<rect x="222.06" y="650.90" width="9.59" height="9.60" fill="#0061ff" />
<rect x="231.05" y="650.90" width="9.59" height="9.60" fill="#0000f0" />
<rect x="240.04" y="650.90" width="9.59" height="9.60" fill="#0061ff" />
<rect x="249.03" y="650.90" width="9.59" height="9.60" fill="#0061ff" />
<rect x="258.02" y="650.90" width="9.59" height="9.60" fill="#0061ff" />
<rect x="267.01" y="650.90" width="9.59" height="9.60" fill="#000094" />
<rect x="276.00" y="650.90" width="9.59" height="9.60" fill="#000094" />
<rect x="87.21" y="659.90" width="9.59" height="9.60" fill="#0000f0" />
<rect x="96.20" y="659.90" width="9.59" height="9.60" fill="#0000f0" />
<rect x="105.19" y="659.90" width="9.59" height="9.60" fill="#0000f0" />
<rect x="114.18" y="659.90" width="9.59" height="9.60" fill="#0000f0" />
<rect x="123.17" y="659.90" width="9.59" height="9.60" fill="#0000f0" />
<rect x="132.16" y="659.90" width="9.59" height="9.60" fill="#0000f0" />
<rect x="141.15" y="659.90" width="9.59" height="9.60" fill="#0061ff" />
<rect x="150.14" y="659.90" width="9.59" height="9.60" fill="#0000f0" />
<rect x="159.13" y="659.90" width="9.59" height="9.60" fill="#000094" />
<rect x="168.12" y="659.90" width="9.59" height="9.60" fill="#0000f0" />
<rect x="177.11" y="659.90" width="9.59" height="9.60" fill="#0061ff" />
<rect x="186.10" y="659.90" width="9.59" height="9.60" fill="#00b2ff" />
<rect x="195.09" y="659.90" width="9.59" height="9.60" fill="#00b2ff" />
<rect x="204.08" y="659.90" width="9.59" height="9.60" fill="#00b2ff" />
<rect x="213.07" y="659.90" width="9.59" height="9.60" fill="#00b2ff" />
<rect x="222.06" y="659.90" width="9.59" height="9.60" fill="#000094" />
<rect x="231.05" y="659.90" width="9.59" height="9.60" fill="#00b2ff" />
<rect x="240.04" y="659.90" width="9.59" height="9.60" fill="#4dffb2" />
<rect x="249.03" y="659.90" width="9.59" height="9.60" fill="#00ffff" />
<rect x="258.02" y="659.90" width="9.59" height="9.60" fill="#0061ff" />
<rect x="267.01" y="659.90" width="9.59" height="9.60" fill="#000094" />
<rect x="276.00" y="659.90" width="9.59" height="9.60" fill="#000094" />
<rect x="78.22" y="668.90" width="9.59" height="9.60" fill="#0000f0" />
<rect x="87.21" y="668.90" width="9.59" height="9.60" fill="#0000f0" />
<rect x="96.20" y="668.90" width="9.59" height="9.60" fill="#0000f0" />
<rect x="105.19" y="668.90" width="9.59" height="9.60" fill="#0061ff" />
<rect x="114.18" y="668.90" width="9.59" height="9.60" fill="#0061ff" />
<rect x="123.17" y="668.90" width="9.59" height="9.60" fill="#0000f0" />
<rect x="132.16" y="668.90" width="9.59" height="9.60" fill="#0000f0" />
<rect x="141.15" y="668.90" width="9.59" height="9.60" fill="#0000f0" />
<rect x="150.14" y="668.90" width="9.59" height="9.60" fill="#0000f0" />
<rect x="159.13" y="668.90" width="9.59" height="9.60" fill="#0000f0" />
<rect x="168.12" y="668.90" width="9.59" height="9.60" fill="#0061ff" />
<rect x="177.11" y="668.90" width="9.59" height="9.60" fill="#00b2ff" />
<rect x="186.10" y="668.90" width="9.59" height="9.60" fill="#00b2ff" />
<rect x="195.09" y="668.90" width="9.59" height="9.60" fill="#00ffff" />
<rect x="204.08" y="668.90" width="9.59" height="9.60" fill="#00b2ff" />
<rect x="213.07" y="668.90" width="9.59" height="9.60" fill="#00b2ff" />
<rect x="222.06" y="668.90" width="9.59" height="9.60" fill="#00ffff" />
<rect x="231.05" y="668.90" width="9.59" height="9.60" fill="#00ffff" />
<rect x="240.04" y="668.90" width="9.59" height="9.60" fill="#4dffb2" />
<rect x="249.03" y="668.90" width="9.59" height="9.60" fill="#00ffff" />
<rect x="258.02" y="668.90" width="9.59" height="9.60" fill="#0000f0" />
<rect x="267.01" y="668.90" width="9.59" height="9.60" fill="#000094" />
<rect x="69.23" y="677.90" width="9.59" height="9.60" fill="#0000f0" />
<rect x="78.22" y="677.90" width="9.59" height="9.60" fill="#0000f0" />
<rect x="87.21" y="677.90" width="9.59" height="9.60" fill="#0000f0" />
<rect x="96.20" y="677.90" width="9.59" height="9.60" fill="#0000f0" />
<rect x="105.19" y="677.90" width="9.59" height="9.60" fill="#0000f0" />
<rect x="114.18" y="677.90" width="9.59" height="9.60" fill="#0000f0" />
<rect x="123.17" y="677.90" width="9.59" height="9.60" fill="#0000f0" />
<rect x="132.16" y="677.90" width="9.59" height="9.60" fill="#000094" />
<rect x="141.15" y="677.90" width="9.59" height="9.60" fill="#0061ff" />
<rect x="150.14" y="677.90" width="9.59" height="9.60" fill="#0000f0" />
<rect x="159.13" y="677.90" width="9.59" height="9.60" fill="#0000f0" />
<rect x="168.12" y="677.90" width="9.59" height="9.60" fill="#0061ff" />
<rect x="177.11" y="677.90" width="9.59" height="9.60" fill="#0061ff" />
<rect x="186.10" y="677.90" width="9.59" height="9.60" fill="#00b2ff" />
<rect x="195.09" y="677.90" width="9.59" height="9.60" fill="#00b2ff" />
<rect x="204.08" y="677.90" width="9.59" height="9.60" fill="#00ffff" />
<rect x="213.07" y="677.90" width="9.59" height="9.60" fill="#00b2ff" />
<rect x="222.06" y="677.90" width="9.59" height="9.60" fill="#00ffff" />
<rect x="231.05" y="677.90" width="9.59" height="9.60" fill="#00ffff" />
<rect x="240.04" y="677.90" width="9.59" height="9.60" fill="#00b2ff" />
<rect x="249.03" y="677.90" width="9.59" height="9.60" fill="#0061ff" />
<rect x="258.02" y="677.90" width="9.59" height="9.60" fill="#0000f0" />
<rect x="267.01" y="677.90" width="9.59" height="9.60" fill="#000094" />
<rect x="60.24" y="686.90" width="9.59" height="9.60" fill="#0000f0" />
<rect x="69.23" y="686.90" width="9.59" height="9.60" fill="#0000f0" />
<rect x="78.22" y="686.90" width="9.59" height="9.60" fill="#0000f0" />
<rect x="87.21" y="686.90" width="9.59" height="9.60" fill="#0000f0" />
<rect x="96.20" y="686.90" width="9.59" height="9.60" fill="#0000f0" />
<rect x="105.19" y="686.90" width="9.59" height="9.60" fill="#0000f0" />
<rect x="114.18" y="686.90" width="9.59" height="9.60" fill="#0000f0" />
<rect x="123.17" y="686.90" width="9.59" height="9.60" fill="#0000f0" />
<rect x="132.16" y="686.90" width="9.59" height="9.60" fill="#000094" />
<rect x="141.15" y="686.90" width="9.59" height="9.60" fill="#0000f0" />
<rect x="150.14" y="686.90" width="9.59" height="9.60" fill="#0000f0" />
<rect x="159.13" y="686.90" width="9.59" height="9.60" fill="#0000f0" />
<rect x="168.12" y="686.90" width="9.59" height="9.60" fill="#0061ff" />
<rect x="177.11" y="686.90" width="9.59" height="9.60" fill="#0061ff" />
<rect x="186.10" y="686.90" width="9.59" height="9.60" fill="#00b2ff" />
<rect x="195.09" y="686.90" width="9.59" height="9.60" fill="#0000f0" />
<rect x="204.08" y="686.90" width="9.59" height="9.60" fill="#00b2ff" />
<rect x="213.07" y="686.90" width="9.59" height="9.60" fill="#0061ff" />
<rect x="222.06" y="686.90" width="9.59" height="9.60" fill="#0061ff" />
<rect x="231.05" y="686.90" width="9.59" height="9.60" fill="#00b2ff" />
<rect x="240.04" y="686.90" width="9.59" height="9.60" fill="#00b2ff" />
<rect x="249.03" y="686.90" width="9.59" height="9.60" fill="#0000f0" />
<rect x="258.02" y="686.90" width="9.59" height="9.60" fill="#000094" />
<rect x="267.01" y="686.90" width="9.59" height="9.60" fill="#000094" />
<rect x="51.25" y="695.90" width="9.59" height="9.60" fill="#0000f0" />
<rect x="60.24" y="695.90" width="9.59" height="9.60" fill="#0000f0" />
<rect x="69.23" y="695.90" width="9.59" height="9.60" fill="#0000f0" />
<rect x="78.22" y="695.90" width="9.59" height="9.60" fill="#0000f0" />
<rect x="87.21" y="695.90" width="9.59" height="9.60" fill="#0000f0" />
<rect x="96.20" y="695.90" width="9.59" height="9.60" fill="#0000f0" />
<rect x="105.19" y="695.90" width="9.59" height="9.60" fill="#0000f0" />
<rect x="114.18" y="695.90" width="9.59" height="9.60" fill="#0000f0" />
<rect x="123.17" y="695.90" width="9.59" height="9.60" fill="#0000f0" />
<rect x="132.16" y="695.90" width="9.59" height="9.60" fill="#000094" />
<rect x="141.15" y="695.90" width="9.59" height="9.60" fill="#000094" />
<rect x="150.14" y="695.90" width="9.59" height="9.60" fill="#000094" />
<rect x="159.13" y="695.90" width="9.59" height="9.60" fill="#0061ff" />
<rect x="168.12" y="695.90" width="9.59" height="9.60" fill="#0061ff" />
<rect x="177.11" y="695.90" width="9.59" height="9.60" fill="#0061ff" />
<rect x="186.10" y="695.90" width="9.59" height="9.60" fill="#00b2ff" />
<rect x="195.09" y="695.90" width="9.59" height="9.60" fill="#00b2ff" />
<rect x="204.08" y="695.90" width="9.59" height="9.60" fill="#00b2ff" />
<rect x="213.07" y="695.90" width="9.59" height="9.60" fill="#00b2ff" />
<rect x="222.06" y="695.90" width="9.59" height="9.60" fill="#00b2ff" />
<rect x="231.05" y="695.90" width="9.59" height="9.60" fill="#0061ff" />
<rect x="240.04" y="695.90" width="9.59" height="9.60" fill="#0061ff" />
<rect x="249.03" y="695.90" width="9.59" height="9.60" fill="#0000f0" />
<rect x="258.02" y="695.90" width="9.59" height="9.60" fill="#000094" />
<rect x="267.01" y="695.90" width="9.59" height="9.60" fill="#000094" />
<rect x="276.00" y="695.90" width="9.59" height="9.60" fill="#000094" />
<line x1="284.95" y1="444.20" x2="52.15" y2="677.20" stroke="#000" stroke-width="1.6" stroke-dasharray="4.2,2.6"/>
<text x="55.14" y="413.70" font-size="9.0" fill="#1a1a1a" text-anchor="middle" font-weight="normal" font-style="normal" >7</text>
<text x="82.12" y="413.70" font-size="9.0" fill="#1a1a1a" text-anchor="middle" font-weight="normal" font-style="normal" >10</text>
<text x="127.07" y="413.70" font-size="9.0" fill="#1a1a1a" text-anchor="middle" font-weight="normal" font-style="normal" >15</text>
<text x="172.02" y="413.70" font-size="9.0" fill="#1a1a1a" text-anchor="middle" font-weight="normal" font-style="normal" >20</text>
<text x="216.97" y="413.70" font-size="9.0" fill="#1a1a1a" text-anchor="middle" font-weight="normal" font-style="normal" >25</text>
<text x="261.91" y="413.70" font-size="9.0" fill="#1a1a1a" text-anchor="middle" font-weight="normal" font-style="normal" >30</text>
<text x="279.89" y="413.70" font-size="9.0" fill="#1a1a1a" text-anchor="middle" font-weight="normal" font-style="normal" >32</text>
<text x="55.74" y="715.20" font-size="9.0" fill="#1a1a1a" text-anchor="middle" font-weight="normal" font-style="normal" >32</text>
<text x="73.72" y="715.20" font-size="9.0" fill="#1a1a1a" text-anchor="middle" font-weight="normal" font-style="normal" >30</text>
<text x="118.67" y="715.20" font-size="9.0" fill="#1a1a1a" text-anchor="middle" font-weight="normal" font-style="normal" >25</text>
<text x="163.62" y="715.20" font-size="9.0" fill="#1a1a1a" text-anchor="middle" font-weight="normal" font-style="normal" >20</text>
<text x="208.58" y="715.20" font-size="9.0" fill="#1a1a1a" text-anchor="middle" font-weight="normal" font-style="normal" >15</text>
<text x="253.53" y="715.20" font-size="9.0" fill="#1a1a1a" text-anchor="middle" font-weight="normal" font-style="normal" >10</text>
<text x="280.50" y="715.20" font-size="9.0" fill="#1a1a1a" text-anchor="middle" font-weight="normal" font-style="normal" >7</text>
<text x="50.60" y="400.00" font-size="11.25" fill="#1a1a1a" text-anchor="start" font-weight="normal" font-style="normal" >Duplex length [bp]</text>
<text x="188.90" y="728.90" font-size="11.25" fill="#1a1a1a" text-anchor="start" font-weight="normal" font-style="normal" >Duplex length [bp]</text>
<text x="44.40" y="424.70" font-size="9.3" fill="#8a8a8a" text-anchor="middle" font-weight="normal" font-style="normal" >C</text>
<text x="38.00" y="424.70" font-size="9.4" fill="#1a1a1a" text-anchor="end" font-weight="normal" font-style="normal" >−5</text>
<text x="44.40" y="433.70" font-size="9.3" fill="#8a8a8a" text-anchor="middle" font-weight="normal" font-style="normal" >A</text>
<text x="44.40" y="442.70" font-size="9.3" fill="#8a8a8a" text-anchor="middle" font-weight="normal" font-style="normal" >C</text>
<text x="44.40" y="451.70" font-size="9.3" fill="#8a8a8a" text-anchor="middle" font-weight="normal" font-style="normal" >T</text>
<text x="44.40" y="460.70" font-size="9.3" fill="#8a8a8a" text-anchor="middle" font-weight="normal" font-style="normal" >G</text>
<text x="38.00" y="460.70" font-size="9.4" fill="#1a1a1a" text-anchor="end" font-weight="normal" font-style="normal" >−1</text>
<text x="44.40" y="469.70" font-size="9.3" fill="#d2b48f" text-anchor="middle" font-weight="normal" font-style="normal" >A</text>
<text x="38.00" y="469.70" font-size="9.4" fill="#1a1a1a" text-anchor="end" font-weight="normal" font-style="normal" >1</text>
<text x="44.40" y="478.70" font-size="9.3" fill="#d2b48f" text-anchor="middle" font-weight="normal" font-style="normal" >C</text>
<text x="44.40" y="487.70" font-size="9.3" fill="#d2b48f" text-anchor="middle" font-weight="normal" font-style="normal" >C</text>
<text x="44.40" y="496.70" font-size="9.3" fill="#d2b48f" text-anchor="middle" font-weight="normal" font-style="normal" >T</text>
<text x="44.40" y="505.70" font-size="9.3" fill="#2ebf2e" text-anchor="middle" font-weight="normal" font-style="normal" >G</text>
<text x="38.00" y="505.70" font-size="9.4" fill="#1a1a1a" text-anchor="end" font-weight="normal" font-style="normal" >5</text>
<text x="44.40" y="514.70" font-size="9.3" fill="#2ebf2e" text-anchor="middle" font-weight="normal" font-style="normal" >G</text>
<text x="44.40" y="523.70" font-size="9.3" fill="#d2b48f" text-anchor="middle" font-weight="normal" font-style="normal" >G</text>
<text x="44.40" y="532.70" font-size="9.3" fill="#2e7a38" text-anchor="middle" font-weight="normal" font-style="normal" >G</text>
<text x="44.40" y="541.70" font-size="9.3" fill="#2e7a38" text-anchor="middle" font-weight="normal" font-style="normal" >G</text>
<text x="44.40" y="550.70" font-size="9.3" fill="#2e7a38" text-anchor="middle" font-weight="normal" font-style="normal" >A</text>
<text x="38.00" y="550.70" font-size="9.4" fill="#1a1a1a" text-anchor="end" font-weight="normal" font-style="normal" >10</text>
<text x="44.40" y="559.70" font-size="9.3" fill="#d2b48f" text-anchor="middle" font-weight="normal" font-style="normal" >G</text>
<text x="44.40" y="568.70" font-size="9.3" fill="#d2b48f" text-anchor="middle" font-weight="normal" font-style="normal" >T</text>
<text x="44.40" y="577.70" font-size="9.3" fill="#d2b48f" text-anchor="middle" font-weight="normal" font-style="normal" >A</text>
<text x="44.40" y="586.70" font-size="9.3" fill="#d2b48f" text-anchor="middle" font-weight="normal" font-style="normal" >T</text>
<text x="44.40" y="595.70" font-size="9.3" fill="#d2b48f" text-anchor="middle" font-weight="normal" font-style="normal" >T</text>
<text x="38.00" y="595.70" font-size="9.4" fill="#1a1a1a" text-anchor="end" font-weight="normal" font-style="normal" >15</text>
<text x="44.40" y="604.70" font-size="9.3" fill="#d2b48f" text-anchor="middle" font-weight="normal" font-style="normal" >G</text>
<text x="44.40" y="613.70" font-size="9.3" fill="#d2b48f" text-anchor="middle" font-weight="normal" font-style="normal" >C</text>
<text x="44.40" y="622.70" font-size="9.3" fill="#2e7a38" text-anchor="middle" font-weight="normal" font-style="normal" >G</text>
<text x="44.40" y="631.70" font-size="9.3" fill="#2e7a38" text-anchor="middle" font-weight="normal" font-style="normal" >G</text>
<text x="44.40" y="640.70" font-size="9.3" fill="#d2b48f" text-anchor="middle" font-weight="normal" font-style="normal" >A</text>
<text x="38.00" y="640.70" font-size="9.4" fill="#1a1a1a" text-anchor="end" font-weight="normal" font-style="normal" >20</text>
<text x="44.40" y="649.70" font-size="9.3" fill="#2ebf2e" text-anchor="middle" font-weight="normal" font-style="normal" >G</text>
<text x="44.40" y="658.70" font-size="9.3" fill="#2ebf2e" text-anchor="middle" font-weight="normal" font-style="normal" >G</text>
<text x="44.40" y="667.70" font-size="9.3" fill="#2ebf2e" text-anchor="middle" font-weight="normal" font-style="normal" >A</text>
<text x="44.40" y="676.70" font-size="9.3" fill="#d2b48f" text-anchor="middle" font-weight="normal" font-style="normal" >A</text>
<text x="44.40" y="685.70" font-size="9.3" fill="#d2b48f" text-anchor="middle" font-weight="normal" font-style="normal" >G</text>
<text x="38.00" y="685.70" font-size="9.4" fill="#1a1a1a" text-anchor="end" font-weight="normal" font-style="normal" >25</text>
<text x="44.40" y="694.70" font-size="9.3" fill="#d2b48f" text-anchor="middle" font-weight="normal" font-style="normal" >G</text>
<text x="44.40" y="703.70" font-size="9.3" fill="#d2b48f" text-anchor="middle" font-weight="normal" font-style="normal" >T</text>
<text x="38.00" y="703.70" font-size="9.4" fill="#1a1a1a" text-anchor="end" font-weight="normal" font-style="normal" >27</text>
<text x="291.50" y="424.70" font-size="9.3" fill="#8a8a8a" text-anchor="middle" font-weight="normal" font-style="normal" >C</text>
<text x="298.45" y="424.70" font-size="9.4" fill="#1a1a1a" text-anchor="start" font-weight="normal" font-style="normal" >−5</text>
<text x="291.50" y="433.70" font-size="9.3" fill="#8a8a8a" text-anchor="middle" font-weight="normal" font-style="normal" >A</text>
<text x="291.50" y="442.70" font-size="9.3" fill="#8a8a8a" text-anchor="middle" font-weight="normal" font-style="normal" >C</text>
<text x="291.50" y="451.70" font-size="9.3" fill="#8a8a8a" text-anchor="middle" font-weight="normal" font-style="normal" >T</text>
<text x="291.50" y="460.70" font-size="9.3" fill="#8a8a8a" text-anchor="middle" font-weight="normal" font-style="normal" >G</text>
<text x="298.45" y="460.70" font-size="9.4" fill="#1a1a1a" text-anchor="start" font-weight="normal" font-style="normal" >−1</text>
<text x="291.50" y="469.70" font-size="9.3" fill="#d2b48f" text-anchor="middle" font-weight="normal" font-style="normal" >A</text>
<text x="298.45" y="469.70" font-size="9.4" fill="#1a1a1a" text-anchor="start" font-weight="normal" font-style="normal" >1</text>
<text x="291.50" y="478.70" font-size="9.3" fill="#d2b48f" text-anchor="middle" font-weight="normal" font-style="normal" >C</text>
<text x="291.50" y="487.70" font-size="9.3" fill="#d2b48f" text-anchor="middle" font-weight="normal" font-style="normal" >C</text>
<text x="291.50" y="496.70" font-size="9.3" fill="#d2b48f" text-anchor="middle" font-weight="normal" font-style="normal" >T</text>
<text x="291.50" y="505.70" font-size="9.3" fill="#2ebf2e" text-anchor="middle" font-weight="normal" font-style="normal" >G</text>
<text x="298.45" y="505.70" font-size="9.4" fill="#1a1a1a" text-anchor="start" font-weight="normal" font-style="normal" >5</text>
<text x="291.50" y="514.70" font-size="9.3" fill="#2ebf2e" text-anchor="middle" font-weight="normal" font-style="normal" >G</text>
<text x="291.50" y="523.70" font-size="9.3" fill="#d2b48f" text-anchor="middle" font-weight="normal" font-style="normal" >G</text>
<text x="291.50" y="532.70" font-size="9.3" fill="#2e7a38" text-anchor="middle" font-weight="normal" font-style="normal" >G</text>
<text x="291.50" y="541.70" font-size="9.3" fill="#2e7a38" text-anchor="middle" font-weight="normal" font-style="normal" >G</text>
<text x="291.50" y="550.70" font-size="9.3" fill="#2e7a38" text-anchor="middle" font-weight="normal" font-style="normal" >A</text>
<text x="298.45" y="550.70" font-size="9.4" fill="#1a1a1a" text-anchor="start" font-weight="normal" font-style="normal" >10</text>
<text x="291.50" y="559.70" font-size="9.3" fill="#d2b48f" text-anchor="middle" font-weight="normal" font-style="normal" >G</text>
<text x="291.50" y="568.70" font-size="9.3" fill="#d2b48f" text-anchor="middle" font-weight="normal" font-style="normal" >T</text>
<text x="291.50" y="577.70" font-size="9.3" fill="#d2b48f" text-anchor="middle" font-weight="normal" font-style="normal" >A</text>
<text x="291.50" y="586.70" font-size="9.3" fill="#d2b48f" text-anchor="middle" font-weight="normal" font-style="normal" >T</text>
<text x="291.50" y="595.70" font-size="9.3" fill="#d2b48f" text-anchor="middle" font-weight="normal" font-style="normal" >T</text>
<text x="298.45" y="595.70" font-size="9.4" fill="#1a1a1a" text-anchor="start" font-weight="normal" font-style="normal" >15</text>
<text x="291.50" y="604.70" font-size="9.3" fill="#d2b48f" text-anchor="middle" font-weight="normal" font-style="normal" >G</text>
<text x="291.50" y="613.70" font-size="9.3" fill="#d2b48f" text-anchor="middle" font-weight="normal" font-style="normal" >C</text>
<text x="291.50" y="622.70" font-size="9.3" fill="#2e7a38" text-anchor="middle" font-weight="normal" font-style="normal" >G</text>
<text x="291.50" y="631.70" font-size="9.3" fill="#2e7a38" text-anchor="middle" font-weight="normal" font-style="normal" >G</text>
<text x="291.50" y="640.70" font-size="9.3" fill="#d2b48f" text-anchor="middle" font-weight="normal" font-style="normal" >A</text>
<text x="298.45" y="640.70" font-size="9.4" fill="#1a1a1a" text-anchor="start" font-weight="normal" font-style="normal" >20</text>
<text x="291.50" y="649.70" font-size="9.3" fill="#2ebf2e" text-anchor="middle" font-weight="normal" font-style="normal" >G</text>
<text x="291.50" y="658.70" font-size="9.3" fill="#2ebf2e" text-anchor="middle" font-weight="normal" font-style="normal" >G</text>
<text x="291.50" y="667.70" font-size="9.3" fill="#2ebf2e" text-anchor="middle" font-weight="normal" font-style="normal" >A</text>
<text x="291.50" y="676.70" font-size="9.3" fill="#d2b48f" text-anchor="middle" font-weight="normal" font-style="normal" >A</text>
<text x="291.50" y="685.70" font-size="9.3" fill="#d2b48f" text-anchor="middle" font-weight="normal" font-style="normal" >G</text>
<text x="298.45" y="685.70" font-size="9.4" fill="#1a1a1a" text-anchor="start" font-weight="normal" font-style="normal" >25</text>
<text x="291.50" y="694.70" font-size="9.3" fill="#d2b48f" text-anchor="middle" font-weight="normal" font-style="normal" >G</text>
<text x="291.50" y="703.70" font-size="9.3" fill="#d2b48f" text-anchor="middle" font-weight="normal" font-style="normal" >T</text>
<text x="298.45" y="703.70" font-size="9.4" fill="#1a1a1a" text-anchor="start" font-weight="normal" font-style="normal" >27</text>
<text x="0" y="0" font-size="11.25" fill="#1a1a1a" text-anchor="middle" transform="translate(15.60,466.60) rotate(-90)" dominant-baseline="central">5′ Duplex start site</text>
<text x="0" y="0" font-size="11.25" fill="#1a1a1a" text-anchor="middle" transform="translate(318.60,654.30) rotate(-90)" dominant-baseline="central">3′ Duplex start site</text>
<rect x="217.10" y="394.10" width="49.70" height="8.10" fill="url(#jetg)" />
<text x="213.65" y="402.20" font-size="11.25" fill="#1a1a1a" text-anchor="end" font-weight="normal" font-style="normal" >0</text>
<text x="267.85" y="402.20" font-size="11.25" fill="#1a1a1a" text-anchor="start" font-weight="normal" font-style="normal" >0.5</text>
<rect x="411.70" y="416.60" width="9.59" height="9.60" fill="#0061ff" />
<rect x="420.69" y="416.60" width="9.59" height="9.60" fill="#0000f0" />
<rect x="429.68" y="416.60" width="9.59" height="9.60" fill="#0000f0" />
<rect x="438.67" y="416.60" width="9.59" height="9.60" fill="#0000f0" />
<rect x="447.66" y="416.60" width="9.59" height="9.60" fill="#0061ff" />
<rect x="456.65" y="416.60" width="9.59" height="9.60" fill="#00b2ff" />
<rect x="465.64" y="416.60" width="9.59" height="9.60" fill="#00ffff" />
<rect x="474.63" y="416.60" width="9.59" height="9.60" fill="#9eff61" />
<rect x="483.62" y="416.60" width="9.59" height="9.60" fill="#fff500" />
<rect x="492.61" y="416.60" width="9.59" height="9.60" fill="#ffbd00" />
<rect x="501.60" y="416.60" width="9.59" height="9.60" fill="#4dffb2" />
<rect x="510.59" y="416.60" width="9.59" height="9.60" fill="#9eff61" />
<rect x="519.58" y="416.60" width="9.59" height="9.60" fill="#00b2ff" />
<rect x="528.57" y="416.60" width="9.59" height="9.60" fill="#00ffff" />
<rect x="537.56" y="416.60" width="9.59" height="9.60" fill="#00b2ff" />
<rect x="546.55" y="416.60" width="9.59" height="9.60" fill="#0061ff" />
<rect x="555.54" y="416.60" width="9.59" height="9.60" fill="#0061ff" />
<rect x="564.53" y="416.60" width="9.59" height="9.60" fill="#0000f0" />
<rect x="573.52" y="416.60" width="9.59" height="9.60" fill="#0000f0" />
<rect x="582.51" y="416.60" width="9.59" height="9.60" fill="#0000f0" />
<rect x="591.50" y="416.60" width="9.59" height="9.60" fill="#0000f0" />
<rect x="600.49" y="416.60" width="9.59" height="9.60" fill="#0000f0" />
<rect x="609.48" y="416.60" width="9.59" height="9.60" fill="#0000f0" />
<rect x="618.47" y="416.60" width="9.59" height="9.60" fill="#0000f0" />
<rect x="627.46" y="416.60" width="9.59" height="9.60" fill="#000094" />
<rect x="636.45" y="416.60" width="9.59" height="9.60" fill="#000094" />
<rect x="411.70" y="425.60" width="9.59" height="9.60" fill="#0061ff" />
<rect x="420.69" y="425.60" width="9.59" height="9.60" fill="#0061ff" />
<rect x="429.68" y="425.60" width="9.59" height="9.60" fill="#00b2ff" />
<rect x="438.67" y="425.60" width="9.59" height="9.60" fill="#4dffb2" />
<rect x="447.66" y="425.60" width="9.59" height="9.60" fill="#9eff61" />
<rect x="456.65" y="425.60" width="9.59" height="9.60" fill="#9eff61" />
<rect x="465.64" y="425.60" width="9.59" height="9.60" fill="#9eff61" />
<rect x="474.63" y="425.60" width="9.59" height="9.60" fill="#9eff61" />
<rect x="483.62" y="425.60" width="9.59" height="9.60" fill="#ffbd00" />
<rect x="492.61" y="425.60" width="9.59" height="9.60" fill="#fff500" />
<rect x="501.60" y="425.60" width="9.59" height="9.60" fill="#fff500" />
<rect x="510.59" y="425.60" width="9.59" height="9.60" fill="#00b2ff" />
<rect x="519.58" y="425.60" width="9.59" height="9.60" fill="#00ffff" />
<rect x="528.57" y="425.60" width="9.59" height="9.60" fill="#0000f0" />
<rect x="537.56" y="425.60" width="9.59" height="9.60" fill="#0000f0" />
<rect x="546.55" y="425.60" width="9.59" height="9.60" fill="#0000f0" />
<rect x="555.54" y="425.60" width="9.59" height="9.60" fill="#0061ff" />
<rect x="564.53" y="425.60" width="9.59" height="9.60" fill="#0000f0" />
<rect x="573.52" y="425.60" width="9.59" height="9.60" fill="#0000f0" />
<rect x="582.51" y="425.60" width="9.59" height="9.60" fill="#0000f0" />
<rect x="591.50" y="425.60" width="9.59" height="9.60" fill="#0000f0" />
<rect x="600.49" y="425.60" width="9.59" height="9.60" fill="#0000f0" />
<rect x="609.48" y="425.60" width="9.59" height="9.60" fill="#000094" />
<rect x="618.47" y="425.60" width="9.59" height="9.60" fill="#000094" />
<rect x="627.46" y="425.60" width="9.59" height="9.60" fill="#000094" />
<rect x="411.70" y="434.60" width="9.59" height="9.60" fill="#0000f0" />
<rect x="420.69" y="434.60" width="9.59" height="9.60" fill="#00ffff" />
<rect x="429.68" y="434.60" width="9.59" height="9.60" fill="#4dffb2" />
<rect x="438.67" y="434.60" width="9.59" height="9.60" fill="#9eff61" />
<rect x="447.66" y="434.60" width="9.59" height="9.60" fill="#9eff61" />
<rect x="456.65" y="434.60" width="9.59" height="9.60" fill="#9eff61" />
<rect x="465.64" y="434.60" width="9.59" height="9.60" fill="#9eff61" />
<rect x="474.63" y="434.60" width="9.59" height="9.60" fill="#fff500" />
<rect x="483.62" y="434.60" width="9.59" height="9.60" fill="#4dffb2" />
<rect x="492.61" y="434.60" width="9.59" height="9.60" fill="#ffbd00" />
<rect x="501.60" y="434.60" width="9.59" height="9.60" fill="#00ffff" />
<rect x="510.59" y="434.60" width="9.59" height="9.60" fill="#4dffb2" />
<rect x="519.58" y="434.60" width="9.59" height="9.60" fill="#00ffff" />
<rect x="528.57" y="434.60" width="9.59" height="9.60" fill="#0000f0" />
<rect x="537.56" y="434.60" width="9.59" height="9.60" fill="#0000f0" />
<rect x="546.55" y="434.60" width="9.59" height="9.60" fill="#0000f0" />
<rect x="555.54" y="434.60" width="9.59" height="9.60" fill="#000094" />
<rect x="564.53" y="434.60" width="9.59" height="9.60" fill="#000094" />
<rect x="573.52" y="434.60" width="9.59" height="9.60" fill="#0000f0" />
<rect x="582.51" y="434.60" width="9.59" height="9.60" fill="#000094" />
<rect x="591.50" y="434.60" width="9.59" height="9.60" fill="#000094" />
<rect x="600.49" y="434.60" width="9.59" height="9.60" fill="#0000f0" />
<rect x="609.48" y="434.60" width="9.59" height="9.60" fill="#000094" />
<rect x="618.47" y="434.60" width="9.59" height="9.60" fill="#0000f0" />
<rect x="420.69" y="443.60" width="9.59" height="9.60" fill="#ffbd00" />
<rect x="429.68" y="443.60" width="9.59" height="9.60" fill="#ffbd00" />
<rect x="438.67" y="443.60" width="9.59" height="9.60" fill="#fff500" />
<rect x="447.66" y="443.60" width="9.59" height="9.60" fill="#ffbd00" />
<rect x="456.65" y="443.60" width="9.59" height="9.60" fill="#fff500" />
<rect x="465.64" y="443.60" width="9.59" height="9.60" fill="#9eff61" />
<rect x="474.63" y="443.60" width="9.59" height="9.60" fill="#4dffb2" />
<rect x="483.62" y="443.60" width="9.59" height="9.60" fill="#00b2ff" />
<rect x="492.61" y="443.60" width="9.59" height="9.60" fill="#00ffff" />
<rect x="501.60" y="443.60" width="9.59" height="9.60" fill="#0061ff" />
<rect x="510.59" y="443.60" width="9.59" height="9.60" fill="#0000f0" />
<rect x="519.58" y="443.60" width="9.59" height="9.60" fill="#0061ff" />
<rect x="528.57" y="443.60" width="9.59" height="9.60" fill="#0061ff" />
<rect x="537.56" y="443.60" width="9.59" height="9.60" fill="#0000f0" />
<rect x="546.55" y="443.60" width="9.59" height="9.60" fill="#0061ff" />
<rect x="555.54" y="443.60" width="9.59" height="9.60" fill="#000094" />
<rect x="564.53" y="443.60" width="9.59" height="9.60" fill="#000094" />
<rect x="573.52" y="443.60" width="9.59" height="9.60" fill="#0000f0" />
<rect x="582.51" y="443.60" width="9.59" height="9.60" fill="#000094" />
<rect x="591.50" y="443.60" width="9.59" height="9.60" fill="#000094" />
<rect x="600.49" y="443.60" width="9.59" height="9.60" fill="#000094" />
<rect x="609.48" y="443.60" width="9.59" height="9.60" fill="#000094" />
<rect x="420.69" y="452.60" width="9.59" height="9.60" fill="#fff500" />
<rect x="429.68" y="452.60" width="9.59" height="9.60" fill="#fff500" />
<rect x="438.67" y="452.60" width="9.59" height="9.60" fill="#ffbd00" />
<rect x="447.66" y="452.60" width="9.59" height="9.60" fill="#fff500" />
<rect x="456.65" y="452.60" width="9.59" height="9.60" fill="#9eff61" />
<rect x="465.64" y="452.60" width="9.59" height="9.60" fill="#00ffff" />
<rect x="474.63" y="452.60" width="9.59" height="9.60" fill="#00b2ff" />
<rect x="483.62" y="452.60" width="9.59" height="9.60" fill="#00ffff" />
<rect x="492.61" y="452.60" width="9.59" height="9.60" fill="#00b2ff" />
<rect x="501.60" y="452.60" width="9.59" height="9.60" fill="#0061ff" />
<rect x="510.59" y="452.60" width="9.59" height="9.60" fill="#0061ff" />
<rect x="519.58" y="452.60" width="9.59" height="9.60" fill="#0061ff" />
<rect x="528.57" y="452.60" width="9.59" height="9.60" fill="#000094" />
<rect x="537.56" y="452.60" width="9.59" height="9.60" fill="#0000f0" />
<rect x="546.55" y="452.60" width="9.59" height="9.60" fill="#0000f0" />
<rect x="555.54" y="452.60" width="9.59" height="9.60" fill="#0000f0" />
<rect x="564.53" y="452.60" width="9.59" height="9.60" fill="#0000f0" />
<rect x="573.52" y="452.60" width="9.59" height="9.60" fill="#000094" />
<rect x="582.51" y="452.60" width="9.59" height="9.60" fill="#000094" />
<rect x="591.50" y="452.60" width="9.59" height="9.60" fill="#000094" />
<rect x="600.49" y="452.60" width="9.59" height="9.60" fill="#000094" />
<rect x="420.69" y="461.60" width="9.59" height="9.60" fill="#9eff61" />
<rect x="429.68" y="461.60" width="9.59" height="9.60" fill="#ff8000" />
<rect x="438.67" y="461.60" width="9.59" height="9.60" fill="#ff8000" />
<rect x="447.66" y="461.60" width="9.59" height="9.60" fill="#fff500" />
<rect x="456.65" y="461.60" width="9.59" height="9.60" fill="#9eff61" />
<rect x="465.64" y="461.60" width="9.59" height="9.60" fill="#4dffb2" />
<rect x="474.63" y="461.60" width="9.59" height="9.60" fill="#4dffb2" />
<rect x="483.62" y="461.60" width="9.59" height="9.60" fill="#0061ff" />
<rect x="492.61" y="461.60" width="9.59" height="9.60" fill="#0000f0" />
<rect x="501.60" y="461.60" width="9.59" height="9.60" fill="#0061ff" />
<rect x="510.59" y="461.60" width="9.59" height="9.60" fill="#00b2ff" />
<rect x="519.58" y="461.60" width="9.59" height="9.60" fill="#0061ff" />
<rect x="528.57" y="461.60" width="9.59" height="9.60" fill="#0000f0" />
<rect x="537.56" y="461.60" width="9.59" height="9.60" fill="#0000f0" />
<rect x="546.55" y="461.60" width="9.59" height="9.60" fill="#0000f0" />
<rect x="555.54" y="461.60" width="9.59" height="9.60" fill="#0000f0" />
<rect x="564.53" y="461.60" width="9.59" height="9.60" fill="#0000f0" />
<rect x="573.52" y="461.60" width="9.59" height="9.60" fill="#000094" />
<rect x="582.51" y="461.60" width="9.59" height="9.60" fill="#000094" />
<rect x="591.50" y="461.60" width="9.59" height="9.60" fill="#0000f0" />
<rect x="411.70" y="470.60" width="9.59" height="9.60" fill="#ffbd00" />
<rect x="420.69" y="470.60" width="9.59" height="9.60" fill="#ff0000" />
<rect x="429.68" y="470.60" width="9.59" height="9.60" fill="#ff4200" />
<rect x="438.67" y="470.60" width="9.59" height="9.60" fill="#ffbd00" />
<rect x="447.66" y="470.60" width="9.59" height="9.60" fill="#9eff61" />
<rect x="456.65" y="470.60" width="9.59" height="9.60" fill="#9eff61" />
<rect x="465.64" y="470.60" width="9.59" height="9.60" fill="#00b2ff" />
<rect x="474.63" y="470.60" width="9.59" height="9.60" fill="#00b2ff" />
<rect x="483.62" y="470.60" width="9.59" height="9.60" fill="#0000f0" />
<rect x="492.61" y="470.60" width="9.59" height="9.60" fill="#0061ff" />
<rect x="501.60" y="470.60" width="9.59" height="9.60" fill="#0000f0" />
<rect x="510.59" y="470.60" width="9.59" height="9.60" fill="#0061ff" />
<rect x="519.58" y="470.60" width="9.59" height="9.60" fill="#0000f0" />
<rect x="528.57" y="470.60" width="9.59" height="9.60" fill="#0000f0" />
<rect x="537.56" y="470.60" width="9.59" height="9.60" fill="#0000f0" />
<rect x="546.55" y="470.60" width="9.59" height="9.60" fill="#000094" />
<rect x="555.54" y="470.60" width="9.59" height="9.60" fill="#0000f0" />
<rect x="564.53" y="470.60" width="9.59" height="9.60" fill="#0000f0" />
<rect x="573.52" y="470.60" width="9.59" height="9.60" fill="#000094" />
<rect x="582.51" y="470.60" width="9.59" height="9.60" fill="#000094" />
<rect x="636.45" y="470.60" width="9.59" height="9.60" fill="#0061ff" />
<rect x="420.69" y="479.60" width="9.59" height="9.60" fill="#ff0000" />
<rect x="429.68" y="479.60" width="9.59" height="9.60" fill="#8f0000" />
<rect x="438.67" y="479.60" width="9.59" height="9.60" fill="#ff0000" />
<rect x="447.66" y="479.60" width="9.59" height="9.60" fill="#ff8000" />
<rect x="456.65" y="479.60" width="9.59" height="9.60" fill="#9eff61" />
<rect x="465.64" y="479.60" width="9.59" height="9.60" fill="#00ffff" />
<rect x="474.63" y="479.60" width="9.59" height="9.60" fill="#00b2ff" />
<rect x="483.62" y="479.60" width="9.59" height="9.60" fill="#00b2ff" />
<rect x="492.61" y="479.60" width="9.59" height="9.60" fill="#0061ff" />
<rect x="501.60" y="479.60" width="9.59" height="9.60" fill="#00b2ff" />
<rect x="510.59" y="479.60" width="9.59" height="9.60" fill="#0000f0" />
<rect x="519.58" y="479.60" width="9.59" height="9.60" fill="#00ffff" />
<rect x="528.57" y="479.60" width="9.59" height="9.60" fill="#0061ff" />
<rect x="537.56" y="479.60" width="9.59" height="9.60" fill="#0000f0" />
<rect x="546.55" y="479.60" width="9.59" height="9.60" fill="#0000f0" />
<rect x="555.54" y="479.60" width="9.59" height="9.60" fill="#0000f0" />
<rect x="564.53" y="479.60" width="9.59" height="9.60" fill="#0000f0" />
<rect x="573.52" y="479.60" width="9.59" height="9.60" fill="#000094" />
<rect x="627.46" y="479.60" width="9.59" height="9.60" fill="#0000f0" />
<rect x="636.45" y="479.60" width="9.59" height="9.60" fill="#0061ff" />
<rect x="429.68" y="488.60" width="9.59" height="9.60" fill="#8f0000" />
<rect x="438.67" y="488.60" width="9.59" height="9.60" fill="#8f0000" />
<rect x="447.66" y="488.60" width="9.59" height="9.60" fill="#ff0000" />
<rect x="456.65" y="488.60" width="9.59" height="9.60" fill="#ffbd00" />
<rect x="465.64" y="488.60" width="9.59" height="9.60" fill="#00ffff" />
<rect x="474.63" y="488.60" width="9.59" height="9.60" fill="#00b2ff" />
<rect x="483.62" y="488.60" width="9.59" height="9.60" fill="#00ffff" />
<rect x="492.61" y="488.60" width="9.59" height="9.60" fill="#0061ff" />
<rect x="501.60" y="488.60" width="9.59" height="9.60" fill="#00b2ff" />
<rect x="510.59" y="488.60" width="9.59" height="9.60" fill="#0061ff" />
<rect x="519.58" y="488.60" width="9.59" height="9.60" fill="#00b2ff" />
<rect x="528.57" y="488.60" width="9.59" height="9.60" fill="#0061ff" />
<rect x="537.56" y="488.60" width="9.59" height="9.60" fill="#0000f0" />
<rect x="546.55" y="488.60" width="9.59" height="9.60" fill="#0000f0" />
<rect x="555.54" y="488.60" width="9.59" height="9.60" fill="#0000f0" />
<rect x="564.53" y="488.60" width="9.59" height="9.60" fill="#0000f0" />
<rect x="618.47" y="488.60" width="9.59" height="9.60" fill="#0000f0" />
<rect x="627.46" y="488.60" width="9.59" height="9.60" fill="#0061ff" />
<rect x="636.45" y="488.60" width="9.59" height="9.60" fill="#0061ff" />
<rect x="420.69" y="497.60" width="9.59" height="9.60" fill="#8f0000" />
<rect x="429.68" y="497.60" width="9.59" height="9.60" fill="#8f0000" />
<rect x="438.67" y="497.60" width="9.59" height="9.60" fill="#8f0000" />
<rect x="447.66" y="497.60" width="9.59" height="9.60" fill="#ff0000" />
<rect x="456.65" y="497.60" width="9.59" height="9.60" fill="#9eff61" />
<rect x="465.64" y="497.60" width="9.59" height="9.60" fill="#00ffff" />
<rect x="474.63" y="497.60" width="9.59" height="9.60" fill="#00b2ff" />
<rect x="483.62" y="497.60" width="9.59" height="9.60" fill="#00ffff" />
<rect x="492.61" y="497.60" width="9.59" height="9.60" fill="#00b2ff" />
<rect x="501.60" y="497.60" width="9.59" height="9.60" fill="#0000f0" />
<rect x="510.59" y="497.60" width="9.59" height="9.60" fill="#00b2ff" />
<rect x="519.58" y="497.60" width="9.59" height="9.60" fill="#0061ff" />
<rect x="528.57" y="497.60" width="9.59" height="9.60" fill="#0000f0" />
<rect x="537.56" y="497.60" width="9.59" height="9.60" fill="#0000f0" />
<rect x="546.55" y="497.60" width="9.59" height="9.60" fill="#0000f0" />
<rect x="555.54" y="497.60" width="9.59" height="9.60" fill="#0000f0" />
<rect x="609.48" y="497.60" width="9.59" height="9.60" fill="#0000f0" />
<rect x="618.47" y="497.60" width="9.59" height="9.60" fill="#00b2ff" />
<rect x="627.46" y="497.60" width="9.59" height="9.60" fill="#00ffff" />
<rect x="429.68" y="506.60" width="9.59" height="9.60" fill="#8f0000" />
<rect x="438.67" y="506.60" width="9.59" height="9.60" fill="#8f0000" />
<rect x="447.66" y="506.60" width="9.59" height="9.60" fill="#ff4200" />
<rect x="456.65" y="506.60" width="9.59" height="9.60" fill="#9eff61" />
<rect x="465.64" y="506.60" width="9.59" height="9.60" fill="#4dffb2" />
<rect x="474.63" y="506.60" width="9.59" height="9.60" fill="#4dffb2" />
<rect x="483.62" y="506.60" width="9.59" height="9.60" fill="#00b2ff" />
<rect x="492.61" y="506.60" width="9.59" height="9.60" fill="#0061ff" />
<rect x="501.60" y="506.60" width="9.59" height="9.60" fill="#0061ff" />
<rect x="510.59" y="506.60" width="9.59" height="9.60" fill="#0000f0" />
<rect x="519.58" y="506.60" width="9.59" height="9.60" fill="#0061ff" />
<rect x="528.57" y="506.60" width="9.59" height="9.60" fill="#0061ff" />
<rect x="537.56" y="506.60" width="9.59" height="9.60" fill="#0000f0" />
<rect x="546.55" y="506.60" width="9.59" height="9.60" fill="#0000f0" />
<rect x="600.49" y="506.60" width="9.59" height="9.60" fill="#0061ff" />
<rect x="609.48" y="506.60" width="9.59" height="9.60" fill="#4dffb2" />
<rect x="618.47" y="506.60" width="9.59" height="9.60" fill="#4dffb2" />
<rect x="627.46" y="506.60" width="9.59" height="9.60" fill="#ffbd00" />
<rect x="429.68" y="515.60" width="9.59" height="9.60" fill="#ff4200" />
<rect x="438.67" y="515.60" width="9.59" height="9.60" fill="#8f0000" />
<rect x="447.66" y="515.60" width="9.59" height="9.60" fill="#ff8000" />
<rect x="456.65" y="515.60" width="9.59" height="9.60" fill="#fff500" />
<rect x="465.64" y="515.60" width="9.59" height="9.60" fill="#9eff61" />
<rect x="474.63" y="515.60" width="9.59" height="9.60" fill="#00ffff" />
<rect x="483.62" y="515.60" width="9.59" height="9.60" fill="#00b2ff" />
<rect x="492.61" y="515.60" width="9.59" height="9.60" fill="#0061ff" />
<rect x="501.60" y="515.60" width="9.59" height="9.60" fill="#0061ff" />
<rect x="510.59" y="515.60" width="9.59" height="9.60" fill="#00b2ff" />
<rect x="519.58" y="515.60" width="9.59" height="9.60" fill="#00b2ff" />
<rect x="528.57" y="515.60" width="9.59" height="9.60" fill="#0061ff" />
<rect x="537.56" y="515.60" width="9.59" height="9.60" fill="#00b2ff" />
<rect x="591.50" y="515.60" width="9.59" height="9.60" fill="#00b2ff" />
<rect x="600.49" y="515.60" width="9.59" height="9.60" fill="#4dffb2" />
<rect x="609.48" y="515.60" width="9.59" height="9.60" fill="#9eff61" />
<rect x="618.47" y="515.60" width="9.59" height="9.60" fill="#ffbd00" />
<rect x="627.46" y="515.60" width="9.59" height="9.60" fill="#fff500" />
<rect x="429.68" y="524.60" width="9.59" height="9.60" fill="#ff4200" />
<rect x="438.67" y="524.60" width="9.59" height="9.60" fill="#8f0000" />
<rect x="447.66" y="524.60" width="9.59" height="9.60" fill="#ff4200" />
<rect x="456.65" y="524.60" width="9.59" height="9.60" fill="#4dffb2" />
<rect x="465.64" y="524.60" width="9.59" height="9.60" fill="#9eff61" />
<rect x="474.63" y="524.60" width="9.59" height="9.60" fill="#00b2ff" />
<rect x="483.62" y="524.60" width="9.59" height="9.60" fill="#00b2ff" />
<rect x="492.61" y="524.60" width="9.59" height="9.60" fill="#0061ff" />
<rect x="501.60" y="524.60" width="9.59" height="9.60" fill="#0061ff" />
<rect x="510.59" y="524.60" width="9.59" height="9.60" fill="#0061ff" />
<rect x="519.58" y="524.60" width="9.59" height="9.60" fill="#0061ff" />
<rect x="528.57" y="524.60" width="9.59" height="9.60" fill="#0061ff" />
<rect x="582.51" y="524.60" width="9.59" height="9.60" fill="#4dffb2" />
<rect x="591.50" y="524.60" width="9.59" height="9.60" fill="#9eff61" />
<rect x="600.49" y="524.60" width="9.59" height="9.60" fill="#4dffb2" />
<rect x="609.48" y="524.60" width="9.59" height="9.60" fill="#fff500" />
<rect x="618.47" y="524.60" width="9.59" height="9.60" fill="#fff500" />
<rect x="627.46" y="524.60" width="9.59" height="9.60" fill="#fff500" />
<rect x="636.45" y="524.60" width="9.59" height="9.60" fill="#ffbd00" />
<rect x="438.67" y="533.60" width="9.59" height="9.60" fill="#ff8000" />
<rect x="447.66" y="533.60" width="9.59" height="9.60" fill="#4dffb2" />
<rect x="456.65" y="533.60" width="9.59" height="9.60" fill="#9eff61" />
<rect x="465.64" y="533.60" width="9.59" height="9.60" fill="#00ffff" />
<rect x="474.63" y="533.60" width="9.59" height="9.60" fill="#0061ff" />
<rect x="483.62" y="533.60" width="9.59" height="9.60" fill="#00b2ff" />
<rect x="492.61" y="533.60" width="9.59" height="9.60" fill="#00b2ff" />
<rect x="501.60" y="533.60" width="9.59" height="9.60" fill="#0000f0" />
<rect x="510.59" y="533.60" width="9.59" height="9.60" fill="#00b2ff" />
<rect x="519.58" y="533.60" width="9.59" height="9.60" fill="#000094" />
<rect x="573.52" y="533.60" width="9.59" height="9.60" fill="#9eff61" />
<rect x="582.51" y="533.60" width="9.59" height="9.60" fill="#9eff61" />
<rect x="591.50" y="533.60" width="9.59" height="9.60" fill="#9eff61" />
<rect x="600.49" y="533.60" width="9.59" height="9.60" fill="#ffbd00" />
<rect x="609.48" y="533.60" width="9.59" height="9.60" fill="#ffbd00" />
<rect x="618.47" y="533.60" width="9.59" height="9.60" fill="#ff4200" />
<rect x="627.46" y="533.60" width="9.59" height="9.60" fill="#ff0000" />
<rect x="429.68" y="542.60" width="9.59" height="9.60" fill="#00ffff" />
<rect x="438.67" y="542.60" width="9.59" height="9.60" fill="#00ffff" />
<rect x="447.66" y="542.60" width="9.59" height="9.60" fill="#4dffb2" />
<rect x="456.65" y="542.60" width="9.59" height="9.60" fill="#00ffff" />
<rect x="465.64" y="542.60" width="9.59" height="9.60" fill="#00ffff" />
<rect x="474.63" y="542.60" width="9.59" height="9.60" fill="#00b2ff" />
<rect x="483.62" y="542.60" width="9.59" height="9.60" fill="#00b2ff" />
<rect x="492.61" y="542.60" width="9.59" height="9.60" fill="#00b2ff" />
<rect x="501.60" y="542.60" width="9.59" height="9.60" fill="#00b2ff" />
<rect x="510.59" y="542.60" width="9.59" height="9.60" fill="#0000f0" />
<rect x="564.53" y="542.60" width="9.59" height="9.60" fill="#fff500" />
<rect x="573.52" y="542.60" width="9.59" height="9.60" fill="#fff500" />
<rect x="582.51" y="542.60" width="9.59" height="9.60" fill="#9eff61" />
<rect x="591.50" y="542.60" width="9.59" height="9.60" fill="#fff500" />
<rect x="600.49" y="542.60" width="9.59" height="9.60" fill="#fff500" />
<rect x="609.48" y="542.60" width="9.59" height="9.60" fill="#ff8000" />
<rect x="618.47" y="542.60" width="9.59" height="9.60" fill="#ff0000" />
<rect x="627.46" y="542.60" width="9.59" height="9.60" fill="#ff0000" />
<rect x="420.69" y="551.60" width="9.59" height="9.60" fill="#4dffb2" />
<rect x="429.68" y="551.60" width="9.59" height="9.60" fill="#0061ff" />
<rect x="438.67" y="551.60" width="9.59" height="9.60" fill="#00ffff" />
<rect x="447.66" y="551.60" width="9.59" height="9.60" fill="#00b2ff" />
<rect x="456.65" y="551.60" width="9.59" height="9.60" fill="#00ffff" />
<rect x="465.64" y="551.60" width="9.59" height="9.60" fill="#00ffff" />
<rect x="474.63" y="551.60" width="9.59" height="9.60" fill="#0061ff" />
<rect x="483.62" y="551.60" width="9.59" height="9.60" fill="#00b2ff" />
<rect x="492.61" y="551.60" width="9.59" height="9.60" fill="#0061ff" />
<rect x="501.60" y="551.60" width="9.59" height="9.60" fill="#000094" />
<rect x="555.54" y="551.60" width="9.59" height="9.60" fill="#ffbd00" />
<rect x="564.53" y="551.60" width="9.59" height="9.60" fill="#ffbd00" />
<rect x="573.52" y="551.60" width="9.59" height="9.60" fill="#fff500" />
<rect x="582.51" y="551.60" width="9.59" height="9.60" fill="#4dffb2" />
<rect x="591.50" y="551.60" width="9.59" height="9.60" fill="#4dffb2" />
<rect x="600.49" y="551.60" width="9.59" height="9.60" fill="#fff500" />
<rect x="609.48" y="551.60" width="9.59" height="9.60" fill="#ffbd00" />
<rect x="618.47" y="551.60" width="9.59" height="9.60" fill="#8f0000" />
<rect x="420.69" y="560.60" width="9.59" height="9.60" fill="#4dffb2" />
<rect x="429.68" y="560.60" width="9.59" height="9.60" fill="#4dffb2" />
<rect x="438.67" y="560.60" width="9.59" height="9.60" fill="#00ffff" />
<rect x="447.66" y="560.60" width="9.59" height="9.60" fill="#4dffb2" />
<rect x="456.65" y="560.60" width="9.59" height="9.60" fill="#00b2ff" />
<rect x="465.64" y="560.60" width="9.59" height="9.60" fill="#0061ff" />
<rect x="474.63" y="560.60" width="9.59" height="9.60" fill="#0061ff" />
<rect x="483.62" y="560.60" width="9.59" height="9.60" fill="#00b2ff" />
<rect x="492.61" y="560.60" width="9.59" height="9.60" fill="#0061ff" />
<rect x="546.55" y="560.60" width="9.59" height="9.60" fill="#4dffb2" />
<rect x="555.54" y="560.60" width="9.59" height="9.60" fill="#fff500" />
<rect x="564.53" y="560.60" width="9.59" height="9.60" fill="#4dffb2" />
<rect x="573.52" y="560.60" width="9.59" height="9.60" fill="#4dffb2" />
<rect x="582.51" y="560.60" width="9.59" height="9.60" fill="#00ffff" />
<rect x="591.50" y="560.60" width="9.59" height="9.60" fill="#4dffb2" />
<rect x="600.49" y="560.60" width="9.59" height="9.60" fill="#4dffb2" />
<rect x="609.48" y="560.60" width="9.59" height="9.60" fill="#ff0000" />
<rect x="618.47" y="560.60" width="9.59" height="9.60" fill="#8f0000" />
<rect x="627.46" y="560.60" width="9.59" height="9.60" fill="#8f0000" />
<rect x="411.70" y="569.60" width="9.59" height="9.60" fill="#00ffff" />
<rect x="420.69" y="569.60" width="9.59" height="9.60" fill="#00ffff" />
<rect x="429.68" y="569.60" width="9.59" height="9.60" fill="#0061ff" />
<rect x="438.67" y="569.60" width="9.59" height="9.60" fill="#00ffff" />
<rect x="447.66" y="569.60" width="9.59" height="9.60" fill="#00b2ff" />
<rect x="456.65" y="569.60" width="9.59" height="9.60" fill="#00b2ff" />
<rect x="465.64" y="569.60" width="9.59" height="9.60" fill="#00ffff" />
<rect x="474.63" y="569.60" width="9.59" height="9.60" fill="#00b2ff" />
<rect x="483.62" y="569.60" width="9.59" height="9.60" fill="#00ffff" />
<rect x="537.56" y="569.60" width="9.59" height="9.60" fill="#fff500" />
<rect x="546.55" y="569.60" width="9.59" height="9.60" fill="#fff500" />
<rect x="555.54" y="569.60" width="9.59" height="9.60" fill="#ffbd00" />
<rect x="564.53" y="569.60" width="9.59" height="9.60" fill="#00b2ff" />
<rect x="573.52" y="569.60" width="9.59" height="9.60" fill="#00b2ff" />
<rect x="582.51" y="569.60" width="9.59" height="9.60" fill="#4dffb2" />
<rect x="591.50" y="569.60" width="9.59" height="9.60" fill="#4dffb2" />
<rect x="600.49" y="569.60" width="9.59" height="9.60" fill="#ff8000" />
<rect x="609.48" y="569.60" width="9.59" height="9.60" fill="#8f0000" />
<rect x="618.47" y="569.60" width="9.59" height="9.60" fill="#8f0000" />
<rect x="411.70" y="578.60" width="9.59" height="9.60" fill="#0061ff" />
<rect x="420.69" y="578.60" width="9.59" height="9.60" fill="#00b2ff" />
<rect x="429.68" y="578.60" width="9.59" height="9.60" fill="#0061ff" />
<rect x="438.67" y="578.60" width="9.59" height="9.60" fill="#0061ff" />
<rect x="447.66" y="578.60" width="9.59" height="9.60" fill="#00b2ff" />
<rect x="456.65" y="578.60" width="9.59" height="9.60" fill="#00b2ff" />
<rect x="465.64" y="578.60" width="9.59" height="9.60" fill="#00ffff" />
<rect x="474.63" y="578.60" width="9.59" height="9.60" fill="#0000f0" />
<rect x="528.57" y="578.60" width="9.59" height="9.60" fill="#0061ff" />
<rect x="537.56" y="578.60" width="9.59" height="9.60" fill="#00b2ff" />
<rect x="546.55" y="578.60" width="9.59" height="9.60" fill="#00ffff" />
<rect x="555.54" y="578.60" width="9.59" height="9.60" fill="#00ffff" />
<rect x="564.53" y="578.60" width="9.59" height="9.60" fill="#00ffff" />
<rect x="573.52" y="578.60" width="9.59" height="9.60" fill="#4dffb2" />
<rect x="582.51" y="578.60" width="9.59" height="9.60" fill="#00b2ff" />
<rect x="591.50" y="578.60" width="9.59" height="9.60" fill="#fff500" />
<rect x="600.49" y="578.60" width="9.59" height="9.60" fill="#ff0000" />
<rect x="609.48" y="578.60" width="9.59" height="9.60" fill="#8f0000" />
<rect x="618.47" y="578.60" width="9.59" height="9.60" fill="#8f0000" />
<rect x="411.70" y="587.60" width="9.59" height="9.60" fill="#4dffb2" />
<rect x="420.69" y="587.60" width="9.59" height="9.60" fill="#00b2ff" />
<rect x="429.68" y="587.60" width="9.59" height="9.60" fill="#0061ff" />
<rect x="438.67" y="587.60" width="9.59" height="9.60" fill="#0061ff" />
<rect x="447.66" y="587.60" width="9.59" height="9.60" fill="#0061ff" />
<rect x="456.65" y="587.60" width="9.59" height="9.60" fill="#00ffff" />
<rect x="465.64" y="587.60" width="9.59" height="9.60" fill="#0061ff" />
<rect x="519.58" y="587.60" width="9.59" height="9.60" fill="#00ffff" />
<rect x="528.57" y="587.60" width="9.59" height="9.60" fill="#4dffb2" />
<rect x="537.56" y="587.60" width="9.59" height="9.60" fill="#4dffb2" />
<rect x="546.55" y="587.60" width="9.59" height="9.60" fill="#0061ff" />
<rect x="555.54" y="587.60" width="9.59" height="9.60" fill="#00b2ff" />
<rect x="564.53" y="587.60" width="9.59" height="9.60" fill="#0061ff" />
<rect x="573.52" y="587.60" width="9.59" height="9.60" fill="#00b2ff" />
<rect x="582.51" y="587.60" width="9.59" height="9.60" fill="#00ffff" />
<rect x="591.50" y="587.60" width="9.59" height="9.60" fill="#ffbd00" />
<rect x="600.49" y="587.60" width="9.59" height="9.60" fill="#ff0000" />
<rect x="609.48" y="587.60" width="9.59" height="9.60" fill="#8f0000" />
<rect x="618.47" y="587.60" width="9.59" height="9.60" fill="#ff4200" />
<rect x="411.70" y="596.60" width="9.59" height="9.60" fill="#0061ff" />
<rect x="420.69" y="596.60" width="9.59" height="9.60" fill="#00b2ff" />
<rect x="429.68" y="596.60" width="9.59" height="9.60" fill="#0061ff" />
<rect x="438.67" y="596.60" width="9.59" height="9.60" fill="#00b2ff" />
<rect x="447.66" y="596.60" width="9.59" height="9.60" fill="#00b2ff" />
<rect x="456.65" y="596.60" width="9.59" height="9.60" fill="#0061ff" />
<rect x="510.59" y="596.60" width="9.59" height="9.60" fill="#0061ff" />
<rect x="519.58" y="596.60" width="9.59" height="9.60" fill="#0000f0" />
<rect x="528.57" y="596.60" width="9.59" height="9.60" fill="#00ffff" />
<rect x="537.56" y="596.60" width="9.59" height="9.60" fill="#0000f0" />
<rect x="546.55" y="596.60" width="9.59" height="9.60" fill="#0061ff" />
<rect x="555.54" y="596.60" width="9.59" height="9.60" fill="#0000f0" />
<rect x="564.53" y="596.60" width="9.59" height="9.60" fill="#0000f0" />
<rect x="573.52" y="596.60" width="9.59" height="9.60" fill="#00b2ff" />
<rect x="582.51" y="596.60" width="9.59" height="9.60" fill="#00ffff" />
<rect x="591.50" y="596.60" width="9.59" height="9.60" fill="#9eff61" />
<rect x="600.49" y="596.60" width="9.59" height="9.60" fill="#ff4200" />
<rect x="609.48" y="596.60" width="9.59" height="9.60" fill="#8f0000" />
<rect x="618.47" y="596.60" width="9.59" height="9.60" fill="#ff4200" />
<rect x="411.70" y="605.60" width="9.59" height="9.60" fill="#00ffff" />
<rect x="420.69" y="605.60" width="9.59" height="9.60" fill="#00ffff" />
<rect x="429.68" y="605.60" width="9.59" height="9.60" fill="#00ffff" />
<rect x="438.67" y="605.60" width="9.59" height="9.60" fill="#00b2ff" />
<rect x="447.66" y="605.60" width="9.59" height="9.60" fill="#0061ff" />
<rect x="501.60" y="605.60" width="9.59" height="9.60" fill="#0061ff" />
<rect x="510.59" y="605.60" width="9.59" height="9.60" fill="#0000f0" />
<rect x="519.58" y="605.60" width="9.59" height="9.60" fill="#0000f0" />
<rect x="528.57" y="605.60" width="9.59" height="9.60" fill="#0000f0" />
<rect x="537.56" y="605.60" width="9.59" height="9.60" fill="#0000f0" />
<rect x="546.55" y="605.60" width="9.59" height="9.60" fill="#0000f0" />
<rect x="555.54" y="605.60" width="9.59" height="9.60" fill="#0061ff" />
<rect x="564.53" y="605.60" width="9.59" height="9.60" fill="#00ffff" />
<rect x="573.52" y="605.60" width="9.59" height="9.60" fill="#00b2ff" />
<rect x="582.51" y="605.60" width="9.59" height="9.60" fill="#00ffff" />
<rect x="591.50" y="605.60" width="9.59" height="9.60" fill="#9eff61" />
<rect x="600.49" y="605.60" width="9.59" height="9.60" fill="#ff8000" />
<rect x="609.48" y="605.60" width="9.59" height="9.60" fill="#8f0000" />
<rect x="420.69" y="614.60" width="9.59" height="9.60" fill="#9eff61" />
<rect x="429.68" y="614.60" width="9.59" height="9.60" fill="#00b2ff" />
<rect x="438.67" y="614.60" width="9.59" height="9.60" fill="#0000f0" />
<rect x="492.61" y="614.60" width="9.59" height="9.60" fill="#0061ff" />
<rect x="501.60" y="614.60" width="9.59" height="9.60" fill="#0000f0" />
<rect x="510.59" y="614.60" width="9.59" height="9.60" fill="#0000f0" />
<rect x="519.58" y="614.60" width="9.59" height="9.60" fill="#0061ff" />
<rect x="528.57" y="614.60" width="9.59" height="9.60" fill="#0000f0" />
<rect x="537.56" y="614.60" width="9.59" height="9.60" fill="#00b2ff" />
<rect x="546.55" y="614.60" width="9.59" height="9.60" fill="#0000f0" />
<rect x="555.54" y="614.60" width="9.59" height="9.60" fill="#0061ff" />
<rect x="564.53" y="614.60" width="9.59" height="9.60" fill="#4dffb2" />
<rect x="573.52" y="614.60" width="9.59" height="9.60" fill="#00b2ff" />
<rect x="582.51" y="614.60" width="9.59" height="9.60" fill="#9eff61" />
<rect x="591.50" y="614.60" width="9.59" height="9.60" fill="#ffbd00" />
<rect x="600.49" y="614.60" width="9.59" height="9.60" fill="#ff4200" />
<rect x="609.48" y="614.60" width="9.59" height="9.60" fill="#ff8000" />
<rect x="618.47" y="614.60" width="9.59" height="9.60" fill="#00ffff" />
<rect x="627.46" y="614.60" width="9.59" height="9.60" fill="#4dffb2" />
<rect x="420.69" y="623.60" width="9.59" height="9.60" fill="#00ffff" />
<rect x="429.68" y="623.60" width="9.59" height="9.60" fill="#00b2ff" />
<rect x="483.62" y="623.60" width="9.59" height="9.60" fill="#0000f0" />
<rect x="492.61" y="623.60" width="9.59" height="9.60" fill="#0061ff" />
<rect x="501.60" y="623.60" width="9.59" height="9.60" fill="#0000f0" />
<rect x="510.59" y="623.60" width="9.59" height="9.60" fill="#0000f0" />
<rect x="519.58" y="623.60" width="9.59" height="9.60" fill="#000094" />
<rect x="528.57" y="623.60" width="9.59" height="9.60" fill="#0061ff" />
<rect x="537.56" y="623.60" width="9.59" height="9.60" fill="#0061ff" />
<rect x="546.55" y="623.60" width="9.59" height="9.60" fill="#00b2ff" />
<rect x="555.54" y="623.60" width="9.59" height="9.60" fill="#0000f0" />
<rect x="564.53" y="623.60" width="9.59" height="9.60" fill="#4dffb2" />
<rect x="573.52" y="623.60" width="9.59" height="9.60" fill="#4dffb2" />
<rect x="582.51" y="623.60" width="9.59" height="9.60" fill="#fff500" />
<rect x="591.50" y="623.60" width="9.59" height="9.60" fill="#4dffb2" />
<rect x="600.49" y="623.60" width="9.59" height="9.60" fill="#4dffb2" />
<rect x="609.48" y="623.60" width="9.59" height="9.60" fill="#00ffff" />
<rect x="618.47" y="623.60" width="9.59" height="9.60" fill="#0061ff" />
<rect x="627.46" y="623.60" width="9.59" height="9.60" fill="#9eff61" />
<rect x="636.45" y="623.60" width="9.59" height="9.60" fill="#00ffff" />
<rect x="420.69" y="632.60" width="9.59" height="9.60" fill="#4dffb2" />
<rect x="474.63" y="632.60" width="9.59" height="9.60" fill="#0000f0" />
<rect x="483.62" y="632.60" width="9.59" height="9.60" fill="#0000f0" />
<rect x="492.61" y="632.60" width="9.59" height="9.60" fill="#000094" />
<rect x="501.60" y="632.60" width="9.59" height="9.60" fill="#0061ff" />
<rect x="510.59" y="632.60" width="9.59" height="9.60" fill="#0000f0" />
<rect x="519.58" y="632.60" width="9.59" height="9.60" fill="#0000f0" />
<rect x="528.57" y="632.60" width="9.59" height="9.60" fill="#0000f0" />
<rect x="537.56" y="632.60" width="9.59" height="9.60" fill="#0000f0" />
<rect x="546.55" y="632.60" width="9.59" height="9.60" fill="#00b2ff" />
<rect x="555.54" y="632.60" width="9.59" height="9.60" fill="#00b2ff" />
<rect x="564.53" y="632.60" width="9.59" height="9.60" fill="#00b2ff" />
<rect x="573.52" y="632.60" width="9.59" height="9.60" fill="#00ffff" />
<rect x="582.51" y="632.60" width="9.59" height="9.60" fill="#9eff61" />
<rect x="591.50" y="632.60" width="9.59" height="9.60" fill="#9eff61" />
<rect x="600.49" y="632.60" width="9.59" height="9.60" fill="#4dffb2" />
<rect x="609.48" y="632.60" width="9.59" height="9.60" fill="#00ffff" />
<rect x="618.47" y="632.60" width="9.59" height="9.60" fill="#4dffb2" />
<rect x="627.46" y="632.60" width="9.59" height="9.60" fill="#00ffff" />
<rect x="636.45" y="632.60" width="9.59" height="9.60" fill="#0061ff" />
<rect x="411.70" y="641.60" width="9.59" height="9.60" fill="#0061ff" />
<rect x="465.64" y="641.60" width="9.59" height="9.60" fill="#0000f0" />
<rect x="474.63" y="641.60" width="9.59" height="9.60" fill="#0000f0" />
<rect x="483.62" y="641.60" width="9.59" height="9.60" fill="#0000f0" />
<rect x="492.61" y="641.60" width="9.59" height="9.60" fill="#000094" />
<rect x="501.60" y="641.60" width="9.59" height="9.60" fill="#0000f0" />
<rect x="510.59" y="641.60" width="9.59" height="9.60" fill="#0000f0" />
<rect x="519.58" y="641.60" width="9.59" height="9.60" fill="#0000f0" />
<rect x="528.57" y="641.60" width="9.59" height="9.60" fill="#00b2ff" />
<rect x="537.56" y="641.60" width="9.59" height="9.60" fill="#0000f0" />
<rect x="546.55" y="641.60" width="9.59" height="9.60" fill="#000094" />
<rect x="555.54" y="641.60" width="9.59" height="9.60" fill="#0061ff" />
<rect x="564.53" y="641.60" width="9.59" height="9.60" fill="#00b2ff" />
<rect x="573.52" y="641.60" width="9.59" height="9.60" fill="#00b2ff" />
<rect x="582.51" y="641.60" width="9.59" height="9.60" fill="#00ffff" />
<rect x="591.50" y="641.60" width="9.59" height="9.60" fill="#00ffff" />
<rect x="600.49" y="641.60" width="9.59" height="9.60" fill="#00b2ff" />
<rect x="609.48" y="641.60" width="9.59" height="9.60" fill="#00ffff" />
<rect x="618.47" y="641.60" width="9.59" height="9.60" fill="#0061ff" />
<rect x="627.46" y="641.60" width="9.59" height="9.60" fill="#00ffff" />
<rect x="636.45" y="641.60" width="9.59" height="9.60" fill="#4dffb2" />
<rect x="456.65" y="650.60" width="9.59" height="9.60" fill="#0000f0" />
<rect x="465.64" y="650.60" width="9.59" height="9.60" fill="#0000f0" />
<rect x="474.63" y="650.60" width="9.59" height="9.60" fill="#000094" />
<rect x="483.62" y="650.60" width="9.59" height="9.60" fill="#000094" />
<rect x="492.61" y="650.60" width="9.59" height="9.60" fill="#000094" />
<rect x="501.60" y="650.60" width="9.59" height="9.60" fill="#000094" />
<rect x="510.59" y="650.60" width="9.59" height="9.60" fill="#0000f0" />
<rect x="519.58" y="650.60" width="9.59" height="9.60" fill="#0061ff" />
<rect x="528.57" y="650.60" width="9.59" height="9.60" fill="#00b2ff" />
<rect x="537.56" y="650.60" width="9.59" height="9.60" fill="#00b2ff" />
<rect x="546.55" y="650.60" width="9.59" height="9.60" fill="#0061ff" />
<rect x="555.54" y="650.60" width="9.59" height="9.60" fill="#0061ff" />
<rect x="564.53" y="650.60" width="9.59" height="9.60" fill="#00b2ff" />
<rect x="573.52" y="650.60" width="9.59" height="9.60" fill="#0061ff" />
<rect x="582.51" y="650.60" width="9.59" height="9.60" fill="#00ffff" />
<rect x="591.50" y="650.60" width="9.59" height="9.60" fill="#00ffff" />
<rect x="600.49" y="650.60" width="9.59" height="9.60" fill="#4dffb2" />
<rect x="609.48" y="650.60" width="9.59" height="9.60" fill="#00ffff" />
<rect x="618.47" y="650.60" width="9.59" height="9.60" fill="#0061ff" />
<rect x="627.46" y="650.60" width="9.59" height="9.60" fill="#00b2ff" />
<rect x="636.45" y="650.60" width="9.59" height="9.60" fill="#0061ff" />
<rect x="447.66" y="659.60" width="9.59" height="9.60" fill="#0000f0" />
<rect x="456.65" y="659.60" width="9.59" height="9.60" fill="#0000f0" />
<rect x="465.64" y="659.60" width="9.59" height="9.60" fill="#0000f0" />
<rect x="474.63" y="659.60" width="9.59" height="9.60" fill="#0000f0" />
<rect x="483.62" y="659.60" width="9.59" height="9.60" fill="#0000f0" />
<rect x="492.61" y="659.60" width="9.59" height="9.60" fill="#0000f0" />
<rect x="501.60" y="659.60" width="9.59" height="9.60" fill="#000094" />
<rect x="510.59" y="659.60" width="9.59" height="9.60" fill="#0000f0" />
<rect x="519.58" y="659.60" width="9.59" height="9.60" fill="#0061ff" />
<rect x="528.57" y="659.60" width="9.59" height="9.60" fill="#0061ff" />
<rect x="537.56" y="659.60" width="9.59" height="9.60" fill="#000094" />
<rect x="546.55" y="659.60" width="9.59" height="9.60" fill="#0061ff" />
<rect x="555.54" y="659.60" width="9.59" height="9.60" fill="#0061ff" />
<rect x="564.53" y="659.60" width="9.59" height="9.60" fill="#00b2ff" />
<rect x="573.52" y="659.60" width="9.59" height="9.60" fill="#00ffff" />
<rect x="582.51" y="659.60" width="9.59" height="9.60" fill="#00ffff" />
<rect x="591.50" y="659.60" width="9.59" height="9.60" fill="#00b2ff" />
<rect x="600.49" y="659.60" width="9.59" height="9.60" fill="#00b2ff" />
<rect x="609.48" y="659.60" width="9.59" height="9.60" fill="#0061ff" />
<rect x="618.47" y="659.60" width="9.59" height="9.60" fill="#0061ff" />
<rect x="627.46" y="659.60" width="9.59" height="9.60" fill="#00b2ff" />
<rect x="636.45" y="659.60" width="9.59" height="9.60" fill="#00ffff" />
<rect x="438.67" y="668.60" width="9.59" height="9.60" fill="#0000f0" />
<rect x="447.66" y="668.60" width="9.59" height="9.60" fill="#0000f0" />
<rect x="456.65" y="668.60" width="9.59" height="9.60" fill="#0000f0" />
<rect x="465.64" y="668.60" width="9.59" height="9.60" fill="#0000f0" />
<rect x="474.63" y="668.60" width="9.59" height="9.60" fill="#000094" />
<rect x="483.62" y="668.60" width="9.59" height="9.60" fill="#0000f0" />
<rect x="492.61" y="668.60" width="9.59" height="9.60" fill="#0000f0" />
<rect x="501.60" y="668.60" width="9.59" height="9.60" fill="#0000f0" />
<rect x="510.59" y="668.60" width="9.59" height="9.60" fill="#0000f0" />
<rect x="519.58" y="668.60" width="9.59" height="9.60" fill="#0061ff" />
<rect x="528.57" y="668.60" width="9.59" height="9.60" fill="#0061ff" />
<rect x="537.56" y="668.60" width="9.59" height="9.60" fill="#00b2ff" />
<rect x="546.55" y="668.60" width="9.59" height="9.60" fill="#00b2ff" />
<rect x="555.54" y="668.60" width="9.59" height="9.60" fill="#00b2ff" />
<rect x="564.53" y="668.60" width="9.59" height="9.60" fill="#00b2ff" />
<rect x="573.52" y="668.60" width="9.59" height="9.60" fill="#0000f0" />
<rect x="582.51" y="668.60" width="9.59" height="9.60" fill="#0061ff" />
<rect x="591.50" y="668.60" width="9.59" height="9.60" fill="#00b2ff" />
<rect x="600.49" y="668.60" width="9.59" height="9.60" fill="#00b2ff" />
<rect x="609.48" y="668.60" width="9.59" height="9.60" fill="#0061ff" />
<rect x="618.47" y="668.60" width="9.59" height="9.60" fill="#0000f0" />
<rect x="627.46" y="668.60" width="9.59" height="9.60" fill="#00ffff" />
<rect x="429.68" y="677.60" width="9.59" height="9.60" fill="#0000f0" />
<rect x="438.67" y="677.60" width="9.59" height="9.60" fill="#000094" />
<rect x="447.66" y="677.60" width="9.59" height="9.60" fill="#0000f0" />
<rect x="456.65" y="677.60" width="9.59" height="9.60" fill="#0000f0" />
<rect x="465.64" y="677.60" width="9.59" height="9.60" fill="#0000f0" />
<rect x="474.63" y="677.60" width="9.59" height="9.60" fill="#0000f0" />
<rect x="483.62" y="677.60" width="9.59" height="9.60" fill="#0000f0" />
<rect x="492.61" y="677.60" width="9.59" height="9.60" fill="#000094" />
<rect x="501.60" y="677.60" width="9.59" height="9.60" fill="#000094" />
<rect x="510.59" y="677.60" width="9.59" height="9.60" fill="#0000f0" />
<rect x="519.58" y="677.60" width="9.59" height="9.60" fill="#00b2ff" />
<rect x="528.57" y="677.60" width="9.59" height="9.60" fill="#00b2ff" />
<rect x="537.56" y="677.60" width="9.59" height="9.60" fill="#00b2ff" />
<rect x="546.55" y="677.60" width="9.59" height="9.60" fill="#0061ff" />
<rect x="555.54" y="677.60" width="9.59" height="9.60" fill="#00b2ff" />
<rect x="564.53" y="677.60" width="9.59" height="9.60" fill="#00b2ff" />
<rect x="573.52" y="677.60" width="9.59" height="9.60" fill="#0061ff" />
<rect x="582.51" y="677.60" width="9.59" height="9.60" fill="#00ffff" />
<rect x="591.50" y="677.60" width="9.59" height="9.60" fill="#00b2ff" />
<rect x="600.49" y="677.60" width="9.59" height="9.60" fill="#0061ff" />
<rect x="609.48" y="677.60" width="9.59" height="9.60" fill="#0061ff" />
<rect x="618.47" y="677.60" width="9.59" height="9.60" fill="#00ffff" />
<rect x="627.46" y="677.60" width="9.59" height="9.60" fill="#fff500" />
<rect x="420.69" y="686.60" width="9.59" height="9.60" fill="#000094" />
<rect x="429.68" y="686.60" width="9.59" height="9.60" fill="#0000f0" />
<rect x="438.67" y="686.60" width="9.59" height="9.60" fill="#0000f0" />
<rect x="447.66" y="686.60" width="9.59" height="9.60" fill="#0000f0" />
<rect x="456.65" y="686.60" width="9.59" height="9.60" fill="#0000f0" />
<rect x="465.64" y="686.60" width="9.59" height="9.60" fill="#0000f0" />
<rect x="474.63" y="686.60" width="9.59" height="9.60" fill="#0000f0" />
<rect x="483.62" y="686.60" width="9.59" height="9.60" fill="#0000f0" />
<rect x="492.61" y="686.60" width="9.59" height="9.60" fill="#0000f0" />
<rect x="501.60" y="686.60" width="9.59" height="9.60" fill="#0000f0" />
<rect x="510.59" y="686.60" width="9.59" height="9.60" fill="#0000f0" />
<rect x="519.58" y="686.60" width="9.59" height="9.60" fill="#0061ff" />
<rect x="528.57" y="686.60" width="9.59" height="9.60" fill="#0061ff" />
<rect x="537.56" y="686.60" width="9.59" height="9.60" fill="#00b2ff" />
<rect x="546.55" y="686.60" width="9.59" height="9.60" fill="#00b2ff" />
<rect x="555.54" y="686.60" width="9.59" height="9.60" fill="#0061ff" />
<rect x="564.53" y="686.60" width="9.59" height="9.60" fill="#00b2ff" />
<rect x="573.52" y="686.60" width="9.59" height="9.60" fill="#00b2ff" />
<rect x="582.51" y="686.60" width="9.59" height="9.60" fill="#00ffff" />
<rect x="591.50" y="686.60" width="9.59" height="9.60" fill="#00ffff" />
<rect x="600.49" y="686.60" width="9.59" height="9.60" fill="#00b2ff" />
<rect x="609.48" y="686.60" width="9.59" height="9.60" fill="#00b2ff" />
<rect x="618.47" y="686.60" width="9.59" height="9.60" fill="#0061ff" />
<rect x="627.46" y="686.60" width="9.59" height="9.60" fill="#00ffff" />
<rect x="411.70" y="695.60" width="9.59" height="9.60" fill="#000094" />
<rect x="420.69" y="695.60" width="9.59" height="9.60" fill="#000094" />
<rect x="429.68" y="695.60" width="9.59" height="9.60" fill="#0000f0" />
<rect x="438.67" y="695.60" width="9.59" height="9.60" fill="#0000f0" />
<rect x="447.66" y="695.60" width="9.59" height="9.60" fill="#0000f0" />
<rect x="456.65" y="695.60" width="9.59" height="9.60" fill="#0000f0" />
<rect x="465.64" y="695.60" width="9.59" height="9.60" fill="#0000f0" />
<rect x="474.63" y="695.60" width="9.59" height="9.60" fill="#0000f0" />
<rect x="483.62" y="695.60" width="9.59" height="9.60" fill="#0000f0" />
<rect x="492.61" y="695.60" width="9.59" height="9.60" fill="#0000f0" />
<rect x="501.60" y="695.60" width="9.59" height="9.60" fill="#0000f0" />
<rect x="510.59" y="695.60" width="9.59" height="9.60" fill="#00b2ff" />
<rect x="519.58" y="695.60" width="9.59" height="9.60" fill="#0061ff" />
<rect x="528.57" y="695.60" width="9.59" height="9.60" fill="#000094" />
<rect x="537.56" y="695.60" width="9.59" height="9.60" fill="#0000f0" />
<rect x="546.55" y="695.60" width="9.59" height="9.60" fill="#000094" />
<rect x="555.54" y="695.60" width="9.59" height="9.60" fill="#0061ff" />
<rect x="564.53" y="695.60" width="9.59" height="9.60" fill="#00ffff" />
<rect x="573.52" y="695.60" width="9.59" height="9.60" fill="#0000f0" />
<rect x="582.51" y="695.60" width="9.59" height="9.60" fill="#0061ff" />
<rect x="591.50" y="695.60" width="9.59" height="9.60" fill="#0061ff" />
<rect x="600.49" y="695.60" width="9.59" height="9.60" fill="#0061ff" />
<rect x="609.48" y="695.60" width="9.59" height="9.60" fill="#0000f0" />
<rect x="618.47" y="695.60" width="9.59" height="9.60" fill="#0061ff" />
<rect x="627.46" y="695.60" width="9.59" height="9.60" fill="#4dffb2" />
<rect x="636.45" y="695.60" width="9.59" height="9.60" fill="#0000f0" />
<line x1="645.40" y1="443.90" x2="412.60" y2="676.90" stroke="#000" stroke-width="1.6" stroke-dasharray="4.2,2.6"/>
<text x="415.59" y="413.40" font-size="9.0" fill="#1a1a1a" text-anchor="middle" font-weight="normal" font-style="normal" >7</text>
<text x="442.56" y="413.40" font-size="9.0" fill="#1a1a1a" text-anchor="middle" font-weight="normal" font-style="normal" >10</text>
<text x="487.51" y="413.40" font-size="9.0" fill="#1a1a1a" text-anchor="middle" font-weight="normal" font-style="normal" >15</text>
<text x="532.47" y="413.40" font-size="9.0" fill="#1a1a1a" text-anchor="middle" font-weight="normal" font-style="normal" >20</text>
<text x="577.41" y="413.40" font-size="9.0" fill="#1a1a1a" text-anchor="middle" font-weight="normal" font-style="normal" >25</text>
<text x="622.37" y="413.40" font-size="9.0" fill="#1a1a1a" text-anchor="middle" font-weight="normal" font-style="normal" >30</text>
<text x="640.34" y="413.40" font-size="9.0" fill="#1a1a1a" text-anchor="middle" font-weight="normal" font-style="normal" >32</text>
<text x="416.19" y="714.90" font-size="9.0" fill="#1a1a1a" text-anchor="middle" font-weight="normal" font-style="normal" >32</text>
<text x="434.18" y="714.90" font-size="9.0" fill="#1a1a1a" text-anchor="middle" font-weight="normal" font-style="normal" >30</text>
<text x="479.12" y="714.90" font-size="9.0" fill="#1a1a1a" text-anchor="middle" font-weight="normal" font-style="normal" >25</text>
<text x="524.08" y="714.90" font-size="9.0" fill="#1a1a1a" text-anchor="middle" font-weight="normal" font-style="normal" >20</text>
<text x="569.02" y="714.90" font-size="9.0" fill="#1a1a1a" text-anchor="middle" font-weight="normal" font-style="normal" >15</text>
<text x="613.98" y="714.90" font-size="9.0" fill="#1a1a1a" text-anchor="middle" font-weight="normal" font-style="normal" >10</text>
<text x="640.94" y="714.90" font-size="9.0" fill="#1a1a1a" text-anchor="middle" font-weight="normal" font-style="normal" >7</text>
<text x="416.00" y="399.20" font-size="11.25" fill="#1a1a1a" text-anchor="start" font-weight="normal" font-style="normal" >Duplex length [bp]</text>
<text x="545.70" y="729.70" font-size="11.25" fill="#1a1a1a" text-anchor="start" font-weight="normal" font-style="normal" >Duplex length [bp]</text>
<text x="404.85" y="424.40" font-size="9.3" fill="#8a8a8a" text-anchor="middle" font-weight="normal" font-style="normal" >C</text>
<text x="398.45" y="424.40" font-size="9.4" fill="#1a1a1a" text-anchor="end" font-weight="normal" font-style="normal" >−5</text>
<text x="404.85" y="433.40" font-size="9.3" fill="#8a8a8a" text-anchor="middle" font-weight="normal" font-style="normal" >A</text>
<text x="404.85" y="442.40" font-size="9.3" fill="#8a8a8a" text-anchor="middle" font-weight="normal" font-style="normal" >C</text>
<text x="404.85" y="451.40" font-size="9.3" fill="#8a8a8a" text-anchor="middle" font-weight="normal" font-style="normal" >T</text>
<text x="404.85" y="460.40" font-size="9.3" fill="#8a8a8a" text-anchor="middle" font-weight="normal" font-style="normal" >G</text>
<text x="398.45" y="460.40" font-size="9.4" fill="#1a1a1a" text-anchor="end" font-weight="normal" font-style="normal" >−1</text>
<text x="404.85" y="469.40" font-size="9.3" fill="#d2b48f" text-anchor="middle" font-weight="normal" font-style="normal" >A</text>
<text x="398.45" y="469.40" font-size="9.4" fill="#1a1a1a" text-anchor="end" font-weight="normal" font-style="normal" >1</text>
<text x="404.85" y="478.40" font-size="9.3" fill="#d2b48f" text-anchor="middle" font-weight="normal" font-style="normal" >C</text>
<text x="404.85" y="487.40" font-size="9.3" fill="#d2b48f" text-anchor="middle" font-weight="normal" font-style="normal" >C</text>
<text x="404.85" y="496.40" font-size="9.3" fill="#d2b48f" text-anchor="middle" font-weight="normal" font-style="normal" >T</text>
<text x="404.85" y="505.40" font-size="9.3" fill="#2ebf2e" text-anchor="middle" font-weight="normal" font-style="normal" >G</text>
<text x="398.45" y="505.40" font-size="9.4" fill="#1a1a1a" text-anchor="end" font-weight="normal" font-style="normal" >5</text>
<text x="404.85" y="514.40" font-size="9.3" fill="#2ebf2e" text-anchor="middle" font-weight="normal" font-style="normal" >G</text>
<text x="404.85" y="523.40" font-size="9.3" fill="#d2b48f" text-anchor="middle" font-weight="normal" font-style="normal" >G</text>
<text x="404.85" y="532.40" font-size="9.3" fill="#2e7a38" text-anchor="middle" font-weight="normal" font-style="normal" >G</text>
<text x="404.85" y="541.40" font-size="9.3" fill="#2e7a38" text-anchor="middle" font-weight="normal" font-style="normal" >G</text>
<text x="404.85" y="550.40" font-size="9.3" fill="#2e7a38" text-anchor="middle" font-weight="normal" font-style="normal" >A</text>
<text x="398.45" y="550.40" font-size="9.4" fill="#1a1a1a" text-anchor="end" font-weight="normal" font-style="normal" >10</text>
<text x="404.85" y="559.40" font-size="9.3" fill="#d2b48f" text-anchor="middle" font-weight="normal" font-style="normal" >G</text>
<text x="404.85" y="568.40" font-size="9.3" fill="#d2b48f" text-anchor="middle" font-weight="normal" font-style="normal" >T</text>
<text x="404.85" y="577.40" font-size="9.3" fill="#d2b48f" text-anchor="middle" font-weight="normal" font-style="normal" >A</text>
<text x="404.85" y="586.40" font-size="9.3" fill="#d2b48f" text-anchor="middle" font-weight="normal" font-style="normal" >T</text>
<text x="404.85" y="595.40" font-size="9.3" fill="#d2b48f" text-anchor="middle" font-weight="normal" font-style="normal" >T</text>
<text x="398.45" y="595.40" font-size="9.4" fill="#1a1a1a" text-anchor="end" font-weight="normal" font-style="normal" >15</text>
<text x="404.85" y="604.40" font-size="9.3" fill="#d2b48f" text-anchor="middle" font-weight="normal" font-style="normal" >G</text>
<text x="404.85" y="613.40" font-size="9.3" fill="#d2b48f" text-anchor="middle" font-weight="normal" font-style="normal" >C</text>
<text x="404.85" y="622.40" font-size="9.3" fill="#2e7a38" text-anchor="middle" font-weight="normal" font-style="normal" >G</text>
<text x="404.85" y="631.40" font-size="9.3" fill="#2e7a38" text-anchor="middle" font-weight="normal" font-style="normal" >G</text>
<text x="404.85" y="640.40" font-size="9.3" fill="#d2b48f" text-anchor="middle" font-weight="normal" font-style="normal" >A</text>
<text x="398.45" y="640.40" font-size="9.4" fill="#1a1a1a" text-anchor="end" font-weight="normal" font-style="normal" >20</text>
<text x="404.85" y="649.40" font-size="9.3" fill="#2ebf2e" text-anchor="middle" font-weight="normal" font-style="normal" >G</text>
<text x="404.85" y="658.40" font-size="9.3" fill="#2ebf2e" text-anchor="middle" font-weight="normal" font-style="normal" >G</text>
<text x="404.85" y="667.40" font-size="9.3" fill="#2ebf2e" text-anchor="middle" font-weight="normal" font-style="normal" >A</text>
<text x="404.85" y="676.40" font-size="9.3" fill="#d2b48f" text-anchor="middle" font-weight="normal" font-style="normal" >A</text>
<text x="404.85" y="685.40" font-size="9.3" fill="#d2b48f" text-anchor="middle" font-weight="normal" font-style="normal" >G</text>
<text x="398.45" y="685.40" font-size="9.4" fill="#1a1a1a" text-anchor="end" font-weight="normal" font-style="normal" >25</text>
<text x="404.85" y="694.40" font-size="9.3" fill="#d2b48f" text-anchor="middle" font-weight="normal" font-style="normal" >G</text>
<text x="404.85" y="703.40" font-size="9.3" fill="#d2b48f" text-anchor="middle" font-weight="normal" font-style="normal" >T</text>
<text x="398.45" y="703.40" font-size="9.4" fill="#1a1a1a" text-anchor="end" font-weight="normal" font-style="normal" >27</text>
<text x="651.95" y="424.40" font-size="9.3" fill="#8a8a8a" text-anchor="middle" font-weight="normal" font-style="normal" >C</text>
<text x="658.90" y="424.40" font-size="9.4" fill="#1a1a1a" text-anchor="start" font-weight="normal" font-style="normal" >−5</text>
<text x="651.95" y="433.40" font-size="9.3" fill="#8a8a8a" text-anchor="middle" font-weight="normal" font-style="normal" >A</text>
<text x="651.95" y="442.40" font-size="9.3" fill="#8a8a8a" text-anchor="middle" font-weight="normal" font-style="normal" >C</text>
<text x="651.95" y="451.40" font-size="9.3" fill="#8a8a8a" text-anchor="middle" font-weight="normal" font-style="normal" >T</text>
<text x="651.95" y="460.40" font-size="9.3" fill="#8a8a8a" text-anchor="middle" font-weight="normal" font-style="normal" >G</text>
<text x="658.90" y="460.40" font-size="9.4" fill="#1a1a1a" text-anchor="start" font-weight="normal" font-style="normal" >−1</text>
<text x="651.95" y="469.40" font-size="9.3" fill="#d2b48f" text-anchor="middle" font-weight="normal" font-style="normal" >A</text>
<text x="658.90" y="469.40" font-size="9.4" fill="#1a1a1a" text-anchor="start" font-weight="normal" font-style="normal" >1</text>
<text x="651.95" y="478.40" font-size="9.3" fill="#d2b48f" text-anchor="middle" font-weight="normal" font-style="normal" >C</text>
<text x="651.95" y="487.40" font-size="9.3" fill="#d2b48f" text-anchor="middle" font-weight="normal" font-style="normal" >C</text>
<text x="651.95" y="496.40" font-size="9.3" fill="#d2b48f" text-anchor="middle" font-weight="normal" font-style="normal" >T</text>
<text x="651.95" y="505.40" font-size="9.3" fill="#2ebf2e" text-anchor="middle" font-weight="normal" font-style="normal" >G</text>
<text x="658.90" y="505.40" font-size="9.4" fill="#1a1a1a" text-anchor="start" font-weight="normal" font-style="normal" >5</text>
<text x="651.95" y="514.40" font-size="9.3" fill="#2ebf2e" text-anchor="middle" font-weight="normal" font-style="normal" >G</text>
<text x="651.95" y="523.40" font-size="9.3" fill="#d2b48f" text-anchor="middle" font-weight="normal" font-style="normal" >G</text>
<text x="651.95" y="532.40" font-size="9.3" fill="#2e7a38" text-anchor="middle" font-weight="normal" font-style="normal" >G</text>
<text x="651.95" y="541.40" font-size="9.3" fill="#2e7a38" text-anchor="middle" font-weight="normal" font-style="normal" >G</text>
<text x="651.95" y="550.40" font-size="9.3" fill="#2e7a38" text-anchor="middle" font-weight="normal" font-style="normal" >A</text>
<text x="658.90" y="550.40" font-size="9.4" fill="#1a1a1a" text-anchor="start" font-weight="normal" font-style="normal" >10</text>
<text x="651.95" y="559.40" font-size="9.3" fill="#d2b48f" text-anchor="middle" font-weight="normal" font-style="normal" >G</text>
<text x="651.95" y="568.40" font-size="9.3" fill="#d2b48f" text-anchor="middle" font-weight="normal" font-style="normal" >T</text>
<text x="651.95" y="577.40" font-size="9.3" fill="#d2b48f" text-anchor="middle" font-weight="normal" font-style="normal" >A</text>
<text x="651.95" y="586.40" font-size="9.3" fill="#d2b48f" text-anchor="middle" font-weight="normal" font-style="normal" >T</text>
<text x="651.95" y="595.40" font-size="9.3" fill="#d2b48f" text-anchor="middle" font-weight="normal" font-style="normal" >T</text>
<text x="658.90" y="595.40" font-size="9.4" fill="#1a1a1a" text-anchor="start" font-weight="normal" font-style="normal" >15</text>
<text x="651.95" y="604.40" font-size="9.3" fill="#d2b48f" text-anchor="middle" font-weight="normal" font-style="normal" >G</text>
<text x="651.95" y="613.40" font-size="9.3" fill="#d2b48f" text-anchor="middle" font-weight="normal" font-style="normal" >C</text>
<text x="651.95" y="622.40" font-size="9.3" fill="#2e7a38" text-anchor="middle" font-weight="normal" font-style="normal" >G</text>
<text x="651.95" y="631.40" font-size="9.3" fill="#2e7a38" text-anchor="middle" font-weight="normal" font-style="normal" >G</text>
<text x="651.95" y="640.40" font-size="9.3" fill="#d2b48f" text-anchor="middle" font-weight="normal" font-style="normal" >A</text>
<text x="658.90" y="640.40" font-size="9.4" fill="#1a1a1a" text-anchor="start" font-weight="normal" font-style="normal" >20</text>
<text x="651.95" y="649.40" font-size="9.3" fill="#2ebf2e" text-anchor="middle" font-weight="normal" font-style="normal" >G</text>
<text x="651.95" y="658.40" font-size="9.3" fill="#2ebf2e" text-anchor="middle" font-weight="normal" font-style="normal" >G</text>
<text x="651.95" y="667.40" font-size="9.3" fill="#2ebf2e" text-anchor="middle" font-weight="normal" font-style="normal" >A</text>
<text x="651.95" y="676.40" font-size="9.3" fill="#d2b48f" text-anchor="middle" font-weight="normal" font-style="normal" >A</text>
<text x="651.95" y="685.40" font-size="9.3" fill="#d2b48f" text-anchor="middle" font-weight="normal" font-style="normal" >G</text>
<text x="658.90" y="685.40" font-size="9.4" fill="#1a1a1a" text-anchor="start" font-weight="normal" font-style="normal" >25</text>
<text x="651.95" y="694.40" font-size="9.3" fill="#d2b48f" text-anchor="middle" font-weight="normal" font-style="normal" >G</text>
<text x="651.95" y="703.40" font-size="9.3" fill="#d2b48f" text-anchor="middle" font-weight="normal" font-style="normal" >T</text>
<text x="658.90" y="703.40" font-size="9.4" fill="#1a1a1a" text-anchor="start" font-weight="normal" font-style="normal" >27</text>
<text x="0" y="0" font-size="11.25" fill="#1a1a1a" text-anchor="middle" transform="translate(375.10,469.90) rotate(-90)" dominant-baseline="central">5′ Duplex start site</text>
<text x="0" y="0" font-size="11.25" fill="#1a1a1a" text-anchor="middle" transform="translate(677.50,654.00) rotate(-90)" dominant-baseline="central">3′ Duplex start site</text>
<rect x="577.55" y="393.80" width="49.70" height="8.10" fill="url(#jetg)" />
<text x="574.10" y="401.90" font-size="11.25" fill="#1a1a1a" text-anchor="end" font-weight="normal" font-style="normal" >0</text>
<text x="628.30" y="401.90" font-size="11.25" fill="#1a1a1a" text-anchor="start" font-weight="normal" font-style="normal" >0.5</text>
<text x="149.3" y="383.8" font-size="11.4" fill="#1a1a1a"><tspan font-style="italic">k</tspan><tspan font-size="8.8" dy="2.9">off</tspan><tspan dy="-2.9"> [h</tspan><tspan font-size="8.0" dy="-4.6">−1</tspan><tspan dy="4.6">]</tspan></text>
<text x="493.0" y="383.4" font-size="11.5" fill="#1a1a1a"><tspan font-style="italic">k</tspan><tspan font-size="10" dy="-1.8">*</tspan><tspan font-size="8.7" dy="5.4">off,10 mM</tspan><tspan dy="-3.6"> [h</tspan><tspan font-size="8.0" dy="-4.6">−1</tspan><tspan dy="4.6">]</tspan></text>
<rect x="38.30" y="817.50" width="7.70" height="9.60" fill="#000094" />
<rect x="38.30" y="826.50" width="7.70" height="9.60" fill="#0061ff" />
<rect x="38.30" y="835.50" width="7.70" height="9.60" fill="#00b2ff" />
<rect x="38.30" y="844.50" width="7.70" height="9.60" fill="#00ffff" />
<rect x="38.30" y="853.50" width="7.70" height="9.60" fill="#4dffb2" />
<rect x="38.30" y="862.50" width="7.70" height="9.60" fill="#9eff61" />
<rect x="38.30" y="871.50" width="7.70" height="9.60" fill="#4dffb2" />
<rect x="38.30" y="880.50" width="7.70" height="9.60" fill="#4dffb2" />
<rect x="38.30" y="889.50" width="7.70" height="9.60" fill="#00ffff" />
<rect x="38.30" y="898.50" width="7.70" height="9.60" fill="#4dffb2" />
<rect x="38.30" y="907.50" width="7.70" height="9.60" fill="#4dffb2" />
<rect x="38.30" y="916.50" width="7.70" height="9.60" fill="#4dffb2" />
<rect x="38.30" y="925.50" width="7.70" height="9.60" fill="#0061ff" />
<rect x="38.30" y="934.50" width="7.70" height="9.60" fill="#000094" />
<rect x="38.30" y="943.50" width="7.70" height="9.60" fill="#000094" />
<rect x="38.30" y="952.50" width="7.70" height="9.60" fill="#0061ff" />
<rect x="38.30" y="961.50" width="7.70" height="9.60" fill="#4dffb2" />
<rect x="38.30" y="970.50" width="7.70" height="9.60" fill="#4dffb2" />
<rect x="38.30" y="979.50" width="7.70" height="9.60" fill="#00ffff" />
<rect x="38.30" y="988.50" width="7.70" height="9.60" fill="#00b2ff" />
<rect x="38.30" y="997.50" width="7.70" height="9.60" fill="#00b2ff" />
<rect x="38.30" y="1006.50" width="7.70" height="9.60" fill="#0061ff" />
<rect x="46.00" y="817.50" width="9.60" height="9.60" fill="#0061ff" />
<rect x="55.00" y="817.50" width="9.60" height="9.60" fill="#00b2ff" />
<rect x="64.00" y="817.50" width="9.60" height="9.60" fill="#00ffff" />
<rect x="73.00" y="817.50" width="9.60" height="9.60" fill="#0061ff" />
<rect x="82.00" y="817.50" width="9.60" height="9.60" fill="#00b2ff" />
<rect x="91.00" y="817.50" width="9.60" height="9.60" fill="#00ffff" />
<rect x="100.00" y="817.50" width="9.60" height="9.60" fill="#00ffff" />
<rect x="109.00" y="817.50" width="9.60" height="9.60" fill="#0061ff" />
<rect x="118.00" y="817.50" width="9.60" height="9.60" fill="#0000f0" />
<rect x="127.00" y="817.50" width="9.60" height="9.60" fill="#000094" />
<rect x="136.00" y="817.50" width="9.60" height="9.60" fill="#000094" />
<rect x="145.00" y="817.50" width="9.60" height="9.60" fill="#0000f0" />
<rect x="55.00" y="826.50" width="9.60" height="9.60" fill="#00b2ff" />
<rect x="64.00" y="826.50" width="9.60" height="9.60" fill="#4dffb2" />
<rect x="73.00" y="826.50" width="9.60" height="9.60" fill="#00ffff" />
<rect x="82.00" y="826.50" width="9.60" height="9.60" fill="#00ffff" />
<rect x="91.00" y="826.50" width="9.60" height="9.60" fill="#00b2ff" />
<rect x="100.00" y="826.50" width="9.60" height="9.60" fill="#9eff61" />
<rect x="109.00" y="826.50" width="9.60" height="9.60" fill="#00ffff" />
<rect x="118.00" y="826.50" width="9.60" height="9.60" fill="#00b2ff" />
<rect x="127.00" y="826.50" width="9.60" height="9.60" fill="#0061ff" />
<rect x="136.00" y="826.50" width="9.60" height="9.60" fill="#00b2ff" />
<rect x="145.00" y="826.50" width="9.60" height="9.60" fill="#00ffff" />
<rect x="154.00" y="826.50" width="9.60" height="9.60" fill="#00b2ff" />
<rect x="64.00" y="835.50" width="9.60" height="9.60" fill="#4dffb2" />
<rect x="73.00" y="835.50" width="9.60" height="9.60" fill="#9eff61" />
<rect x="82.00" y="835.50" width="9.60" height="9.60" fill="#4dffb2" />
<rect x="91.00" y="835.50" width="9.60" height="9.60" fill="#00b2ff" />
<rect x="100.00" y="835.50" width="9.60" height="9.60" fill="#0061ff" />
<rect x="109.00" y="835.50" width="9.60" height="9.60" fill="#00b2ff" />
<rect x="118.00" y="835.50" width="9.60" height="9.60" fill="#4dffb2" />
<rect x="127.00" y="835.50" width="9.60" height="9.60" fill="#00ffff" />
<rect x="136.00" y="835.50" width="9.60" height="9.60" fill="#4dffb2" />
<rect x="145.00" y="835.50" width="9.60" height="9.60" fill="#9eff61" />
<rect x="154.00" y="835.50" width="9.60" height="9.60" fill="#4dffb2" />
<rect x="163.00" y="835.50" width="9.60" height="9.60" fill="#4dffb2" />
<rect x="73.00" y="844.50" width="9.60" height="9.60" fill="#4dffb2" />
<rect x="82.00" y="844.50" width="9.60" height="9.60" fill="#00b2ff" />
<rect x="91.00" y="844.50" width="9.60" height="9.60" fill="#0061ff" />
<rect x="100.00" y="844.50" width="9.60" height="9.60" fill="#4dffb2" />
<rect x="109.00" y="844.50" width="9.60" height="9.60" fill="#00ffff" />
<rect x="118.00" y="844.50" width="9.60" height="9.60" fill="#00ffff" />
<rect x="127.00" y="844.50" width="9.60" height="9.60" fill="#00b2ff" />
<rect x="136.00" y="844.50" width="9.60" height="9.60" fill="#4dffb2" />
<rect x="145.00" y="844.50" width="9.60" height="9.60" fill="#fff500" />
<rect x="154.00" y="844.50" width="9.60" height="9.60" fill="#9eff61" />
<rect x="163.00" y="844.50" width="9.60" height="9.60" fill="#4dffb2" />
<rect x="172.00" y="844.50" width="9.60" height="9.60" fill="#4dffb2" />
<rect x="82.00" y="853.50" width="9.60" height="9.60" fill="#9eff61" />
<rect x="91.00" y="853.50" width="9.60" height="9.60" fill="#fff500" />
<rect x="100.00" y="853.50" width="9.60" height="9.60" fill="#4dffb2" />
<rect x="109.00" y="853.50" width="9.60" height="9.60" fill="#00ffff" />
<rect x="118.00" y="853.50" width="9.60" height="9.60" fill="#00ffff" />
<rect x="127.00" y="853.50" width="9.60" height="9.60" fill="#00ffff" />
<rect x="136.00" y="853.50" width="9.60" height="9.60" fill="#4dffb2" />
<rect x="145.00" y="853.50" width="9.60" height="9.60" fill="#ffbd00" />
<rect x="154.00" y="853.50" width="9.60" height="9.60" fill="#fff500" />
<rect x="163.00" y="853.50" width="9.60" height="9.60" fill="#9eff61" />
<rect x="172.00" y="853.50" width="9.60" height="9.60" fill="#00ffff" />
<rect x="181.00" y="853.50" width="9.60" height="9.60" fill="#9eff61" />
<rect x="91.00" y="862.50" width="9.60" height="9.60" fill="#fff500" />
<rect x="100.00" y="862.50" width="9.60" height="9.60" fill="#00b2ff" />
<rect x="109.00" y="862.50" width="9.60" height="9.60" fill="#00ffff" />
<rect x="118.00" y="862.50" width="9.60" height="9.60" fill="#4dffb2" />
<rect x="127.00" y="862.50" width="9.60" height="9.60" fill="#0061ff" />
<rect x="136.00" y="862.50" width="9.60" height="9.60" fill="#00ffff" />
<rect x="145.00" y="862.50" width="9.60" height="9.60" fill="#4dffb2" />
<rect x="154.00" y="862.50" width="9.60" height="9.60" fill="#9eff61" />
<rect x="163.00" y="862.50" width="9.60" height="9.60" fill="#9eff61" />
<rect x="172.00" y="862.50" width="9.60" height="9.60" fill="#9eff61" />
<rect x="181.00" y="862.50" width="9.60" height="9.60" fill="#ffbd00" />
<rect x="190.00" y="862.50" width="9.60" height="9.60" fill="#4dffb2" />
<rect x="100.00" y="871.50" width="9.60" height="9.60" fill="#4dffb2" />
<rect x="109.00" y="871.50" width="9.60" height="9.60" fill="#00b2ff" />
<rect x="118.00" y="871.50" width="9.60" height="9.60" fill="#00ffff" />
<rect x="127.00" y="871.50" width="9.60" height="9.60" fill="#00b2ff" />
<rect x="136.00" y="871.50" width="9.60" height="9.60" fill="#00b2ff" />
<rect x="145.00" y="871.50" width="9.60" height="9.60" fill="#00ffff" />
<rect x="154.00" y="871.50" width="9.60" height="9.60" fill="#4dffb2" />
<rect x="163.00" y="871.50" width="9.60" height="9.60" fill="#ffbd00" />
<rect x="172.00" y="871.50" width="9.60" height="9.60" fill="#4dffb2" />
<rect x="181.00" y="871.50" width="9.60" height="9.60" fill="#9eff61" />
<rect x="190.00" y="871.50" width="9.60" height="9.60" fill="#fff500" />
<rect x="199.00" y="871.50" width="9.60" height="9.60" fill="#fff500" />
<rect x="109.00" y="880.50" width="9.60" height="9.60" fill="#00b2ff" />
<rect x="118.00" y="880.50" width="9.60" height="9.60" fill="#4dffb2" />
<rect x="127.00" y="880.50" width="9.60" height="9.60" fill="#0061ff" />
<rect x="136.00" y="880.50" width="9.60" height="9.60" fill="#0061ff" />
<rect x="145.00" y="880.50" width="9.60" height="9.60" fill="#4dffb2" />
<rect x="154.00" y="880.50" width="9.60" height="9.60" fill="#00ffff" />
<rect x="163.00" y="880.50" width="9.60" height="9.60" fill="#9eff61" />
<rect x="172.00" y="880.50" width="9.60" height="9.60" fill="#4dffb2" />
<rect x="181.00" y="880.50" width="9.60" height="9.60" fill="#00ffff" />
<rect x="190.00" y="880.50" width="9.60" height="9.60" fill="#4dffb2" />
<rect x="199.00" y="880.50" width="9.60" height="9.60" fill="#00ffff" />
<rect x="208.00" y="880.50" width="9.60" height="9.60" fill="#4dffb2" />
<rect x="118.00" y="889.50" width="9.60" height="9.60" fill="#4dffb2" />
<rect x="127.00" y="889.50" width="9.60" height="9.60" fill="#0061ff" />
<rect x="136.00" y="889.50" width="9.60" height="9.60" fill="#0061ff" />
<rect x="145.00" y="889.50" width="9.60" height="9.60" fill="#00ffff" />
<rect x="154.00" y="889.50" width="9.60" height="9.60" fill="#00ffff" />
<rect x="163.00" y="889.50" width="9.60" height="9.60" fill="#9eff61" />
<rect x="172.00" y="889.50" width="9.60" height="9.60" fill="#0000f0" />
<rect x="181.00" y="889.50" width="9.60" height="9.60" fill="#9eff61" />
<rect x="190.00" y="889.50" width="9.60" height="9.60" fill="#4dffb2" />
<rect x="199.00" y="889.50" width="9.60" height="9.60" fill="#0000f0" />
<rect x="208.00" y="889.50" width="9.60" height="9.60" fill="#00b2ff" />
<rect x="217.00" y="889.50" width="9.60" height="9.60" fill="#00b2ff" />
<rect x="127.00" y="898.50" width="9.60" height="9.60" fill="#9eff61" />
<rect x="136.00" y="898.50" width="9.60" height="9.60" fill="#9eff61" />
<rect x="145.00" y="898.50" width="9.60" height="9.60" fill="#4dffb2" />
<rect x="154.00" y="898.50" width="9.60" height="9.60" fill="#ffbd00" />
<rect x="163.00" y="898.50" width="9.60" height="9.60" fill="#fff500" />
<rect x="172.00" y="898.50" width="9.60" height="9.60" fill="#fff500" />
<rect x="181.00" y="898.50" width="9.60" height="9.60" fill="#ff8000" />
<rect x="190.00" y="898.50" width="9.60" height="9.60" fill="#fff500" />
<rect x="199.00" y="898.50" width="9.60" height="9.60" fill="#4dffb2" />
<rect x="208.00" y="898.50" width="9.60" height="9.60" fill="#00b2ff" />
<rect x="217.00" y="898.50" width="9.60" height="9.60" fill="#ffbd00" />
<rect x="226.00" y="898.50" width="9.60" height="9.60" fill="#4dffb2" />
<rect x="136.00" y="907.50" width="9.60" height="9.60" fill="#00ffff" />
<rect x="145.00" y="907.50" width="9.60" height="9.60" fill="#00b2ff" />
<rect x="154.00" y="907.50" width="9.60" height="9.60" fill="#00ffff" />
<rect x="163.00" y="907.50" width="9.60" height="9.60" fill="#00ffff" />
<rect x="172.00" y="907.50" width="9.60" height="9.60" fill="#0061ff" />
<rect x="181.00" y="907.50" width="9.60" height="9.60" fill="#00ffff" />
<rect x="190.00" y="907.50" width="9.60" height="9.60" fill="#0000f0" />
<rect x="199.00" y="907.50" width="9.60" height="9.60" fill="#00b2ff" />
<rect x="208.00" y="907.50" width="9.60" height="9.60" fill="#00ffff" />
<rect x="217.00" y="907.50" width="9.60" height="9.60" fill="#00ffff" />
<rect x="226.00" y="907.50" width="9.60" height="9.60" fill="#00ffff" />
<rect x="235.00" y="907.50" width="9.60" height="9.60" fill="#00b2ff" />
<rect x="145.00" y="916.50" width="9.60" height="9.60" fill="#00b2ff" />
<rect x="154.00" y="916.50" width="9.60" height="9.60" fill="#0000f0" />
<rect x="163.00" y="916.50" width="9.60" height="9.60" fill="#000094" />
<rect x="172.00" y="916.50" width="9.60" height="9.60" fill="#000094" />
<rect x="181.00" y="916.50" width="9.60" height="9.60" fill="#00ffff" />
<rect x="190.00" y="916.50" width="9.60" height="9.60" fill="#0061ff" />
<rect x="199.00" y="916.50" width="9.60" height="9.60" fill="#00b2ff" />
<rect x="208.00" y="916.50" width="9.60" height="9.60" fill="#0000f0" />
<rect x="217.00" y="916.50" width="9.60" height="9.60" fill="#0000f0" />
<rect x="226.00" y="916.50" width="9.60" height="9.60" fill="#00ffff" />
<rect x="235.00" y="916.50" width="9.60" height="9.60" fill="#0061ff" />
<rect x="244.00" y="916.50" width="9.60" height="9.60" fill="#4dffb2" />
<rect x="154.00" y="925.50" width="9.60" height="9.60" fill="#000094" />
<rect x="163.00" y="925.50" width="9.60" height="9.60" fill="#000094" />
<rect x="172.00" y="925.50" width="9.60" height="9.60" fill="#000094" />
<rect x="181.00" y="925.50" width="9.60" height="9.60" fill="#000094" />
<rect x="190.00" y="925.50" width="9.60" height="9.60" fill="#000094" />
<rect x="199.00" y="925.50" width="9.60" height="9.60" fill="#0000f0" />
<rect x="208.00" y="925.50" width="9.60" height="9.60" fill="#0000f0" />
<rect x="217.00" y="925.50" width="9.60" height="9.60" fill="#0000f0" />
<rect x="226.00" y="925.50" width="9.60" height="9.60" fill="#0061ff" />
<rect x="235.00" y="925.50" width="9.60" height="9.60" fill="#000094" />
<rect x="244.00" y="925.50" width="9.60" height="9.60" fill="#00b2ff" />
<rect x="253.00" y="925.50" width="9.60" height="9.60" fill="#000094" />
<rect x="163.00" y="934.50" width="9.60" height="9.60" fill="#000094" />
<rect x="172.00" y="934.50" width="9.60" height="9.60" fill="#000094" />
<rect x="181.00" y="934.50" width="9.60" height="9.60" fill="#000094" />
<rect x="190.00" y="934.50" width="9.60" height="9.60" fill="#000094" />
<rect x="199.00" y="934.50" width="9.60" height="9.60" fill="#0000f0" />
<rect x="208.00" y="934.50" width="9.60" height="9.60" fill="#000094" />
<rect x="217.00" y="934.50" width="9.60" height="9.60" fill="#000094" />
<rect x="226.00" y="934.50" width="9.60" height="9.60" fill="#0061ff" />
<rect x="244.00" y="934.50" width="9.60" height="9.60" fill="#0061ff" />
<rect x="253.00" y="934.50" width="9.60" height="9.60" fill="#000094" />
<rect x="262.00" y="934.50" width="9.60" height="9.60" fill="#000094" />
<rect x="172.00" y="943.50" width="9.60" height="9.60" fill="#0000f0" />
<rect x="181.00" y="943.50" width="9.60" height="9.60" fill="#0000f0" />
<rect x="190.00" y="943.50" width="9.60" height="9.60" fill="#000094" />
<rect x="199.00" y="943.50" width="9.60" height="9.60" fill="#000094" />
<rect x="208.00" y="943.50" width="9.60" height="9.60" fill="#000094" />
<rect x="217.00" y="943.50" width="9.60" height="9.60" fill="#000094" />
<rect x="226.00" y="943.50" width="9.60" height="9.60" fill="#000094" />
<rect x="235.00" y="943.50" width="9.60" height="9.60" fill="#4dffb2" />
<rect x="244.00" y="943.50" width="9.60" height="9.60" fill="#000094" />
<rect x="253.00" y="943.50" width="9.60" height="9.60" fill="#000094" />
<rect x="262.00" y="943.50" width="9.60" height="9.60" fill="#000094" />
<rect x="271.00" y="943.50" width="9.60" height="9.60" fill="#000094" />
<rect x="181.00" y="952.50" width="9.60" height="9.60" fill="#0000f0" />
<rect x="190.00" y="952.50" width="9.60" height="9.60" fill="#0061ff" />
<rect x="199.00" y="952.50" width="9.60" height="9.60" fill="#0061ff" />
<rect x="208.00" y="952.50" width="9.60" height="9.60" fill="#000094" />
<rect x="217.00" y="952.50" width="9.60" height="9.60" fill="#000094" />
<rect x="226.00" y="952.50" width="9.60" height="9.60" fill="#0000f0" />
<rect x="235.00" y="952.50" width="9.60" height="9.60" fill="#000094" />
<rect x="244.00" y="952.50" width="9.60" height="9.60" fill="#000094" />
<rect x="253.00" y="952.50" width="9.60" height="9.60" fill="#000094" />
<rect x="262.00" y="952.50" width="9.60" height="9.60" fill="#000094" />
<rect x="271.00" y="952.50" width="9.60" height="9.60" fill="#000094" />
<rect x="280.00" y="952.50" width="9.60" height="9.60" fill="#000094" />
<rect x="190.00" y="961.50" width="9.60" height="9.60" fill="#00ffff" />
<rect x="199.00" y="961.50" width="9.60" height="9.60" fill="#00ffff" />
<rect x="208.00" y="961.50" width="9.60" height="9.60" fill="#000094" />
<rect x="217.00" y="961.50" width="9.60" height="9.60" fill="#000094" />
<rect x="226.00" y="961.50" width="9.60" height="9.60" fill="#0000f0" />
<rect x="235.00" y="961.50" width="9.60" height="9.60" fill="#00b2ff" />
<rect x="244.00" y="961.50" width="9.60" height="9.60" fill="#000094" />
<rect x="253.00" y="961.50" width="9.60" height="9.60" fill="#000094" />
<rect x="262.00" y="961.50" width="9.60" height="9.60" fill="#000094" />
<rect x="271.00" y="961.50" width="9.60" height="9.60" fill="#0061ff" />
<rect x="280.00" y="961.50" width="9.60" height="9.60" fill="#0000f0" />
<rect x="289.00" y="961.50" width="9.60" height="9.60" fill="#0000f0" />
<rect x="199.00" y="970.50" width="9.60" height="9.60" fill="#00ffff" />
<rect x="208.00" y="970.50" width="9.60" height="9.60" fill="#0061ff" />
<rect x="217.00" y="970.50" width="9.60" height="9.60" fill="#0061ff" />
<rect x="226.00" y="970.50" width="9.60" height="9.60" fill="#0000f0" />
<rect x="235.00" y="970.50" width="9.60" height="9.60" fill="#00b2ff" />
<rect x="244.00" y="970.50" width="9.60" height="9.60" fill="#000094" />
<rect x="253.00" y="970.50" width="9.60" height="9.60" fill="#4dffb2" />
<rect x="262.00" y="970.50" width="9.60" height="9.60" fill="#000094" />
<rect x="271.00" y="970.50" width="9.60" height="9.60" fill="#0000f0" />
<rect x="280.00" y="970.50" width="9.60" height="9.60" fill="#0061ff" />
<rect x="289.00" y="970.50" width="9.60" height="9.60" fill="#0061ff" />
<rect x="298.00" y="970.50" width="9.60" height="9.60" fill="#00b2ff" />
<rect x="208.00" y="979.50" width="9.60" height="9.60" fill="#4dffb2" />
<rect x="217.00" y="979.50" width="9.60" height="9.60" fill="#4dffb2" />
<rect x="226.00" y="979.50" width="9.60" height="9.60" fill="#0061ff" />
<rect x="235.00" y="979.50" width="9.60" height="9.60" fill="#0000f0" />
<rect x="244.00" y="979.50" width="9.60" height="9.60" fill="#00ffff" />
<rect x="253.00" y="979.50" width="9.60" height="9.60" fill="#00ffff" />
<rect x="262.00" y="979.50" width="9.60" height="9.60" fill="#0061ff" />
<rect x="271.00" y="979.50" width="9.60" height="9.60" fill="#9eff61" />
<rect x="280.00" y="979.50" width="9.60" height="9.60" fill="#9eff61" />
<rect x="289.00" y="979.50" width="9.60" height="9.60" fill="#00b2ff" />
<rect x="298.00" y="979.50" width="9.60" height="9.60" fill="#0061ff" />
<rect x="307.00" y="979.50" width="9.60" height="9.60" fill="#9eff61" />
<rect x="217.00" y="988.50" width="9.60" height="9.60" fill="#00b2ff" />
<rect x="226.00" y="988.50" width="9.60" height="9.60" fill="#0000f0" />
<rect x="235.00" y="988.50" width="9.60" height="9.60" fill="#0061ff" />
<rect x="244.00" y="988.50" width="9.60" height="9.60" fill="#000094" />
<rect x="253.00" y="988.50" width="9.60" height="9.60" fill="#00b2ff" />
<rect x="262.00" y="988.50" width="9.60" height="9.60" fill="#000094" />
<rect x="271.00" y="988.50" width="9.60" height="9.60" fill="#0061ff" />
<rect x="280.00" y="988.50" width="9.60" height="9.60" fill="#0061ff" />
<rect x="289.00" y="988.50" width="9.60" height="9.60" fill="#0000f0" />
<rect x="298.00" y="988.50" width="9.60" height="9.60" fill="#0061ff" />
<rect x="307.00" y="988.50" width="9.60" height="9.60" fill="#0061ff" />
<rect x="316.00" y="988.50" width="9.60" height="9.60" fill="#00b2ff" />
<rect x="226.00" y="997.50" width="9.60" height="9.60" fill="#0000f0" />
<rect x="235.00" y="997.50" width="9.60" height="9.60" fill="#0000f0" />
<rect x="244.00" y="997.50" width="9.60" height="9.60" fill="#0000f0" />
<rect x="253.00" y="997.50" width="9.60" height="9.60" fill="#00b2ff" />
<rect x="262.00" y="997.50" width="9.60" height="9.60" fill="#000094" />
<rect x="271.00" y="997.50" width="9.60" height="9.60" fill="#0000f0" />
<rect x="280.00" y="997.50" width="9.60" height="9.60" fill="#0000f0" />
<rect x="289.00" y="997.50" width="9.60" height="9.60" fill="#0000f0" />
<rect x="298.00" y="997.50" width="9.60" height="9.60" fill="#0061ff" />
<rect x="307.00" y="997.50" width="9.60" height="9.60" fill="#00b2ff" />
<rect x="316.00" y="997.50" width="9.60" height="9.60" fill="#00ffff" />
<rect x="325.00" y="997.50" width="9.60" height="9.60" fill="#0061ff" />
<text x="42.30" y="813.60" font-size="8.6" fill="#444" text-anchor="middle" font-weight="normal" font-style="normal" >–</text>
<text x="50.50" y="813.60" font-size="8.6" fill="#8a8a8a" text-anchor="middle" font-weight="normal" font-style="normal" >C</text>
<text x="59.50" y="813.60" font-size="8.6" fill="#8a8a8a" text-anchor="middle" font-weight="normal" font-style="normal" >A</text>
<text x="68.50" y="813.60" font-size="8.6" fill="#8a8a8a" text-anchor="middle" font-weight="normal" font-style="normal" >C</text>
<text x="77.50" y="813.60" font-size="8.6" fill="#8a8a8a" text-anchor="middle" font-weight="normal" font-style="normal" >T</text>
<text x="86.50" y="813.60" font-size="8.6" fill="#8a8a8a" text-anchor="middle" font-weight="normal" font-style="normal" >G</text>
<text x="95.50" y="813.60" font-size="8.6" fill="#d2b48f" text-anchor="middle" font-weight="normal" font-style="normal" >A</text>
<text x="104.50" y="813.60" font-size="8.6" fill="#d2b48f" text-anchor="middle" font-weight="normal" font-style="normal" >C</text>
<text x="113.50" y="813.60" font-size="8.6" fill="#d2b48f" text-anchor="middle" font-weight="normal" font-style="normal" >C</text>
<text x="122.50" y="813.60" font-size="8.6" fill="#d2b48f" text-anchor="middle" font-weight="normal" font-style="normal" >T</text>
<text x="131.50" y="813.60" font-size="8.6" fill="#2ebf2e" text-anchor="middle" font-weight="normal" font-style="normal" >G</text>
<text x="140.50" y="813.60" font-size="8.6" fill="#2ebf2e" text-anchor="middle" font-weight="normal" font-style="normal" >G</text>
<text x="149.50" y="813.60" font-size="8.6" fill="#d2b48f" text-anchor="middle" font-weight="normal" font-style="normal" >G</text>
<text x="158.50" y="813.60" font-size="8.6" fill="#2e7a38" text-anchor="middle" font-weight="normal" font-style="normal" >G</text>
<text x="167.50" y="813.60" font-size="8.6" fill="#2e7a38" text-anchor="middle" font-weight="normal" font-style="normal" >G</text>
<text x="176.50" y="813.60" font-size="8.6" fill="#2e7a38" text-anchor="middle" font-weight="normal" font-style="normal" >A</text>
<text x="185.50" y="813.60" font-size="8.6" fill="#d2b48f" text-anchor="middle" font-weight="normal" font-style="normal" >G</text>
<text x="194.50" y="813.60" font-size="8.6" fill="#d2b48f" text-anchor="middle" font-weight="normal" font-style="normal" >T</text>
<text x="203.50" y="813.60" font-size="8.6" fill="#d2b48f" text-anchor="middle" font-weight="normal" font-style="normal" >A</text>
<text x="212.50" y="813.60" font-size="8.6" fill="#d2b48f" text-anchor="middle" font-weight="normal" font-style="normal" >T</text>
<text x="221.50" y="813.60" font-size="8.6" fill="#d2b48f" text-anchor="middle" font-weight="normal" font-style="normal" >T</text>
<text x="230.50" y="813.60" font-size="8.6" fill="#d2b48f" text-anchor="middle" font-weight="normal" font-style="normal" >G</text>
<text x="239.50" y="813.60" font-size="8.6" fill="#d2b48f" text-anchor="middle" font-weight="normal" font-style="normal" >C</text>
<text x="248.50" y="813.60" font-size="8.6" fill="#2e7a38" text-anchor="middle" font-weight="normal" font-style="normal" >G</text>
<text x="257.50" y="813.60" font-size="8.6" fill="#2e7a38" text-anchor="middle" font-weight="normal" font-style="normal" >G</text>
<text x="266.50" y="813.60" font-size="8.6" fill="#d2b48f" text-anchor="middle" font-weight="normal" font-style="normal" >A</text>
<text x="275.50" y="813.60" font-size="8.6" fill="#2ebf2e" text-anchor="middle" font-weight="normal" font-style="normal" >G</text>
<text x="284.50" y="813.60" font-size="8.6" fill="#2ebf2e" text-anchor="middle" font-weight="normal" font-style="normal" >G</text>
<text x="293.50" y="813.60" font-size="8.6" fill="#2ebf2e" text-anchor="middle" font-weight="normal" font-style="normal" >A</text>
<text x="302.50" y="813.60" font-size="8.6" fill="#d2b48f" text-anchor="middle" font-weight="normal" font-style="normal" >A</text>
<text x="311.50" y="813.60" font-size="8.6" fill="#d2b48f" text-anchor="middle" font-weight="normal" font-style="normal" >G</text>
<text x="320.50" y="813.60" font-size="8.6" fill="#d2b48f" text-anchor="middle" font-weight="normal" font-style="normal" >G</text>
<text x="329.50" y="813.60" font-size="8.6" fill="#d2b48f" text-anchor="middle" font-weight="normal" font-style="normal" >T</text>
<text x="48.10" y="804.90" font-size="8.5" fill="#1a1a1a" text-anchor="middle" font-weight="normal" font-style="normal" >−5</text>
<text x="84.90" y="804.90" font-size="8.5" fill="#1a1a1a" text-anchor="middle" font-weight="normal" font-style="normal" >−1</text>
<text x="94.60" y="804.90" font-size="8.5" fill="#1a1a1a" text-anchor="middle" font-weight="normal" font-style="normal" >1</text>
<text x="130.50" y="804.90" font-size="8.5" fill="#1a1a1a" text-anchor="middle" font-weight="normal" font-style="normal" >5</text>
<text x="177.00" y="804.90" font-size="8.5" fill="#1a1a1a" text-anchor="middle" font-weight="normal" font-style="normal" >10</text>
<text x="221.50" y="804.90" font-size="8.5" fill="#1a1a1a" text-anchor="middle" font-weight="normal" font-style="normal" >15</text>
<text x="266.50" y="804.90" font-size="8.5" fill="#1a1a1a" text-anchor="middle" font-weight="normal" font-style="normal" >20</text>
<text x="311.50" y="804.90" font-size="8.5" fill="#1a1a1a" text-anchor="middle" font-weight="normal" font-style="normal" >25</text>
<text x="329.50" y="804.90" font-size="8.5" fill="#1a1a1a" text-anchor="middle" font-weight="normal" font-style="normal" >27</text>
<text x="41.70" y="792.90" font-size="11.25" fill="#1a1a1a" text-anchor="start" font-weight="normal" font-style="normal" >Mismatch location</text>
<text x="30.70" y="824.70" font-size="9.3" fill="#8a8a8a" text-anchor="middle" font-weight="normal" font-style="normal" >C</text>
<text x="25.60" y="824.70" font-size="9.4" fill="#1a1a1a" text-anchor="end" font-weight="normal" font-style="normal" >−5</text>
<text x="30.70" y="833.70" font-size="9.3" fill="#8a8a8a" text-anchor="middle" font-weight="normal" font-style="normal" >A</text>
<text x="30.70" y="842.70" font-size="9.3" fill="#8a8a8a" text-anchor="middle" font-weight="normal" font-style="normal" >C</text>
<text x="30.70" y="851.70" font-size="9.3" fill="#8a8a8a" text-anchor="middle" font-weight="normal" font-style="normal" >T</text>
<text x="30.70" y="860.70" font-size="9.3" fill="#8a8a8a" text-anchor="middle" font-weight="normal" font-style="normal" >G</text>
<text x="25.60" y="860.70" font-size="9.4" fill="#1a1a1a" text-anchor="end" font-weight="normal" font-style="normal" >−1</text>
<text x="30.70" y="869.70" font-size="9.3" fill="#d2b48f" text-anchor="middle" font-weight="normal" font-style="normal" >A</text>
<text x="25.60" y="869.70" font-size="9.4" fill="#1a1a1a" text-anchor="end" font-weight="normal" font-style="normal" >1</text>
<text x="30.70" y="878.70" font-size="9.3" fill="#d2b48f" text-anchor="middle" font-weight="normal" font-style="normal" >C</text>
<text x="30.70" y="887.70" font-size="9.3" fill="#d2b48f" text-anchor="middle" font-weight="normal" font-style="normal" >C</text>
<text x="30.70" y="896.70" font-size="9.3" fill="#d2b48f" text-anchor="middle" font-weight="normal" font-style="normal" >T</text>
<text x="30.70" y="905.70" font-size="9.3" fill="#2ebf2e" text-anchor="middle" font-weight="normal" font-style="normal" >G</text>
<text x="25.60" y="905.70" font-size="9.4" fill="#1a1a1a" text-anchor="end" font-weight="normal" font-style="normal" >5</text>
<text x="30.70" y="914.70" font-size="9.3" fill="#2ebf2e" text-anchor="middle" font-weight="normal" font-style="normal" >G</text>
<text x="30.70" y="923.70" font-size="9.3" fill="#d2b48f" text-anchor="middle" font-weight="normal" font-style="normal" >G</text>
<text x="30.70" y="932.70" font-size="9.3" fill="#2e7a38" text-anchor="middle" font-weight="normal" font-style="normal" >G</text>
<text x="30.70" y="941.70" font-size="9.3" fill="#2e7a38" text-anchor="middle" font-weight="normal" font-style="normal" >G</text>
<text x="30.70" y="950.70" font-size="9.3" fill="#2e7a38" text-anchor="middle" font-weight="normal" font-style="normal" >A</text>
<text x="25.60" y="950.70" font-size="9.4" fill="#1a1a1a" text-anchor="end" font-weight="normal" font-style="normal" >10</text>
<text x="30.70" y="959.70" font-size="9.3" fill="#d2b48f" text-anchor="middle" font-weight="normal" font-style="normal" >G</text>
<text x="30.70" y="968.70" font-size="9.3" fill="#d2b48f" text-anchor="middle" font-weight="normal" font-style="normal" >T</text>
<text x="30.70" y="977.70" font-size="9.3" fill="#d2b48f" text-anchor="middle" font-weight="normal" font-style="normal" >A</text>
<text x="30.70" y="986.70" font-size="9.3" fill="#d2b48f" text-anchor="middle" font-weight="normal" font-style="normal" >T</text>
<text x="30.70" y="995.70" font-size="9.3" fill="#d2b48f" text-anchor="middle" font-weight="normal" font-style="normal" >T</text>
<text x="25.60" y="995.70" font-size="9.4" fill="#1a1a1a" text-anchor="end" font-weight="normal" font-style="normal" >15</text>
<text x="30.70" y="1004.70" font-size="9.3" fill="#d2b48f" text-anchor="middle" font-weight="normal" font-style="normal" >G</text>
<text x="30.70" y="1013.70" font-size="9.3" fill="#d2b48f" text-anchor="middle" font-weight="normal" font-style="normal" >C</text>
<text x="30.70" y="1022.70" font-size="9.3" fill="#2e7a38" text-anchor="middle" font-weight="normal" font-style="normal" >G</text>
<text x="30.70" y="1031.70" font-size="9.3" fill="#2e7a38" text-anchor="middle" font-weight="normal" font-style="normal" >G</text>
<text x="30.70" y="1040.70" font-size="9.3" fill="#d2b48f" text-anchor="middle" font-weight="normal" font-style="normal" >A</text>
<text x="25.60" y="1040.70" font-size="9.4" fill="#1a1a1a" text-anchor="end" font-weight="normal" font-style="normal" >20</text>
<text x="30.70" y="1049.70" font-size="9.3" fill="#2ebf2e" text-anchor="middle" font-weight="normal" font-style="normal" >G</text>
<text x="30.70" y="1058.70" font-size="9.3" fill="#2ebf2e" text-anchor="middle" font-weight="normal" font-style="normal" >G</text>
<text x="30.70" y="1067.70" font-size="9.3" fill="#2ebf2e" text-anchor="middle" font-weight="normal" font-style="normal" >A</text>
<text x="30.70" y="1076.70" font-size="9.3" fill="#d2b48f" text-anchor="middle" font-weight="normal" font-style="normal" >A</text>
<text x="30.70" y="1085.70" font-size="9.3" fill="#d2b48f" text-anchor="middle" font-weight="normal" font-style="normal" >G</text>
<text x="25.60" y="1085.70" font-size="9.4" fill="#1a1a1a" text-anchor="end" font-weight="normal" font-style="normal" >25</text>
<text x="30.70" y="1094.70" font-size="9.3" fill="#d2b48f" text-anchor="middle" font-weight="normal" font-style="normal" >G</text>
<text x="30.70" y="1103.70" font-size="9.3" fill="#d2b48f" text-anchor="middle" font-weight="normal" font-style="normal" >T</text>
<text x="25.60" y="1103.70" font-size="9.4" fill="#1a1a1a" text-anchor="end" font-weight="normal" font-style="normal" >27</text>
<text x="0" y="0" font-size="11.85" fill="#1a1a1a" text-anchor="middle" transform="translate(7.20,869.00) rotate(-90)" dominant-baseline="central">5′ Duplex start site</text>
<text x="254.50" y="850.80" font-size="11.25" fill="#1a1a1a" text-anchor="middle" font-weight="normal" font-style="normal" >Single mismatched</text>
<text x="254.80" y="863.60" font-size="11.25" fill="#1a1a1a" text-anchor="middle" font-weight="normal" font-style="normal" >12-mers</text>
<rect x="208.00" y="907.50" width="27" height="27" fill="none" stroke="#000" stroke-width="1.5"/>
<rect x="385.10" y="817.50" width="7.90" height="9.60" fill="#0061ff" />
<rect x="385.10" y="826.50" width="7.90" height="9.60" fill="#4dffb2" />
<rect x="385.10" y="835.50" width="7.90" height="9.60" fill="#4dffb2" />
<rect x="385.10" y="844.50" width="7.90" height="9.60" fill="#ffbd00" />
<rect x="385.10" y="853.50" width="7.90" height="9.60" fill="#fff500" />
<rect x="385.10" y="862.50" width="7.90" height="9.60" fill="#fff500" />
<rect x="385.10" y="871.50" width="7.90" height="9.60" fill="#4dffb2" />
<rect x="385.10" y="880.50" width="7.90" height="9.60" fill="#ff8000" />
<rect x="385.10" y="889.50" width="7.90" height="9.60" fill="#ff0000" />
<rect x="385.10" y="898.50" width="7.90" height="9.60" fill="#ff0000" />
<rect x="385.10" y="907.50" width="7.90" height="9.60" fill="#ff4200" />
<rect x="385.10" y="916.50" width="7.90" height="9.60" fill="#ff4200" />
<rect x="385.10" y="925.50" width="7.90" height="9.60" fill="#ff4200" />
<rect x="385.10" y="934.50" width="7.90" height="9.60" fill="#4dffb2" />
<rect x="385.10" y="943.50" width="7.90" height="9.60" fill="#4dffb2" />
<rect x="385.10" y="952.50" width="7.90" height="9.60" fill="#00b2ff" />
<rect x="385.10" y="961.50" width="7.90" height="9.60" fill="#4dffb2" />
<rect x="385.10" y="970.50" width="7.90" height="9.60" fill="#00b2ff" />
<rect x="385.10" y="979.50" width="7.90" height="9.60" fill="#00b2ff" />
<rect x="385.10" y="988.50" width="7.90" height="9.60" fill="#0061ff" />
<rect x="385.10" y="997.50" width="7.90" height="9.60" fill="#0061ff" />
<rect x="385.10" y="1006.50" width="7.90" height="9.60" fill="#0061ff" />
<rect x="393.00" y="817.50" width="9.60" height="9.60" fill="#9eff61" />
<rect x="402.00" y="817.50" width="9.60" height="9.60" fill="#9eff61" />
<rect x="411.00" y="817.50" width="9.60" height="9.60" fill="#fff500" />
<rect x="420.00" y="817.50" width="9.60" height="9.60" fill="#fff500" />
<rect x="429.00" y="817.50" width="9.60" height="9.60" fill="#9eff61" />
<rect x="438.00" y="817.50" width="9.60" height="9.60" fill="#9eff61" />
<rect x="447.00" y="817.50" width="9.60" height="9.60" fill="#ff4200" />
<rect x="456.00" y="817.50" width="9.60" height="9.60" fill="#9eff61" />
<rect x="465.00" y="817.50" width="9.60" height="9.60" fill="#4dffb2" />
<rect x="474.00" y="817.50" width="9.60" height="9.60" fill="#0061ff" />
<rect x="483.00" y="817.50" width="9.60" height="9.60" fill="#00b2ff" />
<rect x="492.00" y="817.50" width="9.60" height="9.60" fill="#00ffff" />
<rect x="402.00" y="826.50" width="9.60" height="9.60" fill="#9eff61" />
<rect x="411.00" y="826.50" width="9.60" height="9.60" fill="#fff500" />
<rect x="420.00" y="826.50" width="9.60" height="9.60" fill="#fff500" />
<rect x="429.00" y="826.50" width="9.60" height="9.60" fill="#fff500" />
<rect x="438.00" y="826.50" width="9.60" height="9.60" fill="#ff8000" />
<rect x="447.00" y="826.50" width="9.60" height="9.60" fill="#ff8000" />
<rect x="456.00" y="826.50" width="9.60" height="9.60" fill="#ff8000" />
<rect x="465.00" y="826.50" width="9.60" height="9.60" fill="#ff8000" />
<rect x="474.00" y="826.50" width="9.60" height="9.60" fill="#fff500" />
<rect x="483.00" y="826.50" width="9.60" height="9.60" fill="#fff500" />
<rect x="492.00" y="826.50" width="9.60" height="9.60" fill="#9eff61" />
<rect x="501.00" y="826.50" width="9.60" height="9.60" fill="#fff500" />
<rect x="411.00" y="835.50" width="9.60" height="9.60" fill="#fff500" />
<rect x="420.00" y="835.50" width="9.60" height="9.60" fill="#9eff61" />
<rect x="429.00" y="835.50" width="9.60" height="9.60" fill="#9eff61" />
<rect x="438.00" y="835.50" width="9.60" height="9.60" fill="#fff500" />
<rect x="447.00" y="835.50" width="9.60" height="9.60" fill="#8f0000" />
<rect x="456.00" y="835.50" width="9.60" height="9.60" fill="#fff500" />
<rect x="465.00" y="835.50" width="9.60" height="9.60" fill="#9eff61" />
<rect x="474.00" y="835.50" width="9.60" height="9.60" fill="#fff500" />
<rect x="483.00" y="835.50" width="9.60" height="9.60" fill="#fff500" />
<rect x="492.00" y="835.50" width="9.60" height="9.60" fill="#9eff61" />
<rect x="501.00" y="835.50" width="9.60" height="9.60" fill="#9eff61" />
<rect x="510.00" y="835.50" width="9.60" height="9.60" fill="#9eff61" />
<rect x="420.00" y="844.50" width="9.60" height="9.60" fill="#ffbd00" />
<rect x="429.00" y="844.50" width="9.60" height="9.60" fill="#ff4200" />
<rect x="438.00" y="844.50" width="9.60" height="9.60" fill="#8f0000" />
<rect x="447.00" y="844.50" width="9.60" height="9.60" fill="#ff0000" />
<rect x="456.00" y="844.50" width="9.60" height="9.60" fill="#ff4200" />
<rect x="465.00" y="844.50" width="9.60" height="9.60" fill="#ff4200" />
<rect x="474.00" y="844.50" width="9.60" height="9.60" fill="#ff0000" />
<rect x="483.00" y="844.50" width="9.60" height="9.60" fill="#ff4200" />
<rect x="492.00" y="844.50" width="9.60" height="9.60" fill="#ffbd00" />
<rect x="501.00" y="844.50" width="9.60" height="9.60" fill="#fff500" />
<rect x="510.00" y="844.50" width="9.60" height="9.60" fill="#ffbd00" />
<rect x="519.00" y="844.50" width="9.60" height="9.60" fill="#fff500" />
<rect x="429.00" y="853.50" width="9.60" height="9.60" fill="#fff500" />
<rect x="438.00" y="853.50" width="9.60" height="9.60" fill="#ffbd00" />
<rect x="447.00" y="853.50" width="9.60" height="9.60" fill="#fff500" />
<rect x="456.00" y="853.50" width="9.60" height="9.60" fill="#ffbd00" />
<rect x="465.00" y="853.50" width="9.60" height="9.60" fill="#ff8000" />
<rect x="474.00" y="853.50" width="9.60" height="9.60" fill="#ff8000" />
<rect x="483.00" y="853.50" width="9.60" height="9.60" fill="#ffbd00" />
<rect x="492.00" y="853.50" width="9.60" height="9.60" fill="#fff500" />
<rect x="501.00" y="853.50" width="9.60" height="9.60" fill="#9eff61" />
<rect x="510.00" y="853.50" width="9.60" height="9.60" fill="#fff500" />
<rect x="519.00" y="853.50" width="9.60" height="9.60" fill="#ffbd00" />
<rect x="528.00" y="853.50" width="9.60" height="9.60" fill="#9eff61" />
<rect x="438.00" y="862.50" width="9.60" height="9.60" fill="#fff500" />
<rect x="447.00" y="862.50" width="9.60" height="9.60" fill="#ff4200" />
<rect x="456.00" y="862.50" width="9.60" height="9.60" fill="#ffbd00" />
<rect x="465.00" y="862.50" width="9.60" height="9.60" fill="#ff4200" />
<rect x="474.00" y="862.50" width="9.60" height="9.60" fill="#8f0000" />
<rect x="483.00" y="862.50" width="9.60" height="9.60" fill="#ffbd00" />
<rect x="492.00" y="862.50" width="9.60" height="9.60" fill="#ff8000" />
<rect x="501.00" y="862.50" width="9.60" height="9.60" fill="#fff500" />
<rect x="510.00" y="862.50" width="9.60" height="9.60" fill="#fff500" />
<rect x="519.00" y="862.50" width="9.60" height="9.60" fill="#ffbd00" />
<rect x="528.00" y="862.50" width="9.60" height="9.60" fill="#9eff61" />
<rect x="537.00" y="862.50" width="9.60" height="9.60" fill="#9eff61" />
<rect x="447.00" y="871.50" width="9.60" height="9.60" fill="#ff8000" />
<rect x="456.00" y="871.50" width="9.60" height="9.60" fill="#ff0000" />
<rect x="465.00" y="871.50" width="9.60" height="9.60" fill="#ff0000" />
<rect x="474.00" y="871.50" width="9.60" height="9.60" fill="#8f0000" />
<rect x="483.00" y="871.50" width="9.60" height="9.60" fill="#ff0000" />
<rect x="492.00" y="871.50" width="9.60" height="9.60" fill="#ff8000" />
<rect x="501.00" y="871.50" width="9.60" height="9.60" fill="#ffbd00" />
<rect x="510.00" y="871.50" width="9.60" height="9.60" fill="#9eff61" />
<rect x="519.00" y="871.50" width="9.60" height="9.60" fill="#ff4200" />
<rect x="528.00" y="871.50" width="9.60" height="9.60" fill="#ff8000" />
<rect x="537.00" y="871.50" width="9.60" height="9.60" fill="#fff500" />
<rect x="546.00" y="871.50" width="9.60" height="9.60" fill="#9eff61" />
<rect x="456.00" y="880.50" width="9.60" height="9.60" fill="#ff0000" />
<rect x="465.00" y="880.50" width="9.60" height="9.60" fill="#ff0000" />
<rect x="474.00" y="880.50" width="9.60" height="9.60" fill="#8f0000" />
<rect x="483.00" y="880.50" width="9.60" height="9.60" fill="#8f0000" />
<rect x="492.00" y="880.50" width="9.60" height="9.60" fill="#ff0000" />
<rect x="501.00" y="880.50" width="9.60" height="9.60" fill="#ff0000" />
<rect x="510.00" y="880.50" width="9.60" height="9.60" fill="#ff4200" />
<rect x="519.00" y="880.50" width="9.60" height="9.60" fill="#ff4200" />
<rect x="528.00" y="880.50" width="9.60" height="9.60" fill="#ff0000" />
<rect x="537.00" y="880.50" width="9.60" height="9.60" fill="#8f0000" />
<rect x="546.00" y="880.50" width="9.60" height="9.60" fill="#ff0000" />
<rect x="555.00" y="880.50" width="9.60" height="9.60" fill="#ff8000" />
<rect x="465.00" y="889.50" width="9.60" height="9.60" fill="#ff4200" />
<rect x="474.00" y="889.50" width="9.60" height="9.60" fill="#8f0000" />
<rect x="483.00" y="889.50" width="9.60" height="9.60" fill="#8f0000" />
<rect x="492.00" y="889.50" width="9.60" height="9.60" fill="#8f0000" />
<rect x="501.00" y="889.50" width="9.60" height="9.60" fill="#8f0000" />
<rect x="510.00" y="889.50" width="9.60" height="9.60" fill="#ff0000" />
<rect x="519.00" y="889.50" width="9.60" height="9.60" fill="#8f0000" />
<rect x="528.00" y="889.50" width="9.60" height="9.60" fill="#ff8000" />
<rect x="537.00" y="889.50" width="9.60" height="9.60" fill="#ff0000" />
<rect x="546.00" y="889.50" width="9.60" height="9.60" fill="#8f0000" />
<rect x="555.00" y="889.50" width="9.60" height="9.60" fill="#8f0000" />
<rect x="564.00" y="889.50" width="9.60" height="9.60" fill="#ff0000" />
<rect x="474.00" y="898.50" width="9.60" height="9.60" fill="#ff8000" />
<rect x="483.00" y="898.50" width="9.60" height="9.60" fill="#ff8000" />
<rect x="492.00" y="898.50" width="9.60" height="9.60" fill="#ff0000" />
<rect x="501.00" y="898.50" width="9.60" height="9.60" fill="#ff8000" />
<rect x="510.00" y="898.50" width="9.60" height="9.60" fill="#ff4200" />
<rect x="519.00" y="898.50" width="9.60" height="9.60" fill="#ff4200" />
<rect x="528.00" y="898.50" width="9.60" height="9.60" fill="#ffbd00" />
<rect x="537.00" y="898.50" width="9.60" height="9.60" fill="#ff0000" />
<rect x="546.00" y="898.50" width="9.60" height="9.60" fill="#ff0000" />
<rect x="555.00" y="898.50" width="9.60" height="9.60" fill="#8f0000" />
<rect x="564.00" y="898.50" width="9.60" height="9.60" fill="#ff8000" />
<rect x="573.00" y="898.50" width="9.60" height="9.60" fill="#ff8000" />
<rect x="483.00" y="907.50" width="9.60" height="9.60" fill="#ff8000" />
<rect x="492.00" y="907.50" width="9.60" height="9.60" fill="#ff0000" />
<rect x="501.00" y="907.50" width="9.60" height="9.60" fill="#ff0000" />
<rect x="510.00" y="907.50" width="9.60" height="9.60" fill="#ff0000" />
<rect x="519.00" y="907.50" width="9.60" height="9.60" fill="#8f0000" />
<rect x="528.00" y="907.50" width="9.60" height="9.60" fill="#ff0000" />
<rect x="537.00" y="907.50" width="9.60" height="9.60" fill="#8f0000" />
<rect x="546.00" y="907.50" width="9.60" height="9.60" fill="#8f0000" />
<rect x="555.00" y="907.50" width="9.60" height="9.60" fill="#ff0000" />
<rect x="564.00" y="907.50" width="9.60" height="9.60" fill="#8f0000" />
<rect x="573.00" y="907.50" width="9.60" height="9.60" fill="#ff4200" />
<rect x="582.00" y="907.50" width="9.60" height="9.60" fill="#ff8000" />
<rect x="492.00" y="916.50" width="9.60" height="9.60" fill="#ff4200" />
<rect x="501.00" y="916.50" width="9.60" height="9.60" fill="#ff4200" />
<rect x="510.00" y="916.50" width="9.60" height="9.60" fill="#ffbd00" />
<rect x="519.00" y="916.50" width="9.60" height="9.60" fill="#ffbd00" />
<rect x="528.00" y="916.50" width="9.60" height="9.60" fill="#ff0000" />
<rect x="537.00" y="916.50" width="9.60" height="9.60" fill="#8f0000" />
<rect x="546.00" y="916.50" width="9.60" height="9.60" fill="#8f0000" />
<rect x="555.00" y="916.50" width="9.60" height="9.60" fill="#8f0000" />
<rect x="564.00" y="916.50" width="9.60" height="9.60" fill="#8f0000" />
<rect x="573.00" y="916.50" width="9.60" height="9.60" fill="#ff4200" />
<rect x="582.00" y="916.50" width="9.60" height="9.60" fill="#8f0000" />
<rect x="591.00" y="916.50" width="9.60" height="9.60" fill="#ffbd00" />
<rect x="501.00" y="925.50" width="9.60" height="9.60" fill="#4dffb2" />
<rect x="510.00" y="925.50" width="9.60" height="9.60" fill="#00ffff" />
<rect x="519.00" y="925.50" width="9.60" height="9.60" fill="#00ffff" />
<rect x="528.00" y="925.50" width="9.60" height="9.60" fill="#fff500" />
<rect x="537.00" y="925.50" width="9.60" height="9.60" fill="#ffbd00" />
<rect x="546.00" y="925.50" width="9.60" height="9.60" fill="#ff0000" />
<rect x="555.00" y="925.50" width="9.60" height="9.60" fill="#8f0000" />
<rect x="564.00" y="925.50" width="9.60" height="9.60" fill="#8f0000" />
<rect x="573.00" y="925.50" width="9.60" height="9.60" fill="#ff4200" />
<rect x="582.00" y="925.50" width="9.60" height="9.60" fill="#8f0000" />
<rect x="591.00" y="925.50" width="9.60" height="9.60" fill="#ff0000" />
<rect x="600.00" y="925.50" width="9.60" height="9.60" fill="#ff8000" />
<rect x="510.00" y="934.50" width="9.60" height="9.60" fill="#00ffff" />
<rect x="519.00" y="934.50" width="9.60" height="9.60" fill="#0061ff" />
<rect x="528.00" y="934.50" width="9.60" height="9.60" fill="#00ffff" />
<rect x="537.00" y="934.50" width="9.60" height="9.60" fill="#4dffb2" />
<rect x="546.00" y="934.50" width="9.60" height="9.60" fill="#ffbd00" />
<rect x="555.00" y="934.50" width="9.60" height="9.60" fill="#ff8000" />
<rect x="564.00" y="934.50" width="9.60" height="9.60" fill="#ff0000" />
<rect x="573.00" y="934.50" width="9.60" height="9.60" fill="#9eff61" />
<rect x="591.00" y="934.50" width="9.60" height="9.60" fill="#ff4200" />
<rect x="600.00" y="934.50" width="9.60" height="9.60" fill="#fff500" />
<rect x="609.00" y="934.50" width="9.60" height="9.60" fill="#4dffb2" />
<rect x="519.00" y="943.50" width="9.60" height="9.60" fill="#00ffff" />
<rect x="528.00" y="943.50" width="9.60" height="9.60" fill="#00ffff" />
<rect x="537.00" y="943.50" width="9.60" height="9.60" fill="#00ffff" />
<rect x="546.00" y="943.50" width="9.60" height="9.60" fill="#4dffb2" />
<rect x="555.00" y="943.50" width="9.60" height="9.60" fill="#00ffff" />
<rect x="564.00" y="943.50" width="9.60" height="9.60" fill="#00ffff" />
<rect x="573.00" y="943.50" width="9.60" height="9.60" fill="#9eff61" />
<rect x="582.00" y="943.50" width="9.60" height="9.60" fill="#ff0000" />
<rect x="591.00" y="943.50" width="9.60" height="9.60" fill="#fff500" />
<rect x="600.00" y="943.50" width="9.60" height="9.60" fill="#00ffff" />
<rect x="609.00" y="943.50" width="9.60" height="9.60" fill="#0061ff" />
<rect x="618.00" y="943.50" width="9.60" height="9.60" fill="#00ffff" />
<rect x="528.00" y="952.50" width="9.60" height="9.60" fill="#00ffff" />
<rect x="537.00" y="952.50" width="9.60" height="9.60" fill="#00b2ff" />
<rect x="546.00" y="952.50" width="9.60" height="9.60" fill="#00ffff" />
<rect x="555.00" y="952.50" width="9.60" height="9.60" fill="#00ffff" />
<rect x="564.00" y="952.50" width="9.60" height="9.60" fill="#fff500" />
<rect x="573.00" y="952.50" width="9.60" height="9.60" fill="#0061ff" />
<rect x="582.00" y="952.50" width="9.60" height="9.60" fill="#ff0000" />
<rect x="591.00" y="952.50" width="9.60" height="9.60" fill="#fff500" />
<rect x="600.00" y="952.50" width="9.60" height="9.60" fill="#9eff61" />
<rect x="609.00" y="952.50" width="9.60" height="9.60" fill="#00b2ff" />
<rect x="618.00" y="952.50" width="9.60" height="9.60" fill="#4dffb2" />
<rect x="627.00" y="952.50" width="9.60" height="9.60" fill="#00ffff" />
<rect x="537.00" y="961.50" width="9.60" height="9.60" fill="#00b2ff" />
<rect x="546.00" y="961.50" width="9.60" height="9.60" fill="#00b2ff" />
<rect x="555.00" y="961.50" width="9.60" height="9.60" fill="#00b2ff" />
<rect x="564.00" y="961.50" width="9.60" height="9.60" fill="#00b2ff" />
<rect x="573.00" y="961.50" width="9.60" height="9.60" fill="#00ffff" />
<rect x="582.00" y="961.50" width="9.60" height="9.60" fill="#ffbd00" />
<rect x="591.00" y="961.50" width="9.60" height="9.60" fill="#fff500" />
<rect x="600.00" y="961.50" width="9.60" height="9.60" fill="#00b2ff" />
<rect x="609.00" y="961.50" width="9.60" height="9.60" fill="#00ffff" />
<rect x="618.00" y="961.50" width="9.60" height="9.60" fill="#00b2ff" />
<rect x="627.00" y="961.50" width="9.60" height="9.60" fill="#4dffb2" />
<rect x="636.00" y="961.50" width="9.60" height="9.60" fill="#4dffb2" />
<rect x="546.00" y="970.50" width="9.60" height="9.60" fill="#4dffb2" />
<rect x="555.00" y="970.50" width="9.60" height="9.60" fill="#00ffff" />
<rect x="564.00" y="970.50" width="9.60" height="9.60" fill="#00b2ff" />
<rect x="573.00" y="970.50" width="9.60" height="9.60" fill="#00b2ff" />
<rect x="582.00" y="970.50" width="9.60" height="9.60" fill="#ffbd00" />
<rect x="591.00" y="970.50" width="9.60" height="9.60" fill="#00ffff" />
<rect x="600.00" y="970.50" width="9.60" height="9.60" fill="#0061ff" />
<rect x="609.00" y="970.50" width="9.60" height="9.60" fill="#4dffb2" />
<rect x="618.00" y="970.50" width="9.60" height="9.60" fill="#00b2ff" />
<rect x="627.00" y="970.50" width="9.60" height="9.60" fill="#00b2ff" />
<rect x="636.00" y="970.50" width="9.60" height="9.60" fill="#00ffff" />
<rect x="645.00" y="970.50" width="9.60" height="9.60" fill="#00b2ff" />
<rect x="555.00" y="979.50" width="9.60" height="9.60" fill="#00b2ff" />
<rect x="564.00" y="979.50" width="9.60" height="9.60" fill="#0061ff" />
<rect x="573.00" y="979.50" width="9.60" height="9.60" fill="#00b2ff" />
<rect x="582.00" y="979.50" width="9.60" height="9.60" fill="#4dffb2" />
<rect x="591.00" y="979.50" width="9.60" height="9.60" fill="#0000f0" />
<rect x="600.00" y="979.50" width="9.60" height="9.60" fill="#00b2ff" />
<rect x="609.00" y="979.50" width="9.60" height="9.60" fill="#4dffb2" />
<rect x="618.00" y="979.50" width="9.60" height="9.60" fill="#00b2ff" />
<rect x="627.00" y="979.50" width="9.60" height="9.60" fill="#00ffff" />
<rect x="636.00" y="979.50" width="9.60" height="9.60" fill="#9eff61" />
<rect x="645.00" y="979.50" width="9.60" height="9.60" fill="#00ffff" />
<rect x="654.00" y="979.50" width="9.60" height="9.60" fill="#00b2ff" />
<rect x="564.00" y="988.50" width="9.60" height="9.60" fill="#0061ff" />
<rect x="573.00" y="988.50" width="9.60" height="9.60" fill="#0061ff" />
<rect x="582.00" y="988.50" width="9.60" height="9.60" fill="#0000f0" />
<rect x="591.00" y="988.50" width="9.60" height="9.60" fill="#00b2ff" />
<rect x="600.00" y="988.50" width="9.60" height="9.60" fill="#00ffff" />
<rect x="609.00" y="988.50" width="9.60" height="9.60" fill="#00ffff" />
<rect x="618.00" y="988.50" width="9.60" height="9.60" fill="#00b2ff" />
<rect x="627.00" y="988.50" width="9.60" height="9.60" fill="#00b2ff" />
<rect x="636.00" y="988.50" width="9.60" height="9.60" fill="#00ffff" />
<rect x="645.00" y="988.50" width="9.60" height="9.60" fill="#00ffff" />
<rect x="654.00" y="988.50" width="9.60" height="9.60" fill="#00b2ff" />
<rect x="663.00" y="988.50" width="9.60" height="9.60" fill="#0000f0" />
<rect x="573.00" y="997.50" width="9.60" height="9.60" fill="#00b2ff" />
<rect x="582.00" y="997.50" width="9.60" height="9.60" fill="#0000f0" />
<rect x="591.00" y="997.50" width="9.60" height="9.60" fill="#0000f0" />
<rect x="600.00" y="997.50" width="9.60" height="9.60" fill="#0000f0" />
<rect x="609.00" y="997.50" width="9.60" height="9.60" fill="#00b2ff" />
<rect x="618.00" y="997.50" width="9.60" height="9.60" fill="#00b2ff" />
<rect x="627.00" y="997.50" width="9.60" height="9.60" fill="#00b2ff" />
<rect x="636.00" y="997.50" width="9.60" height="9.60" fill="#0061ff" />
<rect x="645.00" y="997.50" width="9.60" height="9.60" fill="#00b2ff" />
<rect x="654.00" y="997.50" width="9.60" height="9.60" fill="#00b2ff" />
<rect x="663.00" y="997.50" width="9.60" height="9.60" fill="#00b2ff" />
<rect x="672.00" y="997.50" width="9.60" height="9.60" fill="#0000f0" />
<text x="389.10" y="813.60" font-size="8.6" fill="#444" text-anchor="middle" font-weight="normal" font-style="normal" >–</text>
<text x="397.50" y="813.60" font-size="8.6" fill="#8a8a8a" text-anchor="middle" font-weight="normal" font-style="normal" >C</text>
<text x="406.50" y="813.60" font-size="8.6" fill="#8a8a8a" text-anchor="middle" font-weight="normal" font-style="normal" >A</text>
<text x="415.50" y="813.60" font-size="8.6" fill="#8a8a8a" text-anchor="middle" font-weight="normal" font-style="normal" >C</text>
<text x="424.50" y="813.60" font-size="8.6" fill="#8a8a8a" text-anchor="middle" font-weight="normal" font-style="normal" >T</text>
<text x="433.50" y="813.60" font-size="8.6" fill="#8a8a8a" text-anchor="middle" font-weight="normal" font-style="normal" >G</text>
<text x="442.50" y="813.60" font-size="8.6" fill="#d2b48f" text-anchor="middle" font-weight="normal" font-style="normal" >A</text>
<text x="451.50" y="813.60" font-size="8.6" fill="#d2b48f" text-anchor="middle" font-weight="normal" font-style="normal" >C</text>
<text x="460.50" y="813.60" font-size="8.6" fill="#d2b48f" text-anchor="middle" font-weight="normal" font-style="normal" >C</text>
<text x="469.50" y="813.60" font-size="8.6" fill="#d2b48f" text-anchor="middle" font-weight="normal" font-style="normal" >T</text>
<text x="478.50" y="813.60" font-size="8.6" fill="#2ebf2e" text-anchor="middle" font-weight="normal" font-style="normal" >G</text>
<text x="487.50" y="813.60" font-size="8.6" fill="#2ebf2e" text-anchor="middle" font-weight="normal" font-style="normal" >G</text>
<text x="496.50" y="813.60" font-size="8.6" fill="#d2b48f" text-anchor="middle" font-weight="normal" font-style="normal" >G</text>
<text x="505.50" y="813.60" font-size="8.6" fill="#2e7a38" text-anchor="middle" font-weight="normal" font-style="normal" >G</text>
<text x="514.50" y="813.60" font-size="8.6" fill="#2e7a38" text-anchor="middle" font-weight="normal" font-style="normal" >G</text>
<text x="523.50" y="813.60" font-size="8.6" fill="#2e7a38" text-anchor="middle" font-weight="normal" font-style="normal" >A</text>
<text x="532.50" y="813.60" font-size="8.6" fill="#d2b48f" text-anchor="middle" font-weight="normal" font-style="normal" >G</text>
<text x="541.50" y="813.60" font-size="8.6" fill="#d2b48f" text-anchor="middle" font-weight="normal" font-style="normal" >T</text>
<text x="550.50" y="813.60" font-size="8.6" fill="#d2b48f" text-anchor="middle" font-weight="normal" font-style="normal" >A</text>
<text x="559.50" y="813.60" font-size="8.6" fill="#d2b48f" text-anchor="middle" font-weight="normal" font-style="normal" >T</text>
<text x="568.50" y="813.60" font-size="8.6" fill="#d2b48f" text-anchor="middle" font-weight="normal" font-style="normal" >T</text>
<text x="577.50" y="813.60" font-size="8.6" fill="#d2b48f" text-anchor="middle" font-weight="normal" font-style="normal" >G</text>
<text x="586.50" y="813.60" font-size="8.6" fill="#d2b48f" text-anchor="middle" font-weight="normal" font-style="normal" >C</text>
<text x="595.50" y="813.60" font-size="8.6" fill="#2e7a38" text-anchor="middle" font-weight="normal" font-style="normal" >G</text>
<text x="604.50" y="813.60" font-size="8.6" fill="#2e7a38" text-anchor="middle" font-weight="normal" font-style="normal" >G</text>
<text x="613.50" y="813.60" font-size="8.6" fill="#d2b48f" text-anchor="middle" font-weight="normal" font-style="normal" >A</text>
<text x="622.50" y="813.60" font-size="8.6" fill="#2ebf2e" text-anchor="middle" font-weight="normal" font-style="normal" >G</text>
<text x="631.50" y="813.60" font-size="8.6" fill="#2ebf2e" text-anchor="middle" font-weight="normal" font-style="normal" >G</text>
<text x="640.50" y="813.60" font-size="8.6" fill="#2ebf2e" text-anchor="middle" font-weight="normal" font-style="normal" >A</text>
<text x="649.50" y="813.60" font-size="8.6" fill="#d2b48f" text-anchor="middle" font-weight="normal" font-style="normal" >A</text>
<text x="658.50" y="813.60" font-size="8.6" fill="#d2b48f" text-anchor="middle" font-weight="normal" font-style="normal" >G</text>
<text x="667.50" y="813.60" font-size="8.6" fill="#d2b48f" text-anchor="middle" font-weight="normal" font-style="normal" >G</text>
<text x="676.50" y="813.60" font-size="8.6" fill="#d2b48f" text-anchor="middle" font-weight="normal" font-style="normal" >T</text>
<text x="395.10" y="804.90" font-size="8.5" fill="#1a1a1a" text-anchor="middle" font-weight="normal" font-style="normal" >−5</text>
<text x="431.90" y="804.90" font-size="8.5" fill="#1a1a1a" text-anchor="middle" font-weight="normal" font-style="normal" >−1</text>
<text x="441.60" y="804.90" font-size="8.5" fill="#1a1a1a" text-anchor="middle" font-weight="normal" font-style="normal" >1</text>
<text x="477.50" y="804.90" font-size="8.5" fill="#1a1a1a" text-anchor="middle" font-weight="normal" font-style="normal" >5</text>
<text x="524.00" y="804.90" font-size="8.5" fill="#1a1a1a" text-anchor="middle" font-weight="normal" font-style="normal" >10</text>
<text x="568.50" y="804.90" font-size="8.5" fill="#1a1a1a" text-anchor="middle" font-weight="normal" font-style="normal" >15</text>
<text x="613.50" y="804.90" font-size="8.5" fill="#1a1a1a" text-anchor="middle" font-weight="normal" font-style="normal" >20</text>
<text x="658.50" y="804.90" font-size="8.5" fill="#1a1a1a" text-anchor="middle" font-weight="normal" font-style="normal" >25</text>
<text x="676.50" y="804.90" font-size="8.5" fill="#1a1a1a" text-anchor="middle" font-weight="normal" font-style="normal" >27</text>
<text x="384.20" y="792.90" font-size="11.25" fill="#1a1a1a" text-anchor="start" font-weight="normal" font-style="normal" >Mismatch location</text>
<text x="377.50" y="824.70" font-size="9.3" fill="#8a8a8a" text-anchor="middle" font-weight="normal" font-style="normal" >C</text>
<text x="372.40" y="824.70" font-size="9.4" fill="#1a1a1a" text-anchor="end" font-weight="normal" font-style="normal" >−5</text>
<text x="377.50" y="833.70" font-size="9.3" fill="#8a8a8a" text-anchor="middle" font-weight="normal" font-style="normal" >A</text>
<text x="377.50" y="842.70" font-size="9.3" fill="#8a8a8a" text-anchor="middle" font-weight="normal" font-style="normal" >C</text>
<text x="377.50" y="851.70" font-size="9.3" fill="#8a8a8a" text-anchor="middle" font-weight="normal" font-style="normal" >T</text>
<text x="377.50" y="860.70" font-size="9.3" fill="#8a8a8a" text-anchor="middle" font-weight="normal" font-style="normal" >G</text>
<text x="372.40" y="860.70" font-size="9.4" fill="#1a1a1a" text-anchor="end" font-weight="normal" font-style="normal" >−1</text>
<text x="377.50" y="869.70" font-size="9.3" fill="#d2b48f" text-anchor="middle" font-weight="normal" font-style="normal" >A</text>
<text x="372.40" y="869.70" font-size="9.4" fill="#1a1a1a" text-anchor="end" font-weight="normal" font-style="normal" >1</text>
<text x="377.50" y="878.70" font-size="9.3" fill="#d2b48f" text-anchor="middle" font-weight="normal" font-style="normal" >C</text>
<text x="377.50" y="887.70" font-size="9.3" fill="#d2b48f" text-anchor="middle" font-weight="normal" font-style="normal" >C</text>
<text x="377.50" y="896.70" font-size="9.3" fill="#d2b48f" text-anchor="middle" font-weight="normal" font-style="normal" >T</text>
<text x="377.50" y="905.70" font-size="9.3" fill="#2ebf2e" text-anchor="middle" font-weight="normal" font-style="normal" >G</text>
<text x="372.40" y="905.70" font-size="9.4" fill="#1a1a1a" text-anchor="end" font-weight="normal" font-style="normal" >5</text>
<text x="377.50" y="914.70" font-size="9.3" fill="#2ebf2e" text-anchor="middle" font-weight="normal" font-style="normal" >G</text>
<text x="377.50" y="923.70" font-size="9.3" fill="#d2b48f" text-anchor="middle" font-weight="normal" font-style="normal" >G</text>
<text x="377.50" y="932.70" font-size="9.3" fill="#2e7a38" text-anchor="middle" font-weight="normal" font-style="normal" >G</text>
<text x="377.50" y="941.70" font-size="9.3" fill="#2e7a38" text-anchor="middle" font-weight="normal" font-style="normal" >G</text>
<text x="377.50" y="950.70" font-size="9.3" fill="#2e7a38" text-anchor="middle" font-weight="normal" font-style="normal" >A</text>
<text x="372.40" y="950.70" font-size="9.4" fill="#1a1a1a" text-anchor="end" font-weight="normal" font-style="normal" >10</text>
<text x="377.50" y="959.70" font-size="9.3" fill="#d2b48f" text-anchor="middle" font-weight="normal" font-style="normal" >G</text>
<text x="377.50" y="968.70" font-size="9.3" fill="#d2b48f" text-anchor="middle" font-weight="normal" font-style="normal" >T</text>
<text x="377.50" y="977.70" font-size="9.3" fill="#d2b48f" text-anchor="middle" font-weight="normal" font-style="normal" >A</text>
<text x="377.50" y="986.70" font-size="9.3" fill="#d2b48f" text-anchor="middle" font-weight="normal" font-style="normal" >T</text>
<text x="377.50" y="995.70" font-size="9.3" fill="#d2b48f" text-anchor="middle" font-weight="normal" font-style="normal" >T</text>
<text x="372.40" y="995.70" font-size="9.4" fill="#1a1a1a" text-anchor="end" font-weight="normal" font-style="normal" >15</text>
<text x="377.50" y="1004.70" font-size="9.3" fill="#d2b48f" text-anchor="middle" font-weight="normal" font-style="normal" >G</text>
<text x="377.50" y="1013.70" font-size="9.3" fill="#d2b48f" text-anchor="middle" font-weight="normal" font-style="normal" >C</text>
<text x="377.50" y="1022.70" font-size="9.3" fill="#2e7a38" text-anchor="middle" font-weight="normal" font-style="normal" >G</text>
<text x="377.50" y="1031.70" font-size="9.3" fill="#2e7a38" text-anchor="middle" font-weight="normal" font-style="normal" >G</text>
<text x="377.50" y="1040.70" font-size="9.3" fill="#d2b48f" text-anchor="middle" font-weight="normal" font-style="normal" >A</text>
<text x="372.40" y="1040.70" font-size="9.4" fill="#1a1a1a" text-anchor="end" font-weight="normal" font-style="normal" >20</text>
<text x="377.50" y="1049.70" font-size="9.3" fill="#2ebf2e" text-anchor="middle" font-weight="normal" font-style="normal" >G</text>
<text x="377.50" y="1058.70" font-size="9.3" fill="#2ebf2e" text-anchor="middle" font-weight="normal" font-style="normal" >G</text>
<text x="377.50" y="1067.70" font-size="9.3" fill="#2ebf2e" text-anchor="middle" font-weight="normal" font-style="normal" >A</text>
<text x="377.50" y="1076.70" font-size="9.3" fill="#d2b48f" text-anchor="middle" font-weight="normal" font-style="normal" >A</text>
<text x="377.50" y="1085.70" font-size="9.3" fill="#d2b48f" text-anchor="middle" font-weight="normal" font-style="normal" >G</text>
<text x="372.40" y="1085.70" font-size="9.4" fill="#1a1a1a" text-anchor="end" font-weight="normal" font-style="normal" >25</text>
<text x="377.50" y="1094.70" font-size="9.3" fill="#d2b48f" text-anchor="middle" font-weight="normal" font-style="normal" >G</text>
<text x="377.50" y="1103.70" font-size="9.3" fill="#d2b48f" text-anchor="middle" font-weight="normal" font-style="normal" >T</text>
<text x="372.40" y="1103.70" font-size="9.4" fill="#1a1a1a" text-anchor="end" font-weight="normal" font-style="normal" >27</text>
<text x="0" y="0" font-size="11.25" fill="#1a1a1a" text-anchor="middle" transform="translate(354.70,871.80) rotate(-90)" dominant-baseline="central">5′ Duplex start site</text>
<text x="603.50" y="848.70" font-size="11.25" fill="#1a1a1a" text-anchor="middle" font-weight="normal" font-style="normal" >Single mismatched</text>
<text x="603.80" y="861.50" font-size="11.25" fill="#1a1a1a" text-anchor="middle" font-weight="normal" font-style="normal" >12-mers</text>
<rect x="555.00" y="907.50" width="27" height="27" fill="none" stroke="#000" stroke-width="1.5"/>
<text x="167.0" y="773.2" font-size="11.4" fill="#1a1a1a"><tspan font-style="italic">k</tspan><tspan font-size="8.8" dy="2.9">off</tspan><tspan dy="-2.9"> [h</tspan><tspan font-size="8.0" dy="-4.6">−1</tspan><tspan dy="4.6">]</tspan></text>
<text x="496.8" y="773.9" font-size="11.5" fill="#1a1a1a"><tspan font-style="italic">k</tspan><tspan font-size="10" dy="-1.8">*</tspan><tspan font-size="8.7" dy="5.4">off,10 mM</tspan><tspan dy="-3.6"> [h</tspan><tspan font-size="8.0" dy="-4.6">−1</tspan><tspan dy="4.6">]</tspan></text>
<rect x="266.40" y="785.40" width="49.20" height="8.30" fill="url(#jetg)" />
<text x="263.80" y="793.20" font-size="11.25" fill="#1a1a1a" text-anchor="end" font-weight="normal" font-style="normal" >0</text>
<text x="318.20" y="793.20" font-size="11.25" fill="#1a1a1a" text-anchor="start" font-weight="normal" font-style="normal" >0.5</text>
<rect x="613.30" y="785.40" width="48.80" height="8.00" fill="url(#jetg)" />
<text x="607.90" y="793.20" font-size="11.25" fill="#1a1a1a" text-anchor="end" font-weight="normal" font-style="normal" >0</text>
<text x="662.40" y="793.20" font-size="11.25" fill="#1a1a1a" text-anchor="start" font-weight="normal" font-style="normal" >0.5</text>
<text x="437.80" y="998.70" font-size="11.25" fill="#1a1a1a" text-anchor="middle" font-weight="normal" font-style="normal" >Perfect match</text>
<text x="437.60" y="1011.90" font-size="11.25" fill="#1a1a1a" text-anchor="middle" font-weight="normal" font-style="normal" >11-mers</text>
<polyline points="394.5,885.5 434.6,885.5 434.6,876.3 443.6,876.3" fill="none" stroke="#333" stroke-width="1"/>
<polyline points="394.5,938.8 488.2,938.8 488.2,929.9 497.7,929.9" fill="none" stroke="#333" stroke-width="1"/>
<line x1="244.4" y1="920.6" x2="544.8" y2="920.6" stroke="#000" stroke-width="1.1" stroke-dasharray="2.6,2.6"/>
<polygon points="236.4,920.6 244.4,917.2 244.4,924.0" fill="none" stroke="#000" stroke-width="1.2"/>
<polygon points="552.8,920.6 544.8,917.2 544.8,924.0" fill="none" stroke="#000" stroke-width="1.2"/>
<polygon points="78.00,10.30 81.37,16.37 88.04,14.46 86.13,21.13 92.20,24.50 86.13,27.87 88.04,34.54 81.37,32.63 78.00,38.70 74.63,32.63 67.96,34.54 69.87,27.87 63.80,24.50 69.87,21.13 67.96,14.46 74.63,16.37" fill="url(#starg)"/>
<line x1="78.3" y1="39.5" x2="78.3" y2="48.8" stroke="#222" stroke-width="0.9"/>
<text x="55.60" y="55.80" font-size="10.2" fill="#1a1a1a" text-anchor="start" font-weight="normal" font-style="normal" >5′</text>
<text x="78.50" y="60.40" font-size="12.3" fill="#000" text-anchor="middle" font-weight="bold" font-style="normal" >T</text>
<line x1="78.3" y1="63.2" x2="78.3" y2="72.6" stroke="#222" stroke-width="0.9"/>
<text x="69.30" y="85.90" font-size="10.2" fill="#1a1a1a" text-anchor="end" font-weight="normal" font-style="normal" >−5</text>
<text x="78.40" y="86.30" font-size="12.3" fill="#8a8a8a" text-anchor="middle" font-weight="normal" font-style="normal" >C</text>
<text x="78.40" y="100.00" font-size="12.3" fill="#8a8a8a" text-anchor="middle" font-weight="normal" font-style="normal" >A</text>
<text x="78.40" y="113.70" font-size="12.3" fill="#8a8a8a" text-anchor="middle" font-weight="normal" font-style="normal" >C</text>
<text x="78.40" y="127.20" font-size="12.3" fill="#8a8a8a" text-anchor="middle" font-weight="normal" font-style="normal" >T</text>
<text x="78.40" y="140.40" font-size="12.3" fill="#8a8a8a" text-anchor="middle" font-weight="normal" font-style="normal" >G</text>
<path d="M86.5,77.2 C90.5,78.5 90.5,82 90,88 C89.5,96 89.2,104 92.8,108.8 C89.2,113.6 89.5,121 90,129 C90.5,135.5 90.5,139.5 86.5,141" fill="none" stroke="#111" stroke-width="1.1"/>
<text x="100.60" y="113.20" font-size="11.25" fill="#1a1a1a" text-anchor="start" font-weight="normal" font-style="normal" >5′ Extension</text>
<rect x="70.4" y="141.8" width="40.00" height="53.40" fill="none" stroke="#333" stroke-width="1.0" stroke-dasharray="1.1,1.2"/>
<rect x="61.3" y="195.8" width="58.70" height="91.70" fill="none" stroke="#333" stroke-width="1.0" stroke-dasharray="1.1,1.2"/>
<rect x="68.6" y="289.0" width="44.70" height="51.50" fill="none" stroke="#333" stroke-width="1.0" stroke-dasharray="1.1,1.2"/>
<text x="78.40" y="153.60" font-size="12.3" fill="#d2b48f" text-anchor="middle" font-weight="normal" font-style="normal" >A</text>
<text x="102.00" y="153.60" font-size="12.3" fill="#d2b48f" text-anchor="middle" font-weight="normal" font-style="normal" >T</text>
<line x1="86.6" y1="149.20" x2="94.7" y2="149.20" stroke="#000" stroke-width="2"/>
<text x="78.40" y="167.20" font-size="12.3" fill="#d2b48f" text-anchor="middle" font-weight="normal" font-style="normal" >C</text>
<text x="102.00" y="167.20" font-size="12.3" fill="#d2b48f" text-anchor="middle" font-weight="normal" font-style="normal" >G</text>
<line x1="86.6" y1="162.80" x2="94.7" y2="162.80" stroke="#000" stroke-width="2"/>
<text x="78.40" y="180.80" font-size="12.3" fill="#d2b48f" text-anchor="middle" font-weight="normal" font-style="normal" >C</text>
<text x="102.00" y="180.80" font-size="12.3" fill="#d2b48f" text-anchor="middle" font-weight="normal" font-style="normal" >G</text>
<line x1="86.6" y1="176.40" x2="94.7" y2="176.40" stroke="#000" stroke-width="2"/>
<text x="78.40" y="194.40" font-size="12.3" fill="#d2b48f" text-anchor="middle" font-weight="normal" font-style="normal" >T</text>
<text x="102.00" y="194.40" font-size="12.3" fill="#d2b48f" text-anchor="middle" font-weight="normal" font-style="normal" >A</text>
<line x1="86.6" y1="190.00" x2="94.7" y2="190.00" stroke="#000" stroke-width="2"/>
<text x="68.60" y="153.60" font-size="10.2" fill="#1a1a1a" text-anchor="end" font-weight="normal" font-style="normal" >1</text>
<text x="112.40" y="153.60" font-size="10.2" fill="#1a1a1a" text-anchor="start" font-weight="normal" font-style="normal" >27</text>
<text x="113.20" y="181.00" font-size="10.2" fill="#1a1a1a" text-anchor="start" font-weight="normal" font-style="normal" >25</text>
<text x="126.00" y="167.00" font-size="11.25" fill="#1a1a1a" text-anchor="start" font-weight="normal" font-style="normal" >Stem</text>
<text x="78.40" y="207.70" font-size="12.3" fill="#2ebf2e" text-anchor="middle" font-weight="normal" font-style="normal" >G</text>
<text x="101.80" y="207.70" font-size="12.3" fill="#2ebf2e" text-anchor="middle" font-weight="normal" font-style="normal" >A</text>
<circle cx="90.4" cy="203.10" r="2.3" fill="#000"/>
<text x="78.40" y="220.60" font-size="12.3" fill="#2ebf2e" text-anchor="middle" font-weight="normal" font-style="normal" >G</text>
<text x="101.80" y="220.60" font-size="12.3" fill="#2ebf2e" text-anchor="middle" font-weight="normal" font-style="normal" >G</text>
<circle cx="90.4" cy="216.00" r="2.3" fill="#000"/>
<text x="78.40" y="233.60" font-size="12.3" fill="#2ebf2e" text-anchor="middle" font-weight="normal" font-style="normal" >G</text>
<text x="101.80" y="233.60" font-size="12.3" fill="#2ebf2e" text-anchor="middle" font-weight="normal" font-style="normal" >G</text>
<circle cx="90.4" cy="229.00" r="2.3" fill="#000"/>
<text x="78.40" y="257.80" font-size="12.3" fill="#2e7a38" text-anchor="middle" font-weight="normal" font-style="normal" >G</text>
<text x="101.80" y="257.80" font-size="12.3" fill="#2e7a38" text-anchor="middle" font-weight="normal" font-style="normal" >G</text>
<circle cx="90.4" cy="253.20" r="2.3" fill="#000"/>
<text x="78.40" y="271.80" font-size="12.3" fill="#2e7a38" text-anchor="middle" font-weight="normal" font-style="normal" >G</text>
<text x="101.80" y="271.80" font-size="12.3" fill="#2e7a38" text-anchor="middle" font-weight="normal" font-style="normal" >G</text>
<circle cx="90.4" cy="267.20" r="2.3" fill="#000"/>
<text x="78.40" y="285.50" font-size="12.3" fill="#2e7a38" text-anchor="middle" font-weight="normal" font-style="normal" >A</text>
<text x="101.80" y="285.50" font-size="12.3" fill="#2e7a38" text-anchor="middle" font-weight="normal" font-style="normal" >G</text>
<circle cx="90.4" cy="280.90" r="2.3" fill="#000"/>
<text x="67.20" y="245.80" font-size="12.3" fill="#d2b48f" text-anchor="middle" font-weight="normal" font-style="normal" >G</text>
<text x="113.30" y="245.80" font-size="12.3" fill="#d2b48f" text-anchor="middle" font-weight="normal" font-style="normal" >A</text>
<text x="67.60" y="207.60" font-size="10.2" fill="#1a1a1a" text-anchor="end" font-weight="normal" font-style="normal" >5</text>
<text x="121.50" y="245.60" font-size="10.2" fill="#1a1a1a" text-anchor="start" font-weight="normal" font-style="normal" >20</text>
<text x="73.60" y="285.50" font-size="10.2" fill="#1a1a1a" text-anchor="end" font-weight="normal" font-style="normal" >10</text>
<text x="128.00" y="207.40" font-size="11.25" fill="#1a1a1a" text-anchor="start" font-weight="normal" font-style="normal" >Binding</text>
<text x="128.00" y="220.60" font-size="11.25" fill="#1a1a1a" text-anchor="start" font-weight="normal" font-style="normal" >pocket</text>
<text x="78.40" y="299.60" font-size="12.3" fill="#d2b48f" text-anchor="middle" font-weight="normal" font-style="normal" >G</text>
<text x="102.00" y="299.60" font-size="12.3" fill="#d2b48f" text-anchor="middle" font-weight="normal" font-style="normal" >C</text>
<line x1="86.6" y1="295.3" x2="94.7" y2="295.3" stroke="#000" stroke-width="2"/>
<text x="78.40" y="314.10" font-size="12.3" fill="#d2b48f" text-anchor="middle" font-weight="normal" font-style="normal" >T</text>
<text x="102.00" y="314.10" font-size="12.3" fill="#d2b48f" text-anchor="middle" font-weight="normal" font-style="normal" >G</text>
<circle cx="90.4" cy="309.6" r="2.3" fill="#000"/>
<text x="76.10" y="328.10" font-size="12.3" fill="#d2b48f" text-anchor="middle" font-weight="normal" font-style="normal" >A</text>
<text x="105.80" y="328.10" font-size="12.3" fill="#d2b48f" text-anchor="middle" font-weight="normal" font-style="normal" >T</text>
<text x="90.60" y="338.20" font-size="12.3" fill="#d2b48f" text-anchor="middle" font-weight="normal" font-style="normal" >T</text>
<text x="116.20" y="327.60" font-size="10.2" fill="#1a1a1a" text-anchor="start" font-weight="normal" font-style="normal" >15</text>
<text x="62.80" y="316.00" font-size="11.25" fill="#1a1a1a" text-anchor="end" font-weight="normal" font-style="normal" >Loop</text>
<text x="39.40" y="186.40" font-size="11.25" fill="#1a1a1a" text-anchor="middle" font-weight="normal" font-style="normal" >Site II</text>
<text x="26.40" y="247.00" font-size="11.25" fill="#1a1a1a" text-anchor="middle" font-weight="normal" font-style="normal" >ATP</text>
<text x="157.00" y="253.20" font-size="11.25" fill="#1a1a1a" text-anchor="middle" font-weight="normal" font-style="normal" >ATP</text>
<text x="139.20" y="304.30" font-size="11.25" fill="#1a1a1a" text-anchor="middle" font-weight="normal" font-style="normal" >Site I</text>
<line x1="51.00" y1="186.80" x2="63.17" y2="201.80" stroke="#111" stroke-width="0.9"/>
<polygon points="66.00,205.30 61.61,203.06 64.72,200.54" fill="#111"/>
<line x1="34.60" y1="234.00" x2="51.40" y2="225.36" stroke="#111" stroke-width="0.9"/>
<polygon points="55.40,223.30 52.31,227.14 50.48,223.58" fill="#111"/>
<line x1="145.60" y1="250.60" x2="130.34" y2="257.05" stroke="#111" stroke-width="0.9"/>
<polygon points="126.20,258.80 129.57,255.21 131.12,258.89" fill="#111"/>
<line x1="130.40" y1="292.60" x2="116.58" y2="278.78" stroke="#111" stroke-width="0.9"/>
<polygon points="113.40,275.60 118.00,277.37 115.17,280.20" fill="#111"/>
<circle cx="42.8" cy="207.8" r="2.7" fill="#22cc22"/>
<circle cx="47.6" cy="210.4" r="2.7" fill="#22cc22"/>
<circle cx="52.6" cy="213.2" r="2.7" fill="#22cc22"/>
<line x1="42.8" y1="207.8" x2="62" y2="220" stroke="#22cc22" stroke-width="2"/>
<polygon points="61.80,216.40 66.17,219.58 64.50,224.72 59.10,224.72 57.43,219.58" fill="#22cc22"/>
<polygon points="75.60,214.60 73.10,218.93 68.10,218.93 65.60,214.60 68.10,210.27 73.10,210.27" fill="#22cc22"/>
<polygon points="83.40,215.40 80.80,219.90 75.60,219.90 73.00,215.40 75.60,210.90 80.80,210.90" fill="#22cc22"/>
<line x1="62" y1="220" x2="70" y2="215" stroke="#22cc22" stroke-width="2.5"/>
<polygon points="105.40,266.40 102.80,270.90 97.60,270.90 95.00,266.40 97.60,261.90 102.80,261.90" fill="#2a8a35"/>
<polygon points="113.00,268.60 110.50,272.93 105.50,272.93 103.00,268.60 105.50,264.27 110.50,264.27" fill="#2a8a35"/>
<polygon points="117.60,257.20 122.36,260.65 120.54,266.25 114.66,266.25 112.84,260.65" fill="#2a8a35"/>
<line x1="108" y1="268" x2="118" y2="262" stroke="#2a8a35" stroke-width="2.5"/>
<line x1="118" y1="262" x2="136.5" y2="275" stroke="#2a8a35" stroke-width="2"/>
<circle cx="126.2" cy="268.6" r="2.8" fill="#2a8a35"/>
<circle cx="131.4" cy="272.0" r="2.8" fill="#2a8a35"/>
<circle cx="136.6" cy="275.0" r="2.8" fill="#2a8a35"/>
<text x="202.50" y="45.20" font-size="11.25" fill="#1a1a1a" text-anchor="middle" font-weight="normal" font-style="normal" >5′</text>
<text x="262.00" y="46.40" font-size="11.25" fill="#1a1a1a" text-anchor="middle" font-weight="normal" font-style="normal" >3′</text>
<path d="M214.8,59.3 L242.8,60.1" fill="none" stroke="#c4a27f" stroke-width="4.2" stroke-linecap="round" stroke-linejoin="round" />
<path d="M214.8,59.3 L242.8,60.1" fill="none" stroke="#dcc2a4" stroke-width="3.3" stroke-linecap="round" stroke-linejoin="round" />
<path d="M206,74.2 L231.4,77.7" fill="none" stroke="#c4a27f" stroke-width="4.2" stroke-linecap="round" stroke-linejoin="round" />
<path d="M206,74.2 L231.4,77.7" fill="none" stroke="#dcc2a4" stroke-width="3.3" stroke-linecap="round" stroke-linejoin="round" />
<path d="M211.3,90.8 L230.5,95.2" fill="none" stroke="#c4a27f" stroke-width="4.2" stroke-linecap="round" stroke-linejoin="round" />
<path d="M211.3,90.8 L230.5,95.2" fill="none" stroke="#dcc2a4" stroke-width="3.3" stroke-linecap="round" stroke-linejoin="round" />
<path d="M216.5,111.8 L233.2,113.6" fill="none" stroke="#c4a27f" stroke-width="4.2" stroke-linecap="round" stroke-linejoin="round" />
<path d="M216.5,111.8 L233.2,113.6" fill="none" stroke="#dcc2a4" stroke-width="3.3" stroke-linecap="round" stroke-linejoin="round" />
<path d="M245.4,58.4 L263,59.3" fill="none" stroke="#c4a27f" stroke-width="4.2" stroke-linecap="round" stroke-linejoin="round" />
<path d="M245.4,58.4 L263,59.3" fill="none" stroke="#dcc2a4" stroke-width="3.3" stroke-linecap="round" stroke-linejoin="round" />
<path d="M238.4,76.8 L265.6,79.4" fill="none" stroke="#c4a27f" stroke-width="4.2" stroke-linecap="round" stroke-linejoin="round" />
<path d="M238.4,76.8 L265.6,79.4" fill="none" stroke="#dcc2a4" stroke-width="3.3" stroke-linecap="round" stroke-linejoin="round" />
<path d="M245.4,96.9 L272.6,100.4" fill="none" stroke="#c4a27f" stroke-width="4.2" stroke-linecap="round" stroke-linejoin="round" />
<path d="M245.4,96.9 L272.6,100.4" fill="none" stroke="#dcc2a4" stroke-width="3.3" stroke-linecap="round" stroke-linejoin="round" />
<path d="M244.6,117 L276.1,120.6" fill="none" stroke="#c4a27f" stroke-width="4.2" stroke-linecap="round" stroke-linejoin="round" />
<path d="M244.6,117 L276.1,120.6" fill="none" stroke="#dcc2a4" stroke-width="3.3" stroke-linecap="round" stroke-linejoin="round" />
<polygon points="211.30,50.50 215.77,53.75 214.06,59.01 208.54,59.01 206.83,53.75" fill="none" stroke="#c4a27f" stroke-width="1.9" stroke-linejoin="round"/>
<polygon points="201.60,69.72 205.86,72.82 204.23,77.82 198.97,77.82 197.34,72.82" fill="none" stroke="#c4a27f" stroke-width="1.9" stroke-linejoin="round"/>
<polygon points="206.90,82.60 211.37,85.85 209.66,91.11 204.14,91.11 202.43,85.85" fill="none" stroke="#c4a27f" stroke-width="1.9" stroke-linejoin="round"/>
<polygon points="222.70,103.14 226.75,106.08 225.20,110.84 220.20,110.84 218.65,106.08" fill="none" stroke="#c4a27f" stroke-width="1.9" stroke-linejoin="round"/>
<polygon points="251.60,51.14 255.65,54.08 254.10,58.84 249.10,58.84 247.55,54.08" fill="none" stroke="#c4a27f" stroke-width="1.9" stroke-linejoin="round"/>
<polygon points="265.60,77.92 269.86,81.02 268.23,86.02 262.97,86.02 261.34,81.02" fill="none" stroke="#c4a27f" stroke-width="1.9" stroke-linejoin="round"/>
<polygon points="281.40,96.37 286.09,99.78 284.30,105.29 278.50,105.29 276.71,99.78" fill="none" stroke="#c4a27f" stroke-width="1.9" stroke-linejoin="round"/>
<polygon points="280.50,117.60 284.97,120.85 283.26,126.11 277.74,126.11 276.03,120.85" fill="none" stroke="#c4a27f" stroke-width="1.9" stroke-linejoin="round"/>
<path d="M217.5,190.4 L246,192.4" fill="none" stroke="#c4a27f" stroke-width="4.1000000000000005" stroke-linecap="round" stroke-linejoin="round" />
<path d="M217.5,190.4 L246,192.4" fill="none" stroke="#dcc2a4" stroke-width="3.2" stroke-linecap="round" stroke-linejoin="round" />
<path d="M265.2,249 L285.6,249" fill="none" stroke="#c4a27f" stroke-width="4.1000000000000005" stroke-linecap="round" stroke-linejoin="round" />
<path d="M265.2,249 L285.6,249" fill="none" stroke="#dcc2a4" stroke-width="3.2" stroke-linecap="round" stroke-linejoin="round" />
<path d="M242.7,253.1 L267.2,254.2" fill="none" stroke="#c4a27f" stroke-width="4.1000000000000005" stroke-linecap="round" stroke-linejoin="round" />
<path d="M242.7,253.1 L267.2,254.2" fill="none" stroke="#dcc2a4" stroke-width="3.2" stroke-linecap="round" stroke-linejoin="round" />
<path d="M255,269.5 L289.7,269.5" fill="none" stroke="#c4a27f" stroke-width="4.1000000000000005" stroke-linecap="round" stroke-linejoin="round" />
<path d="M255,269.5 L289.7,269.5" fill="none" stroke="#dcc2a4" stroke-width="3.2" stroke-linecap="round" stroke-linejoin="round" />
<path d="M240.7,290 L263.1,292" fill="none" stroke="#c4a27f" stroke-width="4.1000000000000005" stroke-linecap="round" stroke-linejoin="round" />
<path d="M240.7,290 L263.1,292" fill="none" stroke="#dcc2a4" stroke-width="3.2" stroke-linecap="round" stroke-linejoin="round" />
<path d="M242.7,313.4 L267.2,314.4" fill="none" stroke="#c4a27f" stroke-width="4.1000000000000005" stroke-linecap="round" stroke-linejoin="round" />
<path d="M242.7,313.4 L267.2,314.4" fill="none" stroke="#dcc2a4" stroke-width="3.2" stroke-linecap="round" stroke-linejoin="round" />
<path d="M250,280 L268,281" fill="none" stroke="#c4a27f" stroke-width="4.1000000000000005" stroke-linecap="round" stroke-linejoin="round" />
<path d="M250,280 L268,281" fill="none" stroke="#dcc2a4" stroke-width="3.2" stroke-linecap="round" stroke-linejoin="round" />
<path d="M256,300 L276,300" fill="none" stroke="#c4a27f" stroke-width="4.1000000000000005" stroke-linecap="round" stroke-linejoin="round" />
<path d="M256,300 L276,300" fill="none" stroke="#dcc2a4" stroke-width="3.2" stroke-linecap="round" stroke-linejoin="round" />
<path d="M283.6,238.8 L285.6,249" fill="none" stroke="#c4a27f" stroke-width="4.1000000000000005" stroke-linecap="round" stroke-linejoin="round" />
<path d="M283.6,238.8 L285.6,249" fill="none" stroke="#dcc2a4" stroke-width="3.2" stroke-linecap="round" stroke-linejoin="round" />
<polygon points="238.60,248.62 242.86,251.72 241.23,256.72 235.97,256.72 234.34,251.72" fill="none" stroke="#c4a27f" stroke-width="1.9" stroke-linejoin="round"/>
<polygon points="267.20,263.37 271.03,266.15 269.57,270.66 264.83,270.66 263.37,266.15" fill="none" stroke="#c4a27f" stroke-width="1.9" stroke-linejoin="round"/>
<polygon points="262.00,286.52 266.26,289.62 264.63,294.62 259.37,294.62 257.74,289.62" fill="none" stroke="#c4a27f" stroke-width="1.9" stroke-linejoin="round"/>
<polygon points="270.00,295.30 274.47,298.55 272.76,303.81 267.24,303.81 265.53,298.55" fill="none" stroke="#c4a27f" stroke-width="1.9" stroke-linejoin="round"/>
<polygon points="266.00,301.74 270.05,304.68 268.50,309.44 263.50,309.44 261.95,304.68" fill="none" stroke="#c4a27f" stroke-width="1.9" stroke-linejoin="round"/>
<polygon points="272.00,312.02 276.26,315.12 274.63,320.12 269.37,320.12 267.74,315.12" fill="none" stroke="#c4a27f" stroke-width="1.9" stroke-linejoin="round"/>
<polygon points="221.00,186.42 224.41,188.89 223.11,192.90 218.89,192.90 217.59,188.89" fill="none" stroke="#c4a27f" stroke-width="1.9" stroke-linejoin="round"/>
<polygon points="243.00,278.19 246.62,280.82 245.24,285.08 240.76,285.08 239.38,280.82" fill="none" stroke="#c4a27f" stroke-width="1.9" stroke-linejoin="round"/>
<path d="M210.3,131.1 L227.7,133.2" fill="none" stroke="#1ec41e" stroke-width="3.1" stroke-linecap="round" stroke-linejoin="round" />
<path d="M217.5,150.5 L235.9,150.5" fill="none" stroke="#1ec41e" stroke-width="3.1" stroke-linecap="round" stroke-linejoin="round" />
<path d="M219.5,169 L245,173" fill="none" stroke="#1ec41e" stroke-width="3.1" stroke-linecap="round" stroke-linejoin="round" />
<path d="M226,140 L244,142" fill="none" stroke="#1ec41e" stroke-width="3.1" stroke-linecap="round" stroke-linejoin="round" />
<path d="M240,147 L262,149" fill="none" stroke="#1ec41e" stroke-width="3.1" stroke-linecap="round" stroke-linejoin="round" />
<path d="M235,158 L255,160" fill="none" stroke="#1ec41e" stroke-width="3.1" stroke-linecap="round" stroke-linejoin="round" />
<path d="M244,136 L262,140" fill="none" stroke="#1ec41e" stroke-width="3.1" stroke-linecap="round" stroke-linejoin="round" />
<path d="M250,166 L272,168" fill="none" stroke="#1ec41e" stroke-width="3.1" stroke-linecap="round" stroke-linejoin="round" />
<path d="M230,178 L252,180" fill="none" stroke="#1ec41e" stroke-width="3.1" stroke-linecap="round" stroke-linejoin="round" />
<polygon points="210.30,167.40 213.72,169.89 212.42,173.91 208.18,173.91 206.88,169.89" fill="none" stroke="#1ec41e" stroke-width="1.6" stroke-linejoin="round"/>
<polygon points="232.00,131.60 235.23,133.95 234.00,137.75 230.00,137.75 228.77,133.95" fill="none" stroke="#1ec41e" stroke-width="1.6" stroke-linejoin="round"/>
<polygon points="248.00,138.60 251.23,140.95 250.00,144.75 246.00,144.75 244.77,140.95" fill="none" stroke="#1ec41e" stroke-width="1.6" stroke-linejoin="round"/>
<polygon points="258.00,148.80 261.04,151.01 259.88,154.59 256.12,154.59 254.96,151.01" fill="none" stroke="#1ec41e" stroke-width="1.6" stroke-linejoin="round"/>
<path d="M267.2,216.3 L297.9,218.4" fill="none" stroke="#2f8c3d" stroke-width="3.1" stroke-linecap="round" stroke-linejoin="round" />
<path d="M265.2,226.6 L300,228.6" fill="none" stroke="#2f8c3d" stroke-width="3.1" stroke-linecap="round" stroke-linejoin="round" />
<path d="M250.9,234.7 L279.5,235.8" fill="none" stroke="#2f8c3d" stroke-width="3.1" stroke-linecap="round" stroke-linejoin="round" />
<path d="M243,213 L262,204" fill="none" stroke="#2f8c3d" stroke-width="3.1" stroke-linecap="round" stroke-linejoin="round" />
<path d="M268,204 L296,204" fill="none" stroke="#2f8c3d" stroke-width="3.1" stroke-linecap="round" stroke-linejoin="round" />
<path d="M290,210 L304,214" fill="none" stroke="#2f8c3d" stroke-width="3.1" stroke-linecap="round" stroke-linejoin="round" />
<path d="M276,222 L296,222" fill="none" stroke="#2f8c3d" stroke-width="3.1" stroke-linecap="round" stroke-linejoin="round" />
<polygon points="246.80,226.90 250.41,229.53 249.03,233.77 244.57,233.77 243.19,229.53" fill="none" stroke="#2f8c3d" stroke-width="1.6" stroke-linejoin="round"/>
<polygon points="302.00,216.80 305.42,219.29 304.12,223.31 299.88,223.31 298.58,219.29" fill="none" stroke="#2f8c3d" stroke-width="1.6" stroke-linejoin="round"/>
<polygon points="306.00,223.60 309.23,225.95 308.00,229.75 304.00,229.75 302.77,225.95" fill="none" stroke="#2f8c3d" stroke-width="1.6" stroke-linejoin="round"/>
<polygon points="253.00,206.80 256.04,209.01 254.88,212.59 251.12,212.59 249.96,209.01" fill="none" stroke="#2f8c3d" stroke-width="1.6" stroke-linejoin="round"/>
<path d="M211,50 C203,55 196,60 192,68 C188,76 190,84 196,91 C203,99 211,106 217,113 C222,119 225,123 228,127" fill="none" stroke="#b39878" stroke-width="5.2" stroke-linecap="round" stroke-linejoin="round" />
<path d="M211,50 C203,55 196,60 192,68 C188,76 190,84 196,91 C203,99 211,106 217,113 C222,119 225,123 228,127" fill="none" stroke="#d8b996" stroke-width="3.4" stroke-linecap="round" stroke-linejoin="round" />
<path d="M228,127 C234,133 242,139 252,146 C262,154 270,162 276,171 C278,175 280,177 282,179" fill="none" stroke="#1ec41e" stroke-width="4.4" stroke-linecap="round" stroke-linejoin="round" />
<path d="M282,179 C288,184 294,188 299,192" fill="none" stroke="#d8b996" stroke-width="4.0" stroke-linecap="round" stroke-linejoin="round" />
<path d="M299,192 C306,197 312,206 313,216 C314,225 311,231 306,236" fill="none" stroke="#2f8c3d" stroke-width="4.2" stroke-linecap="round" stroke-linejoin="round" />
<path d="M306,236 C299,242 289,250 281,258 C275,265 271,273 272,281 C273,289 283,293 287,300 C290,306 285,310 278,309 C271,308 266,303 262,296 C257,287 250,278 243,267 C236,257 230,251 232,244" fill="none" stroke="#d8b996" stroke-width="4.2" stroke-linecap="round" stroke-linejoin="round" />
<path d="M232,244 C240,238 247,231 248,222 C249,213 245,206 238,203" fill="none" stroke="#2f8c3d" stroke-width="4.2" stroke-linecap="round" stroke-linejoin="round" />
<path d="M238,203 C230,200 220,194 211,187" fill="none" stroke="#d8b996" stroke-width="4.4" stroke-linecap="round" stroke-linejoin="round" />
<path d="M211,187 C204,182 200,175 203,168 C207,161 215,157 224,154 C238,149 254,146 266,140 C274,136 280,133 285,129" fill="none" stroke="#1ec41e" stroke-width="5.0" stroke-linecap="round" stroke-linejoin="round" />
<path d="M285,129 C290,124 295,117 295,108 C294,98 286,89 279,82 C271,74 263,66 257,60 C254,56 251,53 249,50" fill="none" stroke="#d8b996" stroke-width="4.6" stroke-linecap="round" stroke-linejoin="round" />
<polygon points="265.65,167.61 262.61,170.65 258.46,169.54 257.35,165.39 260.39,162.35 264.54,163.46" fill="none" stroke="#151515" stroke-width="2.2" stroke-linejoin="round"/>
<polygon points="269.87,166.45 273.68,168.31 273.09,172.50 268.92,173.24 266.94,169.50" fill="none" stroke="#151515" stroke-width="2.2" stroke-linejoin="round"/>
<polygon points="301.65,207.61 298.61,210.65 294.46,209.54 293.35,205.39 296.39,202.35 300.54,203.46" fill="none" stroke="#151515" stroke-width="2.2" stroke-linejoin="round"/>
<polygon points="309.10,206.50 306.61,209.92 302.59,208.62 302.59,204.38 306.61,203.08" fill="none" stroke="#151515" stroke-width="2.2" stroke-linejoin="round"/>
<path d="M246,160.5 L256,162.5" fill="none" stroke="#2a3bd0" stroke-width="2.6" stroke-linecap="round" stroke-linejoin="round" />
<path d="M256,163 L266,166" fill="none" stroke="#151515" stroke-width="2.8" stroke-linecap="round" stroke-linejoin="round" />
<path d="M262,170 L272,172" fill="none" stroke="#2a3bd0" stroke-width="2.4" stroke-linecap="round" stroke-linejoin="round" />
<path d="M266,166 L276,171 L282,169" fill="none" stroke="#151515" stroke-width="2.8" stroke-linecap="round" stroke-linejoin="round" />
<path d="M281,168 L288,165 L295,169 L293,177 L285,179 Z" fill="none" stroke="#111" stroke-width="2.6" stroke-linecap="round" stroke-linejoin="round" />
<path d="M288,165 L294,162 L300,163" fill="none" stroke="#cc3322" stroke-width="2.2" stroke-linecap="round" stroke-linejoin="round" />
<path d="M300,163 L304,158 M300,163 L310,168 M300,163 L304,170" fill="none" stroke="#e0801a" stroke-width="2.0" stroke-linecap="round" stroke-linejoin="round" />
<path d="M285,179 L283,185" fill="none" stroke="#cc3322" stroke-width="2.0" stroke-linecap="round" stroke-linejoin="round" />
<path d="M293,177 L297,181" fill="none" stroke="#cc3322" stroke-width="2.0" stroke-linecap="round" stroke-linejoin="round" />
<path d="M284.9,208.8 L292,209.8" fill="none" stroke="#2a3bd0" stroke-width="2.8" stroke-linecap="round" stroke-linejoin="round" />
<path d="M292,208 L301,206" fill="none" stroke="#151515" stroke-width="2.8" stroke-linecap="round" stroke-linejoin="round" />
<path d="M301,206 L309,204 L313,197 L320,196 L325,203 L320,210 L312,210 Z" fill="none" stroke="#111" stroke-width="2.6" stroke-linecap="round" stroke-linejoin="round" />
<path d="M320,196 L327,192 L334,193 L336,199" fill="none" stroke="#111" stroke-width="2.4" stroke-linecap="round" stroke-linejoin="round" />
<path d="M336,199 L339,203" fill="none" stroke="#cc3322" stroke-width="2.0" stroke-linecap="round" stroke-linejoin="round" />
<path d="M339,203 L343,198 M339,203 L346,207 M339,203 L336,209" fill="none" stroke="#e0801a" stroke-width="2.0" stroke-linecap="round" stroke-linejoin="round" />
<path d="M313,197 L316,192 M325,203 L328,209 M320,210 L320,215" fill="none" stroke="#cc3322" stroke-width="2.0" stroke-linecap="round" stroke-linejoin="round" />
<line x1="466.1" y1="98.9" x2="663.3" y2="162.4" stroke="#222" stroke-width="0.9"/>
<line x1="457.1" y1="107.9" x2="556.9" y2="340.3" stroke="#222" stroke-width="0.9"/>
<rect x="556.9" y="162.4" width="106.40" height="177.90" fill="#fff" stroke="#555" stroke-width="1.1"/>
<rect x="457.1" y="98.9" width="9" height="9" fill="none" stroke="#111" stroke-width="1.3"/>
<text x="0" y="0" font-size="9.6" fill="#1a1a1a" transform="translate(558.6,167.6) rotate(46)">Surface</text>
<line x1="582.1" y1="190.5" x2="582.1" y2="206.3" stroke="#444" stroke-width="0.9"/>
<text x="599.30" y="177.90" font-size="11.25" fill="#1a1a1a" text-anchor="start" font-weight="normal" font-style="normal" >5′</text>
<text x="611.60" y="181.90" font-size="9.0" fill="#8a8a8a" text-anchor="middle" font-weight="normal" font-style="normal" >A</text>
<text x="618.60" y="177.00" font-size="9.0" fill="#8a8a8a" text-anchor="middle" font-weight="normal" font-style="normal" >C</text>
<line x1="622.8" y1="173.40" x2="627.8" y2="173.40" stroke="#111" stroke-width="0.9"/>
<text x="631.40" y="177.00" font-size="9.0" fill="#1a1a1a" text-anchor="middle" font-weight="normal" font-style="normal" >T</text>
<line x1="635.0" y1="173.40" x2="642.8" y2="173.40" stroke="#111" stroke-width="0.9"/>
<text x="617.20" y="184.00" font-size="7.2" fill="#1a1a1a" text-anchor="start" font-weight="normal" font-style="normal" >−5</text>
<polygon points="653.60,163.80 655.80,168.08 660.39,166.61 658.92,171.20 663.20,173.40 658.92,175.60 660.39,180.19 655.80,178.72 653.60,183.00 651.40,178.72 646.81,180.19 648.28,175.60 644.00,173.40 648.28,171.20 646.81,166.61 651.40,168.08" fill="url(#starg)"/>
<text x="604.60" y="189.40" font-size="9.0" fill="#8a8a8a" text-anchor="middle" font-weight="normal" font-style="normal" >C</text>
<text x="600.80" y="197.60" font-size="9.0" fill="#8a8a8a" text-anchor="middle" font-weight="normal" font-style="normal" >T</text>
<text x="598.30" y="205.90" font-size="9.0" fill="#8a8a8a" text-anchor="middle" font-weight="normal" font-style="normal" >G</text>
<text x="582.30" y="215.30" font-size="9.6" fill="#1a1a1a" text-anchor="middle" font-weight="normal" font-style="normal" >T</text>
<text x="597.00" y="215.30" font-size="9.6" fill="#1a1a1a" text-anchor="middle" font-weight="normal" font-style="normal" >A</text>
<line x1="587.4" y1="211.70" x2="592.0" y2="211.70" stroke="#111" stroke-width="1.1"/>
<text x="582.30" y="224.36" font-size="9.6" fill="#1a1a1a" text-anchor="middle" font-weight="normal" font-style="normal" >G</text>
<text x="597.00" y="224.36" font-size="9.6" fill="#1a1a1a" text-anchor="middle" font-weight="normal" font-style="normal" >C</text>
<line x1="587.4" y1="220.76" x2="592.0" y2="220.76" stroke="#111" stroke-width="1.1"/>
<text x="582.30" y="233.42" font-size="9.6" fill="#1a1a1a" text-anchor="middle" font-weight="normal" font-style="normal" >G</text>
<text x="597.00" y="233.42" font-size="9.6" fill="#1a1a1a" text-anchor="middle" font-weight="normal" font-style="normal" >C</text>
<line x1="587.4" y1="229.82" x2="592.0" y2="229.82" stroke="#111" stroke-width="1.1"/>
<text x="582.30" y="242.48" font-size="9.6" fill="#1a1a1a" text-anchor="middle" font-weight="normal" font-style="normal" >A</text>
<text x="597.00" y="242.48" font-size="9.6" fill="#1a1a1a" text-anchor="middle" font-weight="normal" font-style="normal" >T</text>
<line x1="587.4" y1="238.88" x2="592.0" y2="238.88" stroke="#111" stroke-width="1.1"/>
<text x="582.30" y="251.54" font-size="9.6" fill="#1a1a1a" text-anchor="middle" font-weight="normal" font-style="normal" >C</text>
<text x="597.00" y="251.54" font-size="9.6" fill="#1a1a1a" text-anchor="middle" font-weight="normal" font-style="normal" >G</text>
<line x1="587.4" y1="247.94" x2="592.0" y2="247.94" stroke="#111" stroke-width="1.1"/>
<text x="582.30" y="260.60" font-size="9.6" fill="#1a1a1a" text-anchor="middle" font-weight="normal" font-style="normal" >C</text>
<text x="597.00" y="260.60" font-size="9.6" fill="#1a1a1a" text-anchor="middle" font-weight="normal" font-style="normal" >G</text>
<line x1="587.4" y1="257.00" x2="592.0" y2="257.00" stroke="#111" stroke-width="1.1"/>
<text x="582.30" y="269.66" font-size="9.6" fill="#1a1a1a" text-anchor="middle" font-weight="normal" font-style="normal" >C</text>
<text x="597.00" y="269.66" font-size="9.6" fill="#1a1a1a" text-anchor="middle" font-weight="normal" font-style="normal" >G</text>
<line x1="587.4" y1="266.06" x2="592.0" y2="266.06" stroke="#111" stroke-width="1.1"/>
<text x="582.30" y="278.72" font-size="9.6" fill="#1a1a1a" text-anchor="middle" font-weight="normal" font-style="normal" >C</text>
<text x="597.00" y="278.72" font-size="9.6" fill="#1a1a1a" text-anchor="middle" font-weight="normal" font-style="normal" >G</text>
<line x1="587.4" y1="275.12" x2="592.0" y2="275.12" stroke="#111" stroke-width="1.1"/>
<text x="582.30" y="287.78" font-size="9.6" fill="#1a1a1a" text-anchor="middle" font-weight="normal" font-style="normal" >C</text>
<text x="597.00" y="287.78" font-size="9.6" fill="#1a1a1a" text-anchor="middle" font-weight="normal" font-style="normal" >G</text>
<line x1="587.4" y1="284.18" x2="592.0" y2="284.18" stroke="#111" stroke-width="1.1"/>
<text x="582.30" y="296.84" font-size="9.6" fill="#1a1a1a" text-anchor="middle" font-weight="normal" font-style="normal" >T</text>
<text x="597.00" y="296.84" font-size="9.6" fill="#1a1a1a" text-anchor="middle" font-weight="normal" font-style="normal" >A</text>
<line x1="587.4" y1="293.24" x2="592.0" y2="293.24" stroke="#111" stroke-width="1.1"/>
<text x="582.30" y="305.90" font-size="9.6" fill="#1a1a1a" text-anchor="middle" font-weight="normal" font-style="normal" >C</text>
<text x="597.00" y="305.90" font-size="9.6" fill="#1a1a1a" text-anchor="middle" font-weight="normal" font-style="normal" >G</text>
<line x1="587.4" y1="302.30" x2="592.0" y2="302.30" stroke="#111" stroke-width="1.1"/>
<text x="601.20" y="213.60" font-size="7.2" fill="#1a1a1a" text-anchor="start" font-weight="normal" font-style="normal" >1</text>
<text x="601.60" y="296.60" font-size="7.2" fill="#1a1a1a" text-anchor="start" font-weight="normal" font-style="normal" >10</text>
<line x1="576.7" y1="209.3" x2="576.7" y2="305.8" stroke="#333" stroke-width="0.9"/>
<text x="569.70" y="262.20" font-size="10.5" fill="#e0282e" text-anchor="middle" font-weight="normal" font-style="normal" >L</text>
<text x="565.60" y="313.00" font-size="11.25" fill="#1a1a1a" text-anchor="start" font-weight="normal" font-style="normal" >5′</text>
<text x="615.00" y="221.20" font-size="10.0" fill="#e0282e" text-anchor="start" font-weight="normal" font-style="normal" >N</text>
<polyline points="602.4,214.8 608.2,220.0 614.2,220.0" fill="none" stroke="#333" stroke-width="0.8"/>
<text x="638.70" y="215.30" font-size="9.6" fill="#1a1a1a" text-anchor="middle" font-weight="normal" font-style="normal" >T</text>
<text x="639.70" y="224.20" font-size="9.6" fill="#1a1a1a" text-anchor="middle" font-weight="normal" font-style="normal" >G</text>
<text x="640.70" y="233.10" font-size="9.6" fill="#1a1a1a" text-anchor="middle" font-weight="normal" font-style="normal" >G</text>
<text x="641.60" y="242.50" font-size="9.6" fill="#1a1a1a" text-anchor="middle" font-weight="normal" font-style="normal" >A</text>
<text x="646.60" y="251.40" font-size="9.6" fill="#1a1a1a" text-anchor="middle" font-weight="normal" font-style="normal" >A</text>
<text x="649.50" y="260.60" font-size="9.6" fill="#1a1a1a" text-anchor="middle" font-weight="normal" font-style="normal" >G</text>
<text x="650.50" y="269.50" font-size="9.6" fill="#1a1a1a" text-anchor="middle" font-weight="normal" font-style="normal" >G</text>
<text x="648.50" y="278.40" font-size="9.6" fill="#1a1a1a" text-anchor="middle" font-weight="normal" font-style="normal" >A</text>
<text x="645.60" y="287.80" font-size="9.6" fill="#1a1a1a" text-anchor="middle" font-weight="normal" font-style="normal" >G</text>
<text x="641.60" y="296.70" font-size="9.6" fill="#1a1a1a" text-anchor="middle" font-weight="normal" font-style="normal" >G</text>
<text x="637.70" y="305.90" font-size="9.6" fill="#1a1a1a" text-anchor="middle" font-weight="normal" font-style="normal" >C</text>
<text x="632.80" y="314.80" font-size="9.6" fill="#1a1a1a" text-anchor="middle" font-weight="normal" font-style="normal" >G</text>
<text x="600.30" y="312.80" font-size="9.6" fill="#1a1a1a" text-anchor="middle" font-weight="normal" font-style="normal" >T</text>
<text x="607.20" y="319.70" font-size="9.6" fill="#1a1a1a" text-anchor="middle" font-weight="normal" font-style="normal" >A</text>
<text x="616.00" y="322.70" font-size="9.6" fill="#1a1a1a" text-anchor="middle" font-weight="normal" font-style="normal" >T</text>
<text x="625.00" y="320.70" font-size="9.6" fill="#1a1a1a" text-anchor="middle" font-weight="normal" font-style="normal" >T</text>
<text x="642.60" y="215.30" font-size="7.2" fill="#1a1a1a" text-anchor="start" font-weight="normal" font-style="normal" >27</text>
<text x="652.40" y="280.40" font-size="7.2" fill="#1a1a1a" text-anchor="start" font-weight="normal" font-style="normal" >20</text>
<text x="570.6" y="333.4" font-size="10.2" fill="#e0282e">5′<tspan font-size="7" dy="2">1A:11</tspan><tspan dy="-2"> (3′</tspan><tspan font-size="7" dy="2">11G:11</tspan><tspan dy="-2">) DA</tspan></text>
<line x1="118" y1="871.5" x2="47.2" y2="926.4" stroke="#222" stroke-width="0.9"/>
<line x1="127" y1="871.5" x2="152" y2="926.4" stroke="#222" stroke-width="0.9"/>
<rect x="47.2" y="926.4" width="104.80" height="176.10" fill="#fff" stroke="#555" stroke-width="1.1"/>
<rect x="118" y="862.5" width="9" height="9" fill="none" stroke="#111" stroke-width="1.3"/>
<text x="0" y="0" font-size="9.6" fill="#1a1a1a" transform="translate(47.3,931.2) rotate(46)">Surface</text>
<line x1="71.1" y1="953.4" x2="71.1" y2="969.7" stroke="#444" stroke-width="0.9"/>
<text x="87.40" y="940.20" font-size="11.25" fill="#1a1a1a" text-anchor="start" font-weight="normal" font-style="normal" >5′</text>
<text x="100.00" y="945.00" font-size="9.0" fill="#8a8a8a" text-anchor="middle" font-weight="normal" font-style="normal" >A</text>
<text x="108.00" y="939.90" font-size="9.0" fill="#8a8a8a" text-anchor="middle" font-weight="normal" font-style="normal" >C</text>
<line x1="111.5" y1="936.30" x2="116.5" y2="936.30" stroke="#111" stroke-width="0.9"/>
<text x="120.10" y="939.90" font-size="9.0" fill="#1a1a1a" text-anchor="middle" font-weight="normal" font-style="normal" >T</text>
<line x1="123.7" y1="936.30" x2="132.0" y2="936.30" stroke="#111" stroke-width="0.9"/>
<text x="106.40" y="946.40" font-size="7.2" fill="#1a1a1a" text-anchor="start" font-weight="normal" font-style="normal" >−5</text>
<polygon points="142.20,928.20 144.31,932.30 148.71,930.89 147.30,935.29 151.40,937.40 147.30,939.51 148.71,943.91 144.31,942.50 142.20,946.60 140.09,942.50 135.69,943.91 137.10,939.51 133.00,937.40 137.10,935.29 135.69,930.89 140.09,932.30" fill="url(#starg)"/>
<text x="93.50" y="951.40" font-size="9.0" fill="#8a8a8a" text-anchor="middle" font-weight="normal" font-style="normal" >C</text>
<text x="90.00" y="959.70" font-size="9.0" fill="#8a8a8a" text-anchor="middle" font-weight="normal" font-style="normal" >T</text>
<text x="87.00" y="968.90" font-size="9.0" fill="#8a8a8a" text-anchor="middle" font-weight="normal" font-style="normal" >G</text>
<text x="70.80" y="978.90" font-size="9.6" fill="#1a1a1a" text-anchor="middle" font-weight="normal" font-style="normal" >T</text>
<text x="86.00" y="978.90" font-size="9.6" fill="#1a1a1a" text-anchor="middle" font-weight="normal" font-style="normal" >A</text>
<line x1="76.0" y1="975.30" x2="80.6" y2="975.30" stroke="#111" stroke-width="1.1"/>
<text x="70.80" y="987.80" font-size="9.6" fill="#1a1a1a" text-anchor="middle" font-weight="normal" font-style="normal" >G</text>
<text x="86.00" y="987.80" font-size="9.6" fill="#1a1a1a" text-anchor="middle" font-weight="normal" font-style="normal" >C</text>
<line x1="76.0" y1="984.20" x2="80.6" y2="984.20" stroke="#111" stroke-width="1.1"/>
<text x="70.80" y="996.80" font-size="9.6" fill="#1a1a1a" text-anchor="middle" font-weight="normal" font-style="normal" >G</text>
<text x="86.00" y="996.80" font-size="9.6" fill="#1a1a1a" text-anchor="middle" font-weight="normal" font-style="normal" >C</text>
<line x1="76.0" y1="993.20" x2="80.6" y2="993.20" stroke="#111" stroke-width="1.1"/>
<text x="70.80" y="1015.00" font-size="9.6" fill="#1a1a1a" text-anchor="middle" font-weight="normal" font-style="normal" >C</text>
<text x="86.00" y="1015.00" font-size="9.6" fill="#1a1a1a" text-anchor="middle" font-weight="normal" font-style="normal" >G</text>
<line x1="76.0" y1="1011.40" x2="80.6" y2="1011.40" stroke="#111" stroke-width="1.1"/>
<text x="70.80" y="1024.00" font-size="9.6" fill="#1a1a1a" text-anchor="middle" font-weight="normal" font-style="normal" >C</text>
<text x="86.00" y="1024.00" font-size="9.6" fill="#1a1a1a" text-anchor="middle" font-weight="normal" font-style="normal" >G</text>
<line x1="76.0" y1="1020.40" x2="80.6" y2="1020.40" stroke="#111" stroke-width="1.1"/>
<text x="70.80" y="1033.10" font-size="9.6" fill="#1a1a1a" text-anchor="middle" font-weight="normal" font-style="normal" >C</text>
<text x="86.00" y="1033.10" font-size="9.6" fill="#1a1a1a" text-anchor="middle" font-weight="normal" font-style="normal" >G</text>
<line x1="76.0" y1="1029.50" x2="80.6" y2="1029.50" stroke="#111" stroke-width="1.1"/>
<text x="70.80" y="1042.30" font-size="9.6" fill="#1a1a1a" text-anchor="middle" font-weight="normal" font-style="normal" >C</text>
<text x="86.00" y="1042.30" font-size="9.6" fill="#1a1a1a" text-anchor="middle" font-weight="normal" font-style="normal" >G</text>
<line x1="76.0" y1="1038.70" x2="80.6" y2="1038.70" stroke="#111" stroke-width="1.1"/>
<text x="70.80" y="1051.50" font-size="9.6" fill="#1a1a1a" text-anchor="middle" font-weight="normal" font-style="normal" >C</text>
<text x="86.00" y="1051.50" font-size="9.6" fill="#1a1a1a" text-anchor="middle" font-weight="normal" font-style="normal" >G</text>
<line x1="76.0" y1="1047.90" x2="80.6" y2="1047.90" stroke="#111" stroke-width="1.1"/>
<text x="70.80" y="1060.70" font-size="9.6" fill="#1a1a1a" text-anchor="middle" font-weight="normal" font-style="normal" >T</text>
<text x="86.00" y="1060.70" font-size="9.6" fill="#1a1a1a" text-anchor="middle" font-weight="normal" font-style="normal" >A</text>
<line x1="76.0" y1="1057.10" x2="80.6" y2="1057.10" stroke="#111" stroke-width="1.1"/>
<text x="70.80" y="1069.50" font-size="9.6" fill="#1a1a1a" text-anchor="middle" font-weight="normal" font-style="normal" >C</text>
<text x="86.00" y="1069.50" font-size="9.6" fill="#1a1a1a" text-anchor="middle" font-weight="normal" font-style="normal" >G</text>
<line x1="76.0" y1="1065.90" x2="80.6" y2="1065.90" stroke="#111" stroke-width="1.1"/>
<text x="70.80" y="1078.10" font-size="9.6" fill="#1a1a1a" text-anchor="middle" font-weight="normal" font-style="normal" >A</text>
<text x="86.00" y="1078.10" font-size="9.6" fill="#1a1a1a" text-anchor="middle" font-weight="normal" font-style="normal" >T</text>
<line x1="76.0" y1="1074.50" x2="80.6" y2="1074.50" stroke="#111" stroke-width="1.1"/>
<text x="66.80" y="1005.60" font-size="9.6" fill="#1a1a1a" text-anchor="middle" font-weight="normal" font-style="normal" >T</text>
<text x="91.20" y="1005.60" font-size="9.6" fill="#1a1a1a" text-anchor="middle" font-weight="normal" font-style="normal" >T</text>
<text x="90.30" y="977.30" font-size="7.2" fill="#1a1a1a" text-anchor="start" font-weight="normal" font-style="normal" >1</text>
<text x="90.60" y="1060.70" font-size="7.2" fill="#1a1a1a" text-anchor="start" font-weight="normal" font-style="normal" >10</text>
<text x="49.00" y="1015.80" font-size="11.0" fill="#e0282e" text-anchor="start" font-weight="normal" font-style="normal" >MM</text>
<polyline points="57.2,1006.8 58.6,1001.8 64.2,1001.8" fill="none" stroke="#333" stroke-width="0.8"/>
<text x="56.20" y="1082.30" font-size="11.25" fill="#1a1a1a" text-anchor="start" font-weight="normal" font-style="normal" >5′</text>
<text x="127.90" y="979.00" font-size="9.6" fill="#1a1a1a" text-anchor="middle" font-weight="normal" font-style="normal" >T</text>
<text x="128.90" y="987.80" font-size="9.6" fill="#1a1a1a" text-anchor="middle" font-weight="normal" font-style="normal" >G</text>
<text x="129.90" y="996.80" font-size="9.6" fill="#1a1a1a" text-anchor="middle" font-weight="normal" font-style="normal" >G</text>
<text x="130.90" y="1005.60" font-size="9.6" fill="#1a1a1a" text-anchor="middle" font-weight="normal" font-style="normal" >A</text>
<text x="135.00" y="1015.00" font-size="9.6" fill="#1a1a1a" text-anchor="middle" font-weight="normal" font-style="normal" >A</text>
<text x="138.10" y="1024.00" font-size="9.6" fill="#1a1a1a" text-anchor="middle" font-weight="normal" font-style="normal" >G</text>
<text x="139.10" y="1033.10" font-size="9.6" fill="#1a1a1a" text-anchor="middle" font-weight="normal" font-style="normal" >G</text>
<text x="138.10" y="1042.30" font-size="9.6" fill="#1a1a1a" text-anchor="middle" font-weight="normal" font-style="normal" >A</text>
<text x="134.00" y="1051.50" font-size="9.6" fill="#1a1a1a" text-anchor="middle" font-weight="normal" font-style="normal" >G</text>
<text x="130.90" y="1060.70" font-size="9.6" fill="#1a1a1a" text-anchor="middle" font-weight="normal" font-style="normal" >G</text>
<text x="126.90" y="1069.50" font-size="9.6" fill="#1a1a1a" text-anchor="middle" font-weight="normal" font-style="normal" >C</text>
<text x="121.80" y="1077.20" font-size="9.6" fill="#1a1a1a" text-anchor="middle" font-weight="normal" font-style="normal" >G</text>
<text x="92.70" y="1083.20" font-size="9.6" fill="#1a1a1a" text-anchor="middle" font-weight="normal" font-style="normal" >A</text>
<text x="103.40" y="1086.30" font-size="9.6" fill="#1a1a1a" text-anchor="middle" font-weight="normal" font-style="normal" >T</text>
<text x="113.20" y="1084.30" font-size="9.6" fill="#1a1a1a" text-anchor="middle" font-weight="normal" font-style="normal" >T</text>
<text x="131.80" y="979.00" font-size="7.2" fill="#1a1a1a" text-anchor="start" font-weight="normal" font-style="normal" >27</text>
<text x="142.00" y="1044.20" font-size="7.2" fill="#1a1a1a" text-anchor="start" font-weight="normal" font-style="normal" >20</text>
<text x="49.0" y="1097.6" font-size="10.2" fill="#e0282e">5′<tspan font-size="7" dy="2">1A:12:4T</tspan><tspan dy="-2"> (3′</tspan><tspan font-size="7" dy="2">12T:12:4T</tspan><tspan dy="-2">) DA</tspan></text>
</svg></body></html>
